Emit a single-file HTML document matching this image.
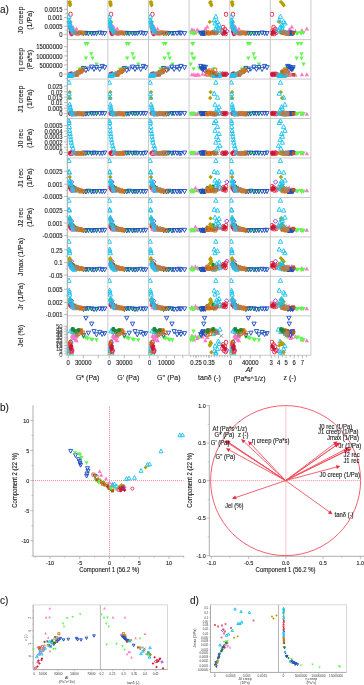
<!DOCTYPE html><html><head><meta charset="utf-8"><title>Figure</title><style>html,body{margin:0;padding:0;background:#fff;width:364px;height:685px;overflow:hidden}svg{display:block;will-change:transform;filter:blur(0.3px)}text{font-family:"Liberation Sans",sans-serif;stroke:#1a1a1a;stroke-width:.12px}text.s{stroke:none;fill:#333}</style></head><body><svg width="364" height="685" viewBox="0 0 364 685" font-family="Liberation Sans, sans-serif"><defs><clipPath id="a0_0"><rect x="67.30" y="0.14" width="40.60" height="39.46"/></clipPath><clipPath id="a0_1"><rect x="67.30" y="39.60" width="40.60" height="39.46"/></clipPath><clipPath id="a0_2"><rect x="67.30" y="79.06" width="40.60" height="39.46"/></clipPath><clipPath id="a0_3"><rect x="67.30" y="118.52" width="40.60" height="39.46"/></clipPath><clipPath id="a0_4"><rect x="67.30" y="157.98" width="40.60" height="39.46"/></clipPath><clipPath id="a0_5"><rect x="67.30" y="197.44" width="40.60" height="39.46"/></clipPath><clipPath id="a0_6"><rect x="67.30" y="236.90" width="40.60" height="39.46"/></clipPath><clipPath id="a0_7"><rect x="67.30" y="276.36" width="40.60" height="39.46"/></clipPath><clipPath id="a0_8"><rect x="67.30" y="315.82" width="40.60" height="39.46"/></clipPath><clipPath id="a1_0"><rect x="107.90" y="0.14" width="40.60" height="39.46"/></clipPath><clipPath id="a1_1"><rect x="107.90" y="39.60" width="40.60" height="39.46"/></clipPath><clipPath id="a1_2"><rect x="107.90" y="79.06" width="40.60" height="39.46"/></clipPath><clipPath id="a1_3"><rect x="107.90" y="118.52" width="40.60" height="39.46"/></clipPath><clipPath id="a1_4"><rect x="107.90" y="157.98" width="40.60" height="39.46"/></clipPath><clipPath id="a1_5"><rect x="107.90" y="197.44" width="40.60" height="39.46"/></clipPath><clipPath id="a1_6"><rect x="107.90" y="236.90" width="40.60" height="39.46"/></clipPath><clipPath id="a1_7"><rect x="107.90" y="276.36" width="40.60" height="39.46"/></clipPath><clipPath id="a1_8"><rect x="107.90" y="315.82" width="40.60" height="39.46"/></clipPath><clipPath id="a2_0"><rect x="148.50" y="0.14" width="40.60" height="39.46"/></clipPath><clipPath id="a2_1"><rect x="148.50" y="39.60" width="40.60" height="39.46"/></clipPath><clipPath id="a2_2"><rect x="148.50" y="79.06" width="40.60" height="39.46"/></clipPath><clipPath id="a2_3"><rect x="148.50" y="118.52" width="40.60" height="39.46"/></clipPath><clipPath id="a2_4"><rect x="148.50" y="157.98" width="40.60" height="39.46"/></clipPath><clipPath id="a2_5"><rect x="148.50" y="197.44" width="40.60" height="39.46"/></clipPath><clipPath id="a2_6"><rect x="148.50" y="236.90" width="40.60" height="39.46"/></clipPath><clipPath id="a2_7"><rect x="148.50" y="276.36" width="40.60" height="39.46"/></clipPath><clipPath id="a2_8"><rect x="148.50" y="315.82" width="40.60" height="39.46"/></clipPath><clipPath id="a3_0"><rect x="189.10" y="0.14" width="40.60" height="39.46"/></clipPath><clipPath id="a3_1"><rect x="189.10" y="39.60" width="40.60" height="39.46"/></clipPath><clipPath id="a3_2"><rect x="189.10" y="79.06" width="40.60" height="39.46"/></clipPath><clipPath id="a3_3"><rect x="189.10" y="118.52" width="40.60" height="39.46"/></clipPath><clipPath id="a3_4"><rect x="189.10" y="157.98" width="40.60" height="39.46"/></clipPath><clipPath id="a3_5"><rect x="189.10" y="197.44" width="40.60" height="39.46"/></clipPath><clipPath id="a3_6"><rect x="189.10" y="236.90" width="40.60" height="39.46"/></clipPath><clipPath id="a3_7"><rect x="189.10" y="276.36" width="40.60" height="39.46"/></clipPath><clipPath id="a3_8"><rect x="189.10" y="315.82" width="40.60" height="39.46"/></clipPath><clipPath id="a4_0"><rect x="229.70" y="0.14" width="40.60" height="39.46"/></clipPath><clipPath id="a4_1"><rect x="229.70" y="39.60" width="40.60" height="39.46"/></clipPath><clipPath id="a4_2"><rect x="229.70" y="79.06" width="40.60" height="39.46"/></clipPath><clipPath id="a4_3"><rect x="229.70" y="118.52" width="40.60" height="39.46"/></clipPath><clipPath id="a4_4"><rect x="229.70" y="157.98" width="40.60" height="39.46"/></clipPath><clipPath id="a4_5"><rect x="229.70" y="197.44" width="40.60" height="39.46"/></clipPath><clipPath id="a4_6"><rect x="229.70" y="236.90" width="40.60" height="39.46"/></clipPath><clipPath id="a4_7"><rect x="229.70" y="276.36" width="40.60" height="39.46"/></clipPath><clipPath id="a4_8"><rect x="229.70" y="315.82" width="40.60" height="39.46"/></clipPath><clipPath id="a5_0"><rect x="270.30" y="0.14" width="40.60" height="39.46"/></clipPath><clipPath id="a5_1"><rect x="270.30" y="39.60" width="40.60" height="39.46"/></clipPath><clipPath id="a5_2"><rect x="270.30" y="79.06" width="40.60" height="39.46"/></clipPath><clipPath id="a5_3"><rect x="270.30" y="118.52" width="40.60" height="39.46"/></clipPath><clipPath id="a5_4"><rect x="270.30" y="157.98" width="40.60" height="39.46"/></clipPath><clipPath id="a5_5"><rect x="270.30" y="197.44" width="40.60" height="39.46"/></clipPath><clipPath id="a5_6"><rect x="270.30" y="236.90" width="40.60" height="39.46"/></clipPath><clipPath id="a5_7"><rect x="270.30" y="276.36" width="40.60" height="39.46"/></clipPath><clipPath id="a5_8"><rect x="270.30" y="315.82" width="40.60" height="39.46"/></clipPath></defs><line x1="107.90" y1="0.00" x2="107.90" y2="355.28" stroke="#c4c4c4" stroke-width="0.9"/><line x1="148.50" y1="0.00" x2="148.50" y2="355.28" stroke="#c4c4c4" stroke-width="0.9"/><line x1="189.10" y1="0.00" x2="189.10" y2="355.28" stroke="#c4c4c4" stroke-width="0.9"/><line x1="229.70" y1="0.00" x2="229.70" y2="355.28" stroke="#c4c4c4" stroke-width="0.9"/><line x1="270.30" y1="0.00" x2="270.30" y2="355.28" stroke="#c4c4c4" stroke-width="0.9"/><line x1="310.90" y1="0.00" x2="310.90" y2="355.28" stroke="#c4c4c4" stroke-width="0.9"/><line x1="67.30" y1="39.60" x2="310.90" y2="39.60" stroke="#c4c4c4" stroke-width="0.9"/><line x1="67.30" y1="79.06" x2="310.90" y2="79.06" stroke="#c4c4c4" stroke-width="0.9"/><line x1="67.30" y1="118.52" x2="310.90" y2="118.52" stroke="#c4c4c4" stroke-width="0.9"/><line x1="67.30" y1="157.98" x2="310.90" y2="157.98" stroke="#c4c4c4" stroke-width="0.9"/><line x1="67.30" y1="197.44" x2="310.90" y2="197.44" stroke="#c4c4c4" stroke-width="0.9"/><line x1="67.30" y1="236.90" x2="310.90" y2="236.90" stroke="#c4c4c4" stroke-width="0.9"/><line x1="67.30" y1="276.36" x2="310.90" y2="276.36" stroke="#c4c4c4" stroke-width="0.9"/><line x1="67.30" y1="315.82" x2="310.90" y2="315.82" stroke="#c4c4c4" stroke-width="0.9"/><line x1="67.30" y1="355.28" x2="310.90" y2="355.28" stroke="#c4c4c4" stroke-width="0.9"/><line x1="67.30" y1="0.00" x2="67.30" y2="355.28" stroke="#9a9a9a" stroke-width="0.9"/><line x1="64.10" y1="9.30" x2="67.30" y2="9.30" stroke="#9a9a9a" stroke-width="0.7"/><text transform="translate(62.50 9.50) scale(0.930 1)" font-size="6.37" text-anchor="end" fill="#1a1a1a" dominant-baseline="central">0.0015</text><line x1="65.50" y1="13.45" x2="67.30" y2="13.45" stroke="#9a9a9a" stroke-width="0.6"/><line x1="64.10" y1="17.60" x2="67.30" y2="17.60" stroke="#9a9a9a" stroke-width="0.7"/><text transform="translate(62.50 17.80) scale(0.930 1)" font-size="6.37" text-anchor="end" fill="#1a1a1a" dominant-baseline="central">0.001</text><line x1="65.50" y1="21.90" x2="67.30" y2="21.90" stroke="#9a9a9a" stroke-width="0.6"/><line x1="64.10" y1="26.20" x2="67.30" y2="26.20" stroke="#9a9a9a" stroke-width="0.7"/><text transform="translate(62.50 26.40) scale(0.930 1)" font-size="6.37" text-anchor="end" fill="#1a1a1a" dominant-baseline="central">0.0005</text><line x1="65.50" y1="30.25" x2="67.30" y2="30.25" stroke="#9a9a9a" stroke-width="0.6"/><line x1="64.10" y1="34.30" x2="67.30" y2="34.30" stroke="#9a9a9a" stroke-width="0.7"/><text transform="translate(62.50 34.50) scale(0.930 1)" font-size="6.37" text-anchor="end" fill="#1a1a1a" dominant-baseline="central">0</text><line x1="65.50" y1="38.35" x2="67.30" y2="38.35" stroke="#9a9a9a" stroke-width="0.6"/><line x1="64.10" y1="46.70" x2="67.30" y2="46.70" stroke="#9a9a9a" stroke-width="0.7"/><text transform="translate(62.50 46.90) scale(0.930 1)" font-size="6.37" text-anchor="end" fill="#1a1a1a" dominant-baseline="central">15000000</text><line x1="65.50" y1="51.30" x2="67.30" y2="51.30" stroke="#9a9a9a" stroke-width="0.6"/><line x1="64.10" y1="55.90" x2="67.30" y2="55.90" stroke="#9a9a9a" stroke-width="0.7"/><text transform="translate(62.50 56.10) scale(0.930 1)" font-size="6.37" text-anchor="end" fill="#1a1a1a" dominant-baseline="central">10000000</text><line x1="65.50" y1="60.40" x2="67.30" y2="60.40" stroke="#9a9a9a" stroke-width="0.6"/><line x1="64.10" y1="64.90" x2="67.30" y2="64.90" stroke="#9a9a9a" stroke-width="0.7"/><text transform="translate(62.50 65.10) scale(0.930 1)" font-size="6.37" text-anchor="end" fill="#1a1a1a" dominant-baseline="central">5000000</text><line x1="65.50" y1="69.45" x2="67.30" y2="69.45" stroke="#9a9a9a" stroke-width="0.6"/><line x1="64.10" y1="74.00" x2="67.30" y2="74.00" stroke="#9a9a9a" stroke-width="0.7"/><text transform="translate(62.50 74.20) scale(0.930 1)" font-size="6.37" text-anchor="end" fill="#1a1a1a" dominant-baseline="central">0</text><line x1="65.50" y1="78.55" x2="67.30" y2="78.55" stroke="#9a9a9a" stroke-width="0.6"/><line x1="64.10" y1="86.10" x2="67.30" y2="86.10" stroke="#9a9a9a" stroke-width="0.7"/><text transform="translate(62.50 86.30) scale(0.930 1)" font-size="6.37" text-anchor="end" fill="#1a1a1a" dominant-baseline="central">0.025</text><line x1="65.50" y1="88.95" x2="67.30" y2="88.95" stroke="#9a9a9a" stroke-width="0.6"/><line x1="64.10" y1="91.80" x2="67.30" y2="91.80" stroke="#9a9a9a" stroke-width="0.7"/><text transform="translate(62.50 92.00) scale(0.930 1)" font-size="6.37" text-anchor="end" fill="#1a1a1a" dominant-baseline="central">0.02</text><line x1="65.50" y1="94.50" x2="67.30" y2="94.50" stroke="#9a9a9a" stroke-width="0.6"/><line x1="64.10" y1="97.20" x2="67.30" y2="97.20" stroke="#9a9a9a" stroke-width="0.7"/><text transform="translate(62.50 97.40) scale(0.930 1)" font-size="6.37" text-anchor="end" fill="#1a1a1a" dominant-baseline="central">0.015</text><line x1="65.50" y1="99.90" x2="67.30" y2="99.90" stroke="#9a9a9a" stroke-width="0.6"/><line x1="64.10" y1="102.60" x2="67.30" y2="102.60" stroke="#9a9a9a" stroke-width="0.7"/><text transform="translate(62.50 102.80) scale(0.930 1)" font-size="6.37" text-anchor="end" fill="#1a1a1a" dominant-baseline="central">0.01</text><line x1="65.50" y1="105.40" x2="67.30" y2="105.40" stroke="#9a9a9a" stroke-width="0.6"/><line x1="64.10" y1="108.20" x2="67.30" y2="108.20" stroke="#9a9a9a" stroke-width="0.7"/><text transform="translate(62.50 108.40) scale(0.930 1)" font-size="6.37" text-anchor="end" fill="#1a1a1a" dominant-baseline="central">0.005</text><line x1="65.50" y1="110.90" x2="67.30" y2="110.90" stroke="#9a9a9a" stroke-width="0.6"/><line x1="64.10" y1="113.60" x2="67.30" y2="113.60" stroke="#9a9a9a" stroke-width="0.7"/><text transform="translate(62.50 113.80) scale(0.930 1)" font-size="6.37" text-anchor="end" fill="#1a1a1a" dominant-baseline="central">0</text><line x1="65.50" y1="116.30" x2="67.30" y2="116.30" stroke="#9a9a9a" stroke-width="0.6"/><line x1="64.10" y1="125.70" x2="67.30" y2="125.70" stroke="#9a9a9a" stroke-width="0.7"/><text transform="translate(62.50 125.90) scale(0.930 1)" font-size="6.37" text-anchor="end" fill="#1a1a1a" dominant-baseline="central">0.0005</text><line x1="65.50" y1="128.40" x2="67.30" y2="128.40" stroke="#9a9a9a" stroke-width="0.6"/><line x1="64.10" y1="131.10" x2="67.30" y2="131.10" stroke="#9a9a9a" stroke-width="0.7"/><text transform="translate(62.50 131.30) scale(0.930 1)" font-size="6.37" text-anchor="end" fill="#1a1a1a" dominant-baseline="central">0.0004</text><line x1="65.50" y1="133.80" x2="67.30" y2="133.80" stroke="#9a9a9a" stroke-width="0.6"/><line x1="64.10" y1="136.50" x2="67.30" y2="136.50" stroke="#9a9a9a" stroke-width="0.7"/><text transform="translate(62.50 136.70) scale(0.930 1)" font-size="6.37" text-anchor="end" fill="#1a1a1a" dominant-baseline="central">0.0003</text><line x1="65.50" y1="139.20" x2="67.30" y2="139.20" stroke="#9a9a9a" stroke-width="0.6"/><line x1="64.10" y1="141.90" x2="67.30" y2="141.90" stroke="#9a9a9a" stroke-width="0.7"/><text transform="translate(62.50 142.10) scale(0.930 1)" font-size="6.37" text-anchor="end" fill="#1a1a1a" dominant-baseline="central">0.0002</text><line x1="65.50" y1="144.55" x2="67.30" y2="144.55" stroke="#9a9a9a" stroke-width="0.6"/><line x1="64.10" y1="147.20" x2="67.30" y2="147.20" stroke="#9a9a9a" stroke-width="0.7"/><text transform="translate(62.50 147.40) scale(0.930 1)" font-size="6.37" text-anchor="end" fill="#1a1a1a" dominant-baseline="central">0.0001</text><line x1="65.50" y1="149.90" x2="67.30" y2="149.90" stroke="#9a9a9a" stroke-width="0.6"/><line x1="64.10" y1="152.60" x2="67.30" y2="152.60" stroke="#9a9a9a" stroke-width="0.7"/><text transform="translate(62.50 152.80) scale(0.930 1)" font-size="6.37" text-anchor="end" fill="#1a1a1a" dominant-baseline="central">0</text><line x1="65.50" y1="155.30" x2="67.30" y2="155.30" stroke="#9a9a9a" stroke-width="0.6"/><line x1="64.10" y1="171.20" x2="67.30" y2="171.20" stroke="#9a9a9a" stroke-width="0.7"/><text transform="translate(62.50 171.40) scale(0.930 1)" font-size="6.37" text-anchor="end" fill="#1a1a1a" dominant-baseline="central">0.0025</text><line x1="65.50" y1="177.70" x2="67.30" y2="177.70" stroke="#9a9a9a" stroke-width="0.6"/><line x1="64.10" y1="184.20" x2="67.30" y2="184.20" stroke="#9a9a9a" stroke-width="0.7"/><text transform="translate(62.50 184.40) scale(0.930 1)" font-size="6.37" text-anchor="end" fill="#1a1a1a" dominant-baseline="central">0.001</text><line x1="65.50" y1="190.30" x2="67.30" y2="190.30" stroke="#9a9a9a" stroke-width="0.6"/><line x1="64.10" y1="196.40" x2="67.30" y2="196.40" stroke="#9a9a9a" stroke-width="0.7"/><text transform="translate(62.50 196.60) scale(0.930 1)" font-size="6.37" text-anchor="end" fill="#1a1a1a" dominant-baseline="central">-0.0005</text><line x1="64.10" y1="210.60" x2="67.30" y2="210.60" stroke="#9a9a9a" stroke-width="0.7"/><text transform="translate(62.50 210.80) scale(0.930 1)" font-size="6.37" text-anchor="end" fill="#1a1a1a" dominant-baseline="central">0.0025</text><line x1="65.50" y1="216.80" x2="67.30" y2="216.80" stroke="#9a9a9a" stroke-width="0.6"/><line x1="64.10" y1="223.00" x2="67.30" y2="223.00" stroke="#9a9a9a" stroke-width="0.7"/><text transform="translate(62.50 223.20) scale(0.930 1)" font-size="6.37" text-anchor="end" fill="#1a1a1a" dominant-baseline="central">0.001</text><line x1="65.50" y1="229.30" x2="67.30" y2="229.30" stroke="#9a9a9a" stroke-width="0.6"/><line x1="64.10" y1="235.60" x2="67.30" y2="235.60" stroke="#9a9a9a" stroke-width="0.7"/><text transform="translate(62.50 235.80) scale(0.930 1)" font-size="6.37" text-anchor="end" fill="#1a1a1a" dominant-baseline="central">-0.0005</text><line x1="64.10" y1="249.80" x2="67.30" y2="249.80" stroke="#9a9a9a" stroke-width="0.7"/><text transform="translate(62.50 250.00) scale(0.930 1)" font-size="6.37" text-anchor="end" fill="#1a1a1a" dominant-baseline="central">0.25</text><line x1="65.50" y1="256.25" x2="67.30" y2="256.25" stroke="#9a9a9a" stroke-width="0.6"/><line x1="64.10" y1="262.70" x2="67.30" y2="262.70" stroke="#9a9a9a" stroke-width="0.7"/><text transform="translate(62.50 262.90) scale(0.930 1)" font-size="6.37" text-anchor="end" fill="#1a1a1a" dominant-baseline="central">0.1</text><line x1="65.50" y1="268.95" x2="67.30" y2="268.95" stroke="#9a9a9a" stroke-width="0.6"/><line x1="64.10" y1="275.20" x2="67.30" y2="275.20" stroke="#9a9a9a" stroke-width="0.7"/><text transform="translate(62.50 275.40) scale(0.930 1)" font-size="6.37" text-anchor="end" fill="#1a1a1a" dominant-baseline="central">-0.05</text><line x1="64.10" y1="289.20" x2="67.30" y2="289.20" stroke="#9a9a9a" stroke-width="0.7"/><text transform="translate(62.50 289.40) scale(0.930 1)" font-size="6.37" text-anchor="end" fill="#1a1a1a" dominant-baseline="central">0.005</text><line x1="65.50" y1="295.85" x2="67.30" y2="295.85" stroke="#9a9a9a" stroke-width="0.6"/><line x1="64.10" y1="302.50" x2="67.30" y2="302.50" stroke="#9a9a9a" stroke-width="0.7"/><text transform="translate(62.50 302.70) scale(0.930 1)" font-size="6.37" text-anchor="end" fill="#1a1a1a" dominant-baseline="central">0.002</text><line x1="65.50" y1="308.55" x2="67.30" y2="308.55" stroke="#9a9a9a" stroke-width="0.6"/><line x1="64.10" y1="314.60" x2="67.30" y2="314.60" stroke="#9a9a9a" stroke-width="0.7"/><text transform="translate(62.50 314.80) scale(0.930 1)" font-size="6.37" text-anchor="end" fill="#1a1a1a" dominant-baseline="central">-0.001</text><line x1="64.10" y1="326.30" x2="67.30" y2="326.30" stroke="#9a9a9a" stroke-width="0.7"/><text transform="translate(62.50 326.50) scale(0.930 1)" font-size="6.37" text-anchor="end" fill="#1a1a1a" dominant-baseline="central" class="s">50</text><line x1="65.50" y1="327.68" x2="67.30" y2="327.68" stroke="#9a9a9a" stroke-width="0.6"/><line x1="64.10" y1="329.05" x2="67.30" y2="329.05" stroke="#9a9a9a" stroke-width="0.7"/><text transform="translate(62.50 329.25) scale(0.930 1)" font-size="6.37" text-anchor="end" fill="#1a1a1a" dominant-baseline="central" class="s">45</text><line x1="65.50" y1="330.43" x2="67.30" y2="330.43" stroke="#9a9a9a" stroke-width="0.6"/><line x1="64.10" y1="331.80" x2="67.30" y2="331.80" stroke="#9a9a9a" stroke-width="0.7"/><text transform="translate(62.50 332.00) scale(0.930 1)" font-size="6.37" text-anchor="end" fill="#1a1a1a" dominant-baseline="central" class="s">40</text><line x1="65.50" y1="333.18" x2="67.30" y2="333.18" stroke="#9a9a9a" stroke-width="0.6"/><line x1="64.10" y1="334.55" x2="67.30" y2="334.55" stroke="#9a9a9a" stroke-width="0.7"/><text transform="translate(62.50 334.75) scale(0.930 1)" font-size="6.37" text-anchor="end" fill="#1a1a1a" dominant-baseline="central" class="s">35</text><line x1="65.50" y1="335.93" x2="67.30" y2="335.93" stroke="#9a9a9a" stroke-width="0.6"/><line x1="64.10" y1="337.30" x2="67.30" y2="337.30" stroke="#9a9a9a" stroke-width="0.7"/><text transform="translate(62.50 337.50) scale(0.930 1)" font-size="6.37" text-anchor="end" fill="#1a1a1a" dominant-baseline="central" class="s">30</text><line x1="65.50" y1="338.68" x2="67.30" y2="338.68" stroke="#9a9a9a" stroke-width="0.6"/><line x1="64.10" y1="340.05" x2="67.30" y2="340.05" stroke="#9a9a9a" stroke-width="0.7"/><text transform="translate(62.50 340.25) scale(0.930 1)" font-size="6.37" text-anchor="end" fill="#1a1a1a" dominant-baseline="central" class="s">25</text><line x1="65.50" y1="341.43" x2="67.30" y2="341.43" stroke="#9a9a9a" stroke-width="0.6"/><line x1="64.10" y1="342.80" x2="67.30" y2="342.80" stroke="#9a9a9a" stroke-width="0.7"/><text transform="translate(62.50 343.00) scale(0.930 1)" font-size="6.37" text-anchor="end" fill="#1a1a1a" dominant-baseline="central" class="s">20</text><line x1="65.50" y1="344.18" x2="67.30" y2="344.18" stroke="#9a9a9a" stroke-width="0.6"/><line x1="64.10" y1="345.55" x2="67.30" y2="345.55" stroke="#9a9a9a" stroke-width="0.7"/><text transform="translate(62.50 345.75) scale(0.930 1)" font-size="6.37" text-anchor="end" fill="#1a1a1a" dominant-baseline="central" class="s">15</text><line x1="65.50" y1="346.93" x2="67.30" y2="346.93" stroke="#9a9a9a" stroke-width="0.6"/><line x1="64.10" y1="348.30" x2="67.30" y2="348.30" stroke="#9a9a9a" stroke-width="0.7"/><text transform="translate(62.50 348.50) scale(0.930 1)" font-size="6.37" text-anchor="end" fill="#1a1a1a" dominant-baseline="central" class="s">10</text><line x1="65.50" y1="349.68" x2="67.30" y2="349.68" stroke="#9a9a9a" stroke-width="0.6"/><line x1="64.10" y1="351.05" x2="67.30" y2="351.05" stroke="#9a9a9a" stroke-width="0.7"/><text transform="translate(62.50 351.25) scale(0.930 1)" font-size="6.37" text-anchor="end" fill="#1a1a1a" dominant-baseline="central" class="s">5</text><line x1="65.50" y1="352.43" x2="67.30" y2="352.43" stroke="#9a9a9a" stroke-width="0.6"/><line x1="64.10" y1="353.80" x2="67.30" y2="353.80" stroke="#9a9a9a" stroke-width="0.7"/><text transform="translate(62.50 354.00) scale(0.930 1)" font-size="6.37" text-anchor="end" fill="#1a1a1a" dominant-baseline="central" class="s">0</text><line x1="65.50" y1="355.18" x2="67.30" y2="355.18" stroke="#9a9a9a" stroke-width="0.6"/><text transform="translate(20.60 20.17) rotate(-90) scale(0.930 1)" font-size="7.56" text-anchor="middle" fill="#1a1a1a" dominant-baseline="central">J0 creep</text><text transform="translate(29.50 20.17) rotate(-90) scale(0.930 1)" font-size="7.56" text-anchor="middle" fill="#1a1a1a" dominant-baseline="central">(1/Pa)</text><text transform="translate(20.60 59.63) rotate(-90) scale(0.930 1)" font-size="7.56" text-anchor="middle" fill="#1a1a1a" dominant-baseline="central">η creep</text><text transform="translate(29.50 59.63) rotate(-90) scale(0.930 1)" font-size="7.56" text-anchor="middle" fill="#1a1a1a" dominant-baseline="central">(Pa*s)</text><text transform="translate(20.60 99.09) rotate(-90) scale(0.930 1)" font-size="7.56" text-anchor="middle" fill="#1a1a1a" dominant-baseline="central">J1 creep</text><text transform="translate(29.50 99.09) rotate(-90) scale(0.930 1)" font-size="7.56" text-anchor="middle" fill="#1a1a1a" dominant-baseline="central">(1/Pa)</text><text transform="translate(20.60 138.55) rotate(-90) scale(0.930 1)" font-size="7.56" text-anchor="middle" fill="#1a1a1a" dominant-baseline="central">J0 rec</text><text transform="translate(29.50 138.55) rotate(-90) scale(0.930 1)" font-size="7.56" text-anchor="middle" fill="#1a1a1a" dominant-baseline="central">(1/Pa)</text><text transform="translate(20.60 178.01) rotate(-90) scale(0.930 1)" font-size="7.56" text-anchor="middle" fill="#1a1a1a" dominant-baseline="central">J1 rec</text><text transform="translate(29.50 178.01) rotate(-90) scale(0.930 1)" font-size="7.56" text-anchor="middle" fill="#1a1a1a" dominant-baseline="central">(1/Pa)</text><text transform="translate(20.60 217.47) rotate(-90) scale(0.930 1)" font-size="7.56" text-anchor="middle" fill="#1a1a1a" dominant-baseline="central">J2 rec</text><text transform="translate(29.50 217.47) rotate(-90) scale(0.930 1)" font-size="7.56" text-anchor="middle" fill="#1a1a1a" dominant-baseline="central">(1/Pa)</text><text transform="translate(20.60 256.93) rotate(-90) scale(0.930 1)" font-size="7.56" text-anchor="middle" fill="#1a1a1a" dominant-baseline="central">Jmax (1/Pa)</text><text transform="translate(20.60 296.39) rotate(-90) scale(0.930 1)" font-size="7.56" text-anchor="middle" fill="#1a1a1a" dominant-baseline="central">Jr (1/Pa)</text><text transform="translate(20.60 335.85) rotate(-90) scale(0.930 1)" font-size="7.56" text-anchor="middle" fill="#1a1a1a" dominant-baseline="central">Jel (%)</text><line x1="68.20" y1="355.28" x2="68.20" y2="358.28" stroke="#9a9a9a" stroke-width="0.7"/><text transform="translate(68.20 362.50) scale(0.930 1)" font-size="6.37" text-anchor="middle" fill="#1a1a1a" dominant-baseline="central">0</text><line x1="83.20" y1="355.28" x2="83.20" y2="358.28" stroke="#9a9a9a" stroke-width="0.7"/><text transform="translate(83.20 362.50) scale(0.930 1)" font-size="6.37" text-anchor="middle" fill="#1a1a1a" dominant-baseline="central">30000</text><line x1="98.20" y1="355.28" x2="98.20" y2="358.28" stroke="#9a9a9a" stroke-width="0.7"/><line x1="109.20" y1="355.28" x2="109.20" y2="358.28" stroke="#9a9a9a" stroke-width="0.7"/><text transform="translate(109.20 362.50) scale(0.930 1)" font-size="6.37" text-anchor="middle" fill="#1a1a1a" dominant-baseline="central">0</text><line x1="124.20" y1="355.28" x2="124.20" y2="358.28" stroke="#9a9a9a" stroke-width="0.7"/><text transform="translate(124.20 362.50) scale(0.930 1)" font-size="6.37" text-anchor="middle" fill="#1a1a1a" dominant-baseline="central">30000</text><line x1="139.20" y1="355.28" x2="139.20" y2="358.28" stroke="#9a9a9a" stroke-width="0.7"/><line x1="149.60" y1="355.28" x2="149.60" y2="358.28" stroke="#9a9a9a" stroke-width="0.7"/><text transform="translate(149.60 362.50) scale(0.930 1)" font-size="6.37" text-anchor="middle" fill="#1a1a1a" dominant-baseline="central">0</text><line x1="157.90" y1="355.28" x2="157.90" y2="358.28" stroke="#9a9a9a" stroke-width="0.7"/><line x1="166.20" y1="355.28" x2="166.20" y2="358.28" stroke="#9a9a9a" stroke-width="0.7"/><text transform="translate(166.20 362.50) scale(0.930 1)" font-size="6.37" text-anchor="middle" fill="#1a1a1a" dominant-baseline="central">10000</text><line x1="174.50" y1="355.28" x2="174.50" y2="358.28" stroke="#9a9a9a" stroke-width="0.7"/><line x1="182.80" y1="355.28" x2="182.80" y2="358.28" stroke="#9a9a9a" stroke-width="0.7"/><line x1="190.70" y1="355.28" x2="190.70" y2="357.28" stroke="#9a9a9a" stroke-width="0.7"/><line x1="193.32" y1="355.28" x2="193.32" y2="357.28" stroke="#9a9a9a" stroke-width="0.7"/><line x1="195.94" y1="355.28" x2="195.94" y2="357.28" stroke="#9a9a9a" stroke-width="0.7"/><line x1="198.56" y1="355.28" x2="198.56" y2="357.28" stroke="#9a9a9a" stroke-width="0.7"/><line x1="201.18" y1="355.28" x2="201.18" y2="357.28" stroke="#9a9a9a" stroke-width="0.7"/><line x1="203.80" y1="355.28" x2="203.80" y2="357.28" stroke="#9a9a9a" stroke-width="0.7"/><line x1="206.42" y1="355.28" x2="206.42" y2="357.28" stroke="#9a9a9a" stroke-width="0.7"/><line x1="209.04" y1="355.28" x2="209.04" y2="357.28" stroke="#9a9a9a" stroke-width="0.7"/><line x1="211.66" y1="355.28" x2="211.66" y2="357.28" stroke="#9a9a9a" stroke-width="0.7"/><line x1="214.28" y1="355.28" x2="214.28" y2="357.28" stroke="#9a9a9a" stroke-width="0.7"/><line x1="216.90" y1="355.28" x2="216.90" y2="357.28" stroke="#9a9a9a" stroke-width="0.7"/><line x1="219.52" y1="355.28" x2="219.52" y2="357.28" stroke="#9a9a9a" stroke-width="0.7"/><line x1="222.14" y1="355.28" x2="222.14" y2="357.28" stroke="#9a9a9a" stroke-width="0.7"/><line x1="224.76" y1="355.28" x2="224.76" y2="357.28" stroke="#9a9a9a" stroke-width="0.7"/><line x1="227.38" y1="355.28" x2="227.38" y2="357.28" stroke="#9a9a9a" stroke-width="0.7"/><line x1="196.10" y1="355.28" x2="196.10" y2="358.28" stroke="#9a9a9a" stroke-width="0.7"/><text transform="translate(196.10 362.50) scale(0.930 1)" font-size="6.37" text-anchor="middle" fill="#1a1a1a" dominant-baseline="central">0.25</text><line x1="209.00" y1="355.28" x2="209.00" y2="358.28" stroke="#9a9a9a" stroke-width="0.7"/><text transform="translate(209.00 362.50) scale(0.930 1)" font-size="6.37" text-anchor="middle" fill="#1a1a1a" dominant-baseline="central">0.35</text><line x1="230.40" y1="355.28" x2="230.40" y2="358.28" stroke="#9a9a9a" stroke-width="0.7"/><text transform="translate(230.40 362.50) scale(0.930 1)" font-size="6.37" text-anchor="middle" fill="#1a1a1a" dominant-baseline="central">0</text><line x1="240.30" y1="355.28" x2="240.30" y2="358.28" stroke="#9a9a9a" stroke-width="0.7"/><line x1="250.20" y1="355.28" x2="250.20" y2="358.28" stroke="#9a9a9a" stroke-width="0.7"/><text transform="translate(250.20 362.50) scale(0.930 1)" font-size="6.37" text-anchor="middle" fill="#1a1a1a" dominant-baseline="central">40000</text><line x1="260.10" y1="355.28" x2="260.10" y2="358.28" stroke="#9a9a9a" stroke-width="0.7"/><line x1="271.20" y1="355.28" x2="271.20" y2="358.28" stroke="#9a9a9a" stroke-width="0.7"/><text transform="translate(271.20 362.50) scale(0.930 1)" font-size="6.37" text-anchor="middle" fill="#1a1a1a" dominant-baseline="central">3</text><line x1="278.60" y1="355.28" x2="278.60" y2="358.28" stroke="#9a9a9a" stroke-width="0.7"/><text transform="translate(278.60 362.50) scale(0.930 1)" font-size="6.37" text-anchor="middle" fill="#1a1a1a" dominant-baseline="central">4</text><line x1="286.10" y1="355.28" x2="286.10" y2="358.28" stroke="#9a9a9a" stroke-width="0.7"/><text transform="translate(286.10 362.50) scale(0.930 1)" font-size="6.37" text-anchor="middle" fill="#1a1a1a" dominant-baseline="central">5</text><line x1="294.20" y1="355.28" x2="294.20" y2="358.28" stroke="#9a9a9a" stroke-width="0.7"/><text transform="translate(294.20 362.50) scale(0.930 1)" font-size="6.37" text-anchor="middle" fill="#1a1a1a" dominant-baseline="central">6</text><line x1="302.40" y1="355.28" x2="302.40" y2="358.28" stroke="#9a9a9a" stroke-width="0.7"/><text transform="translate(302.40 362.50) scale(0.930 1)" font-size="6.37" text-anchor="middle" fill="#1a1a1a" dominant-baseline="central">7</text><line x1="274.90" y1="355.28" x2="274.90" y2="357.28" stroke="#9a9a9a" stroke-width="0.7"/><line x1="282.40" y1="355.28" x2="282.40" y2="357.28" stroke="#9a9a9a" stroke-width="0.7"/><line x1="290.10" y1="355.28" x2="290.10" y2="357.28" stroke="#9a9a9a" stroke-width="0.7"/><line x1="298.30" y1="355.28" x2="298.30" y2="357.28" stroke="#9a9a9a" stroke-width="0.7"/><line x1="306.40" y1="355.28" x2="306.40" y2="357.28" stroke="#9a9a9a" stroke-width="0.7"/><text transform="translate(87.60 377.90) scale(0.930 1)" font-size="7.56" text-anchor="middle" fill="#1a1a1a" dominant-baseline="central">G* (Pa)</text><text transform="translate(128.20 377.90) scale(0.930 1)" font-size="7.56" text-anchor="middle" fill="#1a1a1a" dominant-baseline="central">G' (Pa)</text><text transform="translate(168.80 377.90) scale(0.930 1)" font-size="7.56" text-anchor="middle" fill="#1a1a1a" dominant-baseline="central">G'' (Pa)</text><text transform="translate(209.40 377.90) scale(0.930 1)" font-size="7.56" text-anchor="middle" fill="#1a1a1a" dominant-baseline="central">tanδ (-)</text><text transform="translate(289.80 377.90) scale(0.930 1)" font-size="7.56" text-anchor="middle" fill="#1a1a1a" dominant-baseline="central">z (-)</text><text transform="translate(249.00 369.80) scale(0.930 1)" font-size="7.56" text-anchor="middle" fill="#1a1a1a" dominant-baseline="central" font-style="italic">Af</text><text transform="translate(249.50 378.00) scale(0.930 1)" font-size="7.56" text-anchor="middle" fill="#1a1a1a" dominant-baseline="central">(Pa*s^1/z)</text><text transform="translate(0.00 9.60) scale(0.980 1)" font-size="10.26" text-anchor="start" fill="#1a1a1a" dominant-baseline="central">a)</text><g clip-path="url(#a0_0)"><path d="M71.5 29.1l2.2 2.2l-2.2 2.2l-2.2 -2.2z" fill="none" stroke="#8a35d2" stroke-width=".95"/><path d="M71.1 32a1.8 1.8 0 1 0 3.5 0a1.8 1.8 0 1 0 -3.5 0zM73.3 32.6a1.8 1.8 0 1 0 3.5 0a1.8 1.8 0 1 0 -3.5 0zM76.7 32.8a1.8 1.8 0 1 0 3.5 0a1.8 1.8 0 1 0 -3.5 0z" fill="#1c8a2c"/><path d="M69.7 -.4l2.2 2.2l-2.2 2.2l-2.2 -2.2zM69.7 .7l2.2 2.2l-2.2 2.2l-2.2 -2.2zM70.1 1.9l2.2 2.2l-2.2 2.2l-2.2 -2.2zM70.1 3.1l2.2 2.2l-2.2 2.2l-2.2 -2.2zM70.5 19.7l2.2 2.2l-2.2 2.2l-2.2 -2.2z" fill="#b3a000"/><path d="M68.9 14.3a1.7 1.7 0 1 0 3.3 0a1.7 1.7 0 1 0 -3.3 0zM68.5 27.4a1.7 1.7 0 1 0 3.3 0a1.7 1.7 0 1 0 -3.3 0zM69.3 29.3a1.7 1.7 0 1 0 3.3 0a1.7 1.7 0 1 0 -3.3 0zM69.7 30.9a1.7 1.7 0 1 0 3.3 0a1.7 1.7 0 1 0 -3.3 0zM70.5 32.5a1.7 1.7 0 1 0 3.3 0a1.7 1.7 0 1 0 -3.3 0zM70.1 33.7a1.7 1.7 0 1 0 3.3 0a1.7 1.7 0 1 0 -3.3 0z" fill="none" stroke="#e5334b" stroke-width=".95"/><path d="M70.5 29.6l2.2 2.2l-2.2 2.2l-2.2 -2.2zM71 30.7l2.2 2.2l-2.2 2.2l-2.2 -2.2zM71.4 31.9l2.2 2.2l-2.2 2.2l-2.2 -2.2z" fill="#cc1638"/><path d="M70.3 34.4h4.3l-2.2 -4.1zM74.2 35.3h4.3l-2.2 -4.1z" fill="#ff78c8"/><path d="M70 31.3h4.3l-2.2 -4.1zM71.6 31.7h4.3l-2.2 -4.1zM73.3 32.1h4.3l-2.2 -4.1zM74.5 30.6h4.3l-2.2 -4.1zM70.8 28.6h4.3l-2.2 -4.1zM72.5 32.9h4.3l-2.2 -4.1z" fill="#ff78c8"/><path d="M66.8 18.3h4.3l-2.2 -4.1zM67 21.9h4.3l-2.2 -4.1zM67.2 23.5h4.3l-2.2 -4.1zM67.6 25h4.3l-2.2 -4.1zM68 26.6h4.3l-2.2 -4.1zM68.4 27.8h4.3l-2.2 -4.1zM68.8 29.4h4.3l-2.2 -4.1zM69.2 30.6h4.3l-2.2 -4.1zM70 31.3h4.3l-2.2 -4.1zM70.8 32.5h4.3l-2.2 -4.1zM71.6 33.3h4.3l-2.2 -4.1zM72.5 34.1h4.3l-2.2 -4.1z" fill="none" stroke="#1fc3ef" stroke-width=".95"/><path d="M83.4 31.2h4.3l-2.2 4.1zM85.4 31.6h4.3l-2.2 4.1zM89.1 31.1h4.3l-2.2 4.1zM83.8 31.6h4.3l-2.2 4.1zM90.3 31h4.3l-2.2 4.1zM94.4 30.9h4.3l-2.2 4.1zM78.9 31.5h4.3l-2.2 4.1zM81.4 31.3h4.3l-2.2 4.1zM77.3 31h4.3l-2.2 4.1z" fill="#62f74f"/><path d="M81.4 31.4h4.3l-2.2 4.1zM83.8 31.3h4.3l-2.2 4.1zM86.3 31.6h4.3l-2.2 4.1zM89.5 31.6h4.3l-2.2 4.1zM91.9 31.5h4.3l-2.2 4.1zM94.4 31.5h4.3l-2.2 4.1zM97.6 31h4.3l-2.2 4.1zM100.1 31.4h4.3l-2.2 4.1zM102.5 31.6h4.3l-2.2 4.1z" fill="none" stroke="#1f4fbf" stroke-width=".95"/><path d="M75.2 31.2h3.5v3.5h-3.5zM76.1 31.1h3.5v3.5h-3.5zM77.7 30.9h3.5v3.5h-3.5zM78.9 31.3h3.5v3.5h-3.5zM79.9 31.6h3.5v3.5h-3.5z" fill="#b4591a"/><path d="M75.2 31.5h3.5v3.5h-3.5zM76.5 31.5h3.5v3.5h-3.5zM78.5 31h3.5v3.5h-3.5zM79.1 31.1h3.5v3.5h-3.5zM81.1 31.4h3.5v3.5h-3.5z" fill="none" stroke="#d9731f" stroke-width=".95"/><path d="M72.5 30.7l3.5 3.5m0 -3.5l-3.5 3.5M74.5 31.1l3.5 3.5m0 -3.5l-3.5 3.5M77 31.3l3.5 3.5m0 -3.5l-3.5 3.5" fill="none" stroke="#8c8c8c" stroke-width=".95"/></g><g clip-path="url(#a0_1)"><path d="M71.5 71.8l2.2 2.2l-2.2 2.2l-2.2 -2.2z" fill="none" stroke="#8a35d2" stroke-width=".95"/><path d="M71.1 74.6a1.8 1.8 0 1 0 3.5 0a1.8 1.8 0 1 0 -3.5 0zM73.3 73.7a1.8 1.8 0 1 0 3.5 0a1.8 1.8 0 1 0 -3.5 0zM76.7 72a1.8 1.8 0 1 0 3.5 0a1.8 1.8 0 1 0 -3.5 0z" fill="#1c8a2c"/><path d="M69.7 73l2.2 2.2l-2.2 2.2l-2.2 -2.2zM69.7 73l2.2 2.2l-2.2 2.2l-2.2 -2.2zM70.1 73l2.2 2.2l-2.2 2.2l-2.2 -2.2zM70.1 73l2.2 2.2l-2.2 2.2l-2.2 -2.2zM70.5 72.6l2.2 2.2l-2.2 2.2l-2.2 -2.2z" fill="#b3a000"/><path d="M68.9 74.3a1.7 1.7 0 1 0 3.3 0a1.7 1.7 0 1 0 -3.3 0zM68.5 74.3a1.7 1.7 0 1 0 3.3 0a1.7 1.7 0 1 0 -3.3 0zM69.3 74.3a1.7 1.7 0 1 0 3.3 0a1.7 1.7 0 1 0 -3.3 0zM69.7 74.3a1.7 1.7 0 1 0 3.3 0a1.7 1.7 0 1 0 -3.3 0zM70.5 74.3a1.7 1.7 0 1 0 3.3 0a1.7 1.7 0 1 0 -3.3 0zM70.1 74.3a1.7 1.7 0 1 0 3.3 0a1.7 1.7 0 1 0 -3.3 0z" fill="none" stroke="#e5334b" stroke-width=".95"/><path d="M70.5 72.2l2.2 2.2l-2.2 2.2l-2.2 -2.2zM71 72.2l2.2 2.2l-2.2 2.2l-2.2 -2.2zM71.4 72.2l2.2 2.2l-2.2 2.2l-2.2 -2.2z" fill="#cc1638"/><path d="M70.3 77h4.3l-2.2 -4.1zM74.2 75.7h4.3l-2.2 -4.1z" fill="#ff78c8"/><path d="M70 76.3h4.3l-2.2 -4.1zM71.6 76.3h4.3l-2.2 -4.1zM73.3 76.3h4.3l-2.2 -4.1zM74.5 76.3h4.3l-2.2 -4.1zM70.8 76.3h4.3l-2.2 -4.1zM72.5 76.7h4.3l-2.2 -4.1z" fill="#ff78c8"/><path d="M66.8 77.5h4.3l-2.2 -4.1zM67 77.5h4.3l-2.2 -4.1zM67.2 77.5h4.3l-2.2 -4.1zM67.6 77.1h4.3l-2.2 -4.1zM68 77.5h4.3l-2.2 -4.1zM68.4 77.1h4.3l-2.2 -4.1zM68.8 77.1h4.3l-2.2 -4.1zM69.2 77.1h4.3l-2.2 -4.1zM70 76.7h4.3l-2.2 -4.1zM70.8 76.7h4.3l-2.2 -4.1zM71.6 76.3h4.3l-2.2 -4.1zM72.5 76.3h4.3l-2.2 -4.1z" fill="none" stroke="#1fc3ef" stroke-width=".95"/><path d="M83.4 41.9h4.3l-2.2 4.1zM85.4 41.9h4.3l-2.2 4.1zM89.1 52.2h4.3l-2.2 4.1zM83.8 56.5h4.3l-2.2 4.1zM90.3 56.5h4.3l-2.2 4.1zM94.4 62.5h4.3l-2.2 4.1zM78.9 67.2h4.3l-2.2 4.1zM81.4 66.4h4.3l-2.2 4.1zM77.3 67.6h4.3l-2.2 4.1z" fill="#62f74f"/><path d="M81.4 66.4h4.3l-2.2 4.1zM83.8 68.5h4.3l-2.2 4.1zM86.3 67.1h4.3l-2.2 4.1zM89.5 65.1h4.3l-2.2 4.1zM91.9 67.3h4.3l-2.2 4.1zM94.4 65.4h4.3l-2.2 4.1zM97.6 67.4h4.3l-2.2 4.1zM100.1 64.4h4.3l-2.2 4.1zM102.5 65.7h4.3l-2.2 4.1z" fill="none" stroke="#1f4fbf" stroke-width=".95"/><path d="M75.2 72.9h3.5v3.5h-3.5zM76.1 71.2h3.5v3.5h-3.5zM77.7 70.5h3.5v3.5h-3.5zM78.9 70.4h3.5v3.5h-3.5zM79.9 69.4h3.5v3.5h-3.5z" fill="#b4591a"/><path d="M75.2 72.6h3.5v3.5h-3.5zM76.5 70.6h3.5v3.5h-3.5zM78.5 70h3.5v3.5h-3.5zM79.1 68.9h3.5v3.5h-3.5zM81.1 68.1h3.5v3.5h-3.5z" fill="none" stroke="#d9731f" stroke-width=".95"/><path d="M72.5 71.8l3.5 3.5m0 -3.5l-3.5 3.5M74.5 70.8l3.5 3.5m0 -3.5l-3.5 3.5M77 71.2l3.5 3.5m0 -3.5l-3.5 3.5" fill="none" stroke="#8c8c8c" stroke-width=".95"/></g><g clip-path="url(#a0_2)"><path d="M71.5 111.2l2.2 2.2l-2.2 2.2l-2.2 -2.2z" fill="none" stroke="#8a35d2" stroke-width=".95"/><path d="M71.1 113.4a1.8 1.8 0 1 0 3.5 0a1.8 1.8 0 1 0 -3.5 0zM73.3 113.6a1.8 1.8 0 1 0 3.5 0a1.8 1.8 0 1 0 -3.5 0zM76.7 113.7a1.8 1.8 0 1 0 3.5 0a1.8 1.8 0 1 0 -3.5 0z" fill="#1c8a2c"/><path d="M69.7 89.9l2.2 2.2l-2.2 2.2l-2.2 -2.2zM69.7 95.8l2.2 2.2l-2.2 2.2l-2.2 -2.2zM70.1 110.4l2.2 2.2l-2.2 2.2l-2.2 -2.2zM70.1 110.8l2.2 2.2l-2.2 2.2l-2.2 -2.2zM70.5 110.8l2.2 2.2l-2.2 2.2l-2.2 -2.2z" fill="#b3a000"/><path d="M68.9 113.4a1.7 1.7 0 1 0 3.3 0a1.7 1.7 0 1 0 -3.3 0zM68.5 113.4a1.7 1.7 0 1 0 3.3 0a1.7 1.7 0 1 0 -3.3 0zM69.3 113.4a1.7 1.7 0 1 0 3.3 0a1.7 1.7 0 1 0 -3.3 0zM69.7 113.4a1.7 1.7 0 1 0 3.3 0a1.7 1.7 0 1 0 -3.3 0zM70.5 113.8a1.7 1.7 0 1 0 3.3 0a1.7 1.7 0 1 0 -3.3 0zM70.1 113.8a1.7 1.7 0 1 0 3.3 0a1.7 1.7 0 1 0 -3.3 0z" fill="none" stroke="#e5334b" stroke-width=".95"/><path d="M70.5 111.2l2.2 2.2l-2.2 2.2l-2.2 -2.2zM71 111.2l2.2 2.2l-2.2 2.2l-2.2 -2.2zM71.4 111.6l2.2 2.2l-2.2 2.2l-2.2 -2.2z" fill="#cc1638"/><path d="M70.3 115.9h4.3l-2.2 -4.1zM74.2 115.8h4.3l-2.2 -4.1z" fill="#ff78c8"/><path d="M70 115.4h4.3l-2.2 -4.1zM71.6 115.4h4.3l-2.2 -4.1zM73.3 115.8h4.3l-2.2 -4.1zM74.5 115.8h4.3l-2.2 -4.1zM70.8 115.4h4.3l-2.2 -4.1zM72.5 115.8h4.3l-2.2 -4.1z" fill="#ff78c8"/><path d="M66.8 84.2h4.3l-2.2 -4.1zM67 95.3h4.3l-2.2 -4.1zM67.2 99.2h4.3l-2.2 -4.1zM67.6 106.3h4.3l-2.2 -4.1zM68 108.7h4.3l-2.2 -4.1zM68.4 110.3h4.3l-2.2 -4.1zM68.8 112.2h4.3l-2.2 -4.1zM69.2 114.2h4.3l-2.2 -4.1zM70 115h4.3l-2.2 -4.1zM70.8 115.4h4.3l-2.2 -4.1zM71.6 115.8h4.3l-2.2 -4.1zM72.5 115.8h4.3l-2.2 -4.1z" fill="none" stroke="#1fc3ef" stroke-width=".95"/><path d="M83.4 111.7h4.3l-2.2 4.1zM85.4 111.6h4.3l-2.2 4.1zM89.1 112.2h4.3l-2.2 4.1zM83.8 112h4.3l-2.2 4.1zM90.3 111.5h4.3l-2.2 4.1zM94.4 112.1h4.3l-2.2 4.1zM78.9 112.2h4.3l-2.2 4.1zM81.4 111.7h4.3l-2.2 4.1zM77.3 111.9h4.3l-2.2 4.1z" fill="#62f74f"/><path d="M81.4 112.1h4.3l-2.2 4.1zM83.8 112.1h4.3l-2.2 4.1zM86.3 112h4.3l-2.2 4.1zM89.5 111.5h4.3l-2.2 4.1zM91.9 111.7h4.3l-2.2 4.1zM94.4 111.6h4.3l-2.2 4.1zM97.6 111.6h4.3l-2.2 4.1zM100.1 111.4h4.3l-2.2 4.1zM102.5 111.6h4.3l-2.2 4.1z" fill="none" stroke="#1f4fbf" stroke-width=".95"/><path d="M75.2 112.1h3.5v3.5h-3.5zM76.1 111.7h3.5v3.5h-3.5zM77.7 112.2h3.5v3.5h-3.5zM78.9 112.3h3.5v3.5h-3.5zM79.9 111.9h3.5v3.5h-3.5z" fill="#b4591a"/><path d="M75.2 112.2h3.5v3.5h-3.5zM76.5 111.5h3.5v3.5h-3.5zM78.5 112.2h3.5v3.5h-3.5zM79.1 111.7h3.5v3.5h-3.5zM81.1 112.4h3.5v3.5h-3.5z" fill="none" stroke="#d9731f" stroke-width=".95"/><path d="M72.5 111.5l3.5 3.5m0 -3.5l-3.5 3.5M74.5 111.6l3.5 3.5m0 -3.5l-3.5 3.5M77 112.1l3.5 3.5m0 -3.5l-3.5 3.5" fill="none" stroke="#8c8c8c" stroke-width=".95"/></g><g clip-path="url(#a0_3)"><path d="M71.5 150.6l2.2 2.2l-2.2 2.2l-2.2 -2.2z" fill="none" stroke="#8a35d2" stroke-width=".95"/><path d="M71.1 153a1.8 1.8 0 1 0 3.5 0a1.8 1.8 0 1 0 -3.5 0zM73.3 153.1a1.8 1.8 0 1 0 3.5 0a1.8 1.8 0 1 0 -3.5 0zM76.7 153.1a1.8 1.8 0 1 0 3.5 0a1.8 1.8 0 1 0 -3.5 0z" fill="#1c8a2c"/><path d="M69.7 151.1l2.2 2.2l-2.2 2.2l-2.2 -2.2zM69.7 151.1l2.2 2.2l-2.2 2.2l-2.2 -2.2zM70.1 151.1l2.2 2.2l-2.2 2.2l-2.2 -2.2zM70.1 151.1l2.2 2.2l-2.2 2.2l-2.2 -2.2zM70.5 150.7l2.2 2.2l-2.2 2.2l-2.2 -2.2z" fill="#b3a000"/><path d="M68.9 153.2a1.7 1.7 0 1 0 3.3 0a1.7 1.7 0 1 0 -3.3 0zM68.5 153.2a1.7 1.7 0 1 0 3.3 0a1.7 1.7 0 1 0 -3.3 0zM69.3 153.2a1.7 1.7 0 1 0 3.3 0a1.7 1.7 0 1 0 -3.3 0zM69.7 153.2a1.7 1.7 0 1 0 3.3 0a1.7 1.7 0 1 0 -3.3 0zM70.5 153.2a1.7 1.7 0 1 0 3.3 0a1.7 1.7 0 1 0 -3.3 0zM70.1 153.2a1.7 1.7 0 1 0 3.3 0a1.7 1.7 0 1 0 -3.3 0z" fill="none" stroke="#e5334b" stroke-width=".95"/><path d="M70.5 151.1l2.2 2.2l-2.2 2.2l-2.2 -2.2zM71 151.1l2.2 2.2l-2.2 2.2l-2.2 -2.2zM71.4 151.1l2.2 2.2l-2.2 2.2l-2.2 -2.2z" fill="#cc1638"/><path d="M70.3 155.1h4.3l-2.2 -4.1zM74.2 155.5h4.3l-2.2 -4.1z" fill="#ff78c8"/><path d="M70 155.3h4.3l-2.2 -4.1zM71.6 155.3h4.3l-2.2 -4.1zM73.3 155.3h4.3l-2.2 -4.1zM74.5 155.3h4.3l-2.2 -4.1zM70.8 155.3h4.3l-2.2 -4.1zM72.5 155.3h4.3l-2.2 -4.1z" fill="#ff78c8"/><path d="M66.8 122.5h4.3l-2.2 -4.1zM67 124.5h4.3l-2.2 -4.1zM67.2 128.4h4.3l-2.2 -4.1zM67.6 132.4h4.3l-2.2 -4.1zM68 135.5h4.3l-2.2 -4.1zM68.4 138.3h4.3l-2.2 -4.1zM68.8 141.4h4.3l-2.2 -4.1zM69.2 144.2h4.3l-2.2 -4.1zM70 147.4h4.3l-2.2 -4.1zM70.8 150.1h4.3l-2.2 -4.1zM71.6 154.1h4.3l-2.2 -4.1zM72.5 154.5h4.3l-2.2 -4.1z" fill="none" stroke="#1fc3ef" stroke-width=".95"/><path d="M83.4 151.3h4.3l-2.2 4.1zM85.4 151.1h4.3l-2.2 4.1zM89.1 151.3h4.3l-2.2 4.1zM83.8 151.3h4.3l-2.2 4.1zM90.3 150.9h4.3l-2.2 4.1zM94.4 151.5h4.3l-2.2 4.1zM78.9 151.3h4.3l-2.2 4.1zM81.4 151.1h4.3l-2.2 4.1zM77.3 151.3h4.3l-2.2 4.1z" fill="#62f74f"/><path d="M81.4 151.1h4.3l-2.2 4.1zM83.8 151.3h4.3l-2.2 4.1zM86.3 151.1h4.3l-2.2 4.1zM89.5 151.4h4.3l-2.2 4.1zM91.9 151.1h4.3l-2.2 4.1zM94.4 151.3h4.3l-2.2 4.1zM97.6 151.4h4.3l-2.2 4.1zM100.1 151.5h4.3l-2.2 4.1zM102.5 151h4.3l-2.2 4.1z" fill="none" stroke="#1f4fbf" stroke-width=".95"/><path d="M75.2 151.6h3.5v3.5h-3.5zM76.1 151.2h3.5v3.5h-3.5zM77.7 151.7h3.5v3.5h-3.5zM78.9 151.1h3.5v3.5h-3.5zM79.9 151.6h3.5v3.5h-3.5z" fill="#b4591a"/><path d="M75.2 151.7h3.5v3.5h-3.5zM76.5 151.4h3.5v3.5h-3.5zM78.5 151.4h3.5v3.5h-3.5zM79.1 151.6h3.5v3.5h-3.5zM81.1 151.8h3.5v3.5h-3.5z" fill="none" stroke="#d9731f" stroke-width=".95"/><path d="M72.5 151.6l3.5 3.5m0 -3.5l-3.5 3.5M74.5 151.6l3.5 3.5m0 -3.5l-3.5 3.5M77 151.3l3.5 3.5m0 -3.5l-3.5 3.5" fill="none" stroke="#8c8c8c" stroke-width=".95"/></g><g clip-path="url(#a0_4)"><path d="M71.5 179.8l2.2 2.2l-2.2 2.2l-2.2 -2.2z" fill="none" stroke="#8a35d2" stroke-width=".95"/><path d="M71.1 186.7a1.8 1.8 0 1 0 3.5 0a1.8 1.8 0 1 0 -3.5 0zM73.3 188.1a1.8 1.8 0 1 0 3.5 0a1.8 1.8 0 1 0 -3.5 0zM76.7 190a1.8 1.8 0 1 0 3.5 0a1.8 1.8 0 1 0 -3.5 0z" fill="#1c8a2c"/><path d="M69.7 174.8l2.2 2.2l-2.2 2.2l-2.2 -2.2zM69.7 183.8l2.2 2.2l-2.2 2.2l-2.2 -2.2zM70.1 184.6l2.2 2.2l-2.2 2.2l-2.2 -2.2zM70.1 185.4l2.2 2.2l-2.2 2.2l-2.2 -2.2zM70.5 186.6l2.2 2.2l-2.2 2.2l-2.2 -2.2z" fill="#b3a000"/><path d="M68.9 186.4a1.7 1.7 0 1 0 3.3 0a1.7 1.7 0 1 0 -3.3 0zM68.5 187.6a1.7 1.7 0 1 0 3.3 0a1.7 1.7 0 1 0 -3.3 0zM69.3 188.8a1.7 1.7 0 1 0 3.3 0a1.7 1.7 0 1 0 -3.3 0zM69.7 189.2a1.7 1.7 0 1 0 3.3 0a1.7 1.7 0 1 0 -3.3 0zM70.5 189.9a1.7 1.7 0 1 0 3.3 0a1.7 1.7 0 1 0 -3.3 0zM70.1 190.3a1.7 1.7 0 1 0 3.3 0a1.7 1.7 0 1 0 -3.3 0z" fill="none" stroke="#e5334b" stroke-width=".95"/><path d="M70.5 185.8l2.2 2.2l-2.2 2.2l-2.2 -2.2zM71 186.6l2.2 2.2l-2.2 2.2l-2.2 -2.2zM71.4 187.4l2.2 2.2l-2.2 2.2l-2.2 -2.2z" fill="#cc1638"/><path d="M70.3 189.5h4.3l-2.2 -4.1zM74.2 191.6h4.3l-2.2 -4.1z" fill="#ff78c8"/><path d="M70 191.6h4.3l-2.2 -4.1zM71.6 192h4.3l-2.2 -4.1zM73.3 192.3h4.3l-2.2 -4.1zM74.5 192.3h4.3l-2.2 -4.1zM70.8 191.2h4.3l-2.2 -4.1zM72.5 192.3h4.3l-2.2 -4.1z" fill="#ff78c8"/><path d="M66.8 162.4h4.3l-2.2 -4.1zM67 173.4h4.3l-2.2 -4.1zM67.2 174.2h4.3l-2.2 -4.1zM67.6 182.1h4.3l-2.2 -4.1zM68 182.9h4.3l-2.2 -4.1zM68.4 184.5h4.3l-2.2 -4.1zM68.8 185.6h4.3l-2.2 -4.1zM69.2 187.2h4.3l-2.2 -4.1zM70 189.2h4.3l-2.2 -4.1zM70.8 190.8h4.3l-2.2 -4.1zM71.6 191.6h4.3l-2.2 -4.1zM72.5 192.3h4.3l-2.2 -4.1z" fill="none" stroke="#1fc3ef" stroke-width=".95"/><path d="M83.4 189.2h4.3l-2.2 4.1zM85.4 189.1h4.3l-2.2 4.1zM89.1 189.8h4.3l-2.2 4.1zM83.8 189.2h4.3l-2.2 4.1zM90.3 189.7h4.3l-2.2 4.1zM94.4 189.7h4.3l-2.2 4.1zM78.9 189.6h4.3l-2.2 4.1zM81.4 189.9h4.3l-2.2 4.1zM77.3 189.8h4.3l-2.2 4.1z" fill="#62f74f"/><path d="M81.4 189.8h4.3l-2.2 4.1zM83.8 189.9h4.3l-2.2 4.1zM86.3 189.2h4.3l-2.2 4.1zM89.5 189.8h4.3l-2.2 4.1zM91.9 189.6h4.3l-2.2 4.1zM94.4 189.7h4.3l-2.2 4.1zM97.6 189.5h4.3l-2.2 4.1zM100.1 189.6h4.3l-2.2 4.1zM102.5 189.5h4.3l-2.2 4.1z" fill="none" stroke="#1f4fbf" stroke-width=".95"/><path d="M75.2 187.9h3.5v3.5h-3.5zM76.1 188.1h3.5v3.5h-3.5zM77.7 188.9h3.5v3.5h-3.5zM78.9 188.7h3.5v3.5h-3.5zM79.9 189.1h3.5v3.5h-3.5z" fill="#b4591a"/><path d="M75.2 187.8h3.5v3.5h-3.5zM76.5 188.2h3.5v3.5h-3.5zM78.5 189.2h3.5v3.5h-3.5zM79.1 189.1h3.5v3.5h-3.5zM81.1 189.4h3.5v3.5h-3.5z" fill="none" stroke="#d9731f" stroke-width=".95"/><path d="M72.5 185.8l3.5 3.5m0 -3.5l-3.5 3.5M74.5 187.4l3.5 3.5m0 -3.5l-3.5 3.5M77 188.4l3.5 3.5m0 -3.5l-3.5 3.5" fill="none" stroke="#8c8c8c" stroke-width=".95"/></g><g clip-path="url(#a0_5)"><path d="M71.5 218.9l2.2 2.2l-2.2 2.2l-2.2 -2.2z" fill="none" stroke="#8a35d2" stroke-width=".95"/><path d="M71.1 225.4a1.8 1.8 0 1 0 3.5 0a1.8 1.8 0 1 0 -3.5 0zM73.3 227.7a1.8 1.8 0 1 0 3.5 0a1.8 1.8 0 1 0 -3.5 0zM76.7 229.1a1.8 1.8 0 1 0 3.5 0a1.8 1.8 0 1 0 -3.5 0z" fill="#1c8a2c"/><path d="M69.7 216.2l2.2 2.2l-2.2 2.2l-2.2 -2.2zM69.7 222.1l2.2 2.2l-2.2 2.2l-2.2 -2.2zM70.1 222.9l2.2 2.2l-2.2 2.2l-2.2 -2.2zM70.1 223.7l2.2 2.2l-2.2 2.2l-2.2 -2.2zM70.5 224.5l2.2 2.2l-2.2 2.2l-2.2 -2.2z" fill="#b3a000"/><path d="M68.9 225.5a1.7 1.7 0 1 0 3.3 0a1.7 1.7 0 1 0 -3.3 0zM68.5 226.6a1.7 1.7 0 1 0 3.3 0a1.7 1.7 0 1 0 -3.3 0zM69.3 227.4a1.7 1.7 0 1 0 3.3 0a1.7 1.7 0 1 0 -3.3 0zM69.7 228.2a1.7 1.7 0 1 0 3.3 0a1.7 1.7 0 1 0 -3.3 0zM70.5 228.6a1.7 1.7 0 1 0 3.3 0a1.7 1.7 0 1 0 -3.3 0zM70.1 229a1.7 1.7 0 1 0 3.3 0a1.7 1.7 0 1 0 -3.3 0z" fill="none" stroke="#e5334b" stroke-width=".95"/><path d="M70.5 224.5l2.2 2.2l-2.2 2.2l-2.2 -2.2zM71 225.3l2.2 2.2l-2.2 2.2l-2.2 -2.2zM71.4 226.1l2.2 2.2l-2.2 2.2l-2.2 -2.2z" fill="#cc1638"/><path d="M70.3 228.6h4.3l-2.2 -4.1zM74.2 230.9h4.3l-2.2 -4.1z" fill="#ff78c8"/><path d="M70 231h4.3l-2.2 -4.1zM71.6 231.4h4.3l-2.2 -4.1zM73.3 231.8h4.3l-2.2 -4.1zM74.5 231.8h4.3l-2.2 -4.1zM70.8 230.6h4.3l-2.2 -4.1zM72.5 231.8h4.3l-2.2 -4.1z" fill="#ff78c8"/><path d="M66.8 202.2h4.3l-2.2 -4.1zM67 211.3h4.3l-2.2 -4.1zM67.2 212.1h4.3l-2.2 -4.1zM67.6 219.2h4.3l-2.2 -4.1zM68 220.4h4.3l-2.2 -4.1zM68.4 222.3h4.3l-2.2 -4.1zM68.8 224.3h4.3l-2.2 -4.1zM69.2 225.9h4.3l-2.2 -4.1zM70 227.5h4.3l-2.2 -4.1zM70.8 229h4.3l-2.2 -4.1zM71.6 230.2h4.3l-2.2 -4.1zM72.5 231h4.3l-2.2 -4.1z" fill="none" stroke="#1fc3ef" stroke-width=".95"/><path d="M83.4 228.2h4.3l-2.2 4.1zM85.4 228.3h4.3l-2.2 4.1zM89.1 228.9h4.3l-2.2 4.1zM83.8 228.9h4.3l-2.2 4.1zM90.3 228.6h4.3l-2.2 4.1zM94.4 228.8h4.3l-2.2 4.1zM78.9 228.5h4.3l-2.2 4.1zM81.4 228.3h4.3l-2.2 4.1zM77.3 228.5h4.3l-2.2 4.1z" fill="#62f74f"/><path d="M81.4 228.5h4.3l-2.2 4.1zM83.8 228.9h4.3l-2.2 4.1zM86.3 228.5h4.3l-2.2 4.1zM89.5 228.9h4.3l-2.2 4.1zM91.9 228.5h4.3l-2.2 4.1zM94.4 228.5h4.3l-2.2 4.1zM97.6 228.6h4.3l-2.2 4.1zM100.1 228.4h4.3l-2.2 4.1zM102.5 228.3h4.3l-2.2 4.1z" fill="none" stroke="#1f4fbf" stroke-width=".95"/><path d="M75.2 226.7h3.5v3.5h-3.5zM76.1 227.4h3.5v3.5h-3.5zM77.7 227.3h3.5v3.5h-3.5zM78.9 227.9h3.5v3.5h-3.5zM79.9 228.4h3.5v3.5h-3.5z" fill="#b4591a"/><path d="M75.2 227.1h3.5v3.5h-3.5zM76.5 227.6h3.5v3.5h-3.5zM78.5 227.8h3.5v3.5h-3.5zM79.1 227.7h3.5v3.5h-3.5zM81.1 228.5h3.5v3.5h-3.5z" fill="none" stroke="#d9731f" stroke-width=".95"/><path d="M72.5 224.9l3.5 3.5m0 -3.5l-3.5 3.5M74.5 226.4l3.5 3.5m0 -3.5l-3.5 3.5M77 227.8l3.5 3.5m0 -3.5l-3.5 3.5" fill="none" stroke="#8c8c8c" stroke-width=".95"/></g><g clip-path="url(#a0_6)"><path d="M71.5 259.1l2.2 2.2l-2.2 2.2l-2.2 -2.2z" fill="none" stroke="#8a35d2" stroke-width=".95"/><path d="M71.1 265a1.8 1.8 0 1 0 3.5 0a1.8 1.8 0 1 0 -3.5 0zM73.3 266.6a1.8 1.8 0 1 0 3.5 0a1.8 1.8 0 1 0 -3.5 0zM76.7 268.1a1.8 1.8 0 1 0 3.5 0a1.8 1.8 0 1 0 -3.5 0z" fill="#1c8a2c"/><path d="M69.7 256.1l2.2 2.2l-2.2 2.2l-2.2 -2.2zM69.7 257.2l2.2 2.2l-2.2 2.2l-2.2 -2.2zM70.1 258.4l2.2 2.2l-2.2 2.2l-2.2 -2.2zM70.1 259.6l2.2 2.2l-2.2 2.2l-2.2 -2.2zM70.5 261.6l2.2 2.2l-2.2 2.2l-2.2 -2.2z" fill="#b3a000"/><path d="M68.9 263.3a1.7 1.7 0 1 0 3.3 0a1.7 1.7 0 1 0 -3.3 0zM68.5 264.5a1.7 1.7 0 1 0 3.3 0a1.7 1.7 0 1 0 -3.3 0zM69.3 265.3a1.7 1.7 0 1 0 3.3 0a1.7 1.7 0 1 0 -3.3 0zM69.7 266.1a1.7 1.7 0 1 0 3.3 0a1.7 1.7 0 1 0 -3.3 0zM70.5 266.9a1.7 1.7 0 1 0 3.3 0a1.7 1.7 0 1 0 -3.3 0zM70.1 267.7a1.7 1.7 0 1 0 3.3 0a1.7 1.7 0 1 0 -3.3 0z" fill="none" stroke="#e5334b" stroke-width=".95"/><path d="M70.5 262.4l2.2 2.2l-2.2 2.2l-2.2 -2.2zM71 263.5l2.2 2.2l-2.2 2.2l-2.2 -2.2zM71.4 263.9l2.2 2.2l-2.2 2.2l-2.2 -2.2z" fill="#cc1638"/><path d="M70.3 268.4h4.3l-2.2 -4.1zM74.2 269.9h4.3l-2.2 -4.1z" fill="#ff78c8"/><path d="M70 268.9h4.3l-2.2 -4.1zM71.6 269.7h4.3l-2.2 -4.1zM73.3 270.1h4.3l-2.2 -4.1zM74.5 270.5h4.3l-2.2 -4.1zM70.8 268.1h4.3l-2.2 -4.1zM72.5 270.5h4.3l-2.2 -4.1z" fill="#ff78c8"/><path d="M66.8 243.2h4.3l-2.2 -4.1zM67 251.1h4.3l-2.2 -4.1zM67.2 252.7h4.3l-2.2 -4.1zM67.6 254.7h4.3l-2.2 -4.1zM68 264.2h4.3l-2.2 -4.1zM68.4 265.7h4.3l-2.2 -4.1zM68.8 267.3h4.3l-2.2 -4.1zM69.2 268.1h4.3l-2.2 -4.1zM70 269.3h4.3l-2.2 -4.1zM70.8 270.1h4.3l-2.2 -4.1zM71.6 270.9h4.3l-2.2 -4.1zM72.5 271.3h4.3l-2.2 -4.1z" fill="none" stroke="#1fc3ef" stroke-width=".95"/><path d="M83.4 267.7h4.3l-2.2 4.1zM85.4 267.8h4.3l-2.2 4.1zM89.1 268h4.3l-2.2 4.1zM83.8 267.7h4.3l-2.2 4.1zM90.3 267.8h4.3l-2.2 4.1zM94.4 267.7h4.3l-2.2 4.1zM78.9 267.3h4.3l-2.2 4.1zM81.4 267.4h4.3l-2.2 4.1zM77.3 268h4.3l-2.2 4.1z" fill="#62f74f"/><path d="M81.4 267.7h4.3l-2.2 4.1zM83.8 267.7h4.3l-2.2 4.1zM86.3 267.7h4.3l-2.2 4.1zM89.5 267.8h4.3l-2.2 4.1zM91.9 268h4.3l-2.2 4.1zM94.4 267.7h4.3l-2.2 4.1zM97.6 267.3h4.3l-2.2 4.1zM100.1 267.9h4.3l-2.2 4.1zM102.5 267.8h4.3l-2.2 4.1z" fill="none" stroke="#1f4fbf" stroke-width=".95"/><path d="M75.2 265.6h3.5v3.5h-3.5zM76.1 266.1h3.5v3.5h-3.5zM77.7 266.5h3.5v3.5h-3.5zM78.9 266.7h3.5v3.5h-3.5zM79.9 266.9h3.5v3.5h-3.5z" fill="#b4591a"/><path d="M75.2 265.7h3.5v3.5h-3.5zM76.5 266.8h3.5v3.5h-3.5zM78.5 266.6h3.5v3.5h-3.5zM79.1 266.7h3.5v3.5h-3.5zM81.1 267.2h3.5v3.5h-3.5z" fill="none" stroke="#d9731f" stroke-width=".95"/><path d="M72.5 264.6l3.5 3.5m0 -3.5l-3.5 3.5M74.5 265.8l3.5 3.5m0 -3.5l-3.5 3.5M77 266.2l3.5 3.5m0 -3.5l-3.5 3.5" fill="none" stroke="#8c8c8c" stroke-width=".95"/></g><g clip-path="url(#a0_7)"><path d="M71.5 298.6l2.2 2.2l-2.2 2.2l-2.2 -2.2z" fill="none" stroke="#8a35d2" stroke-width=".95"/><path d="M71.1 304.6a1.8 1.8 0 1 0 3.5 0a1.8 1.8 0 1 0 -3.5 0zM73.3 306.3a1.8 1.8 0 1 0 3.5 0a1.8 1.8 0 1 0 -3.5 0zM76.7 307.8a1.8 1.8 0 1 0 3.5 0a1.8 1.8 0 1 0 -3.5 0z" fill="#1c8a2c"/><path d="M69.7 297.1l2.2 2.2l-2.2 2.2l-2.2 -2.2zM69.7 297.9l2.2 2.2l-2.2 2.2l-2.2 -2.2zM70.1 298.7l2.2 2.2l-2.2 2.2l-2.2 -2.2zM70.1 299.5l2.2 2.2l-2.2 2.2l-2.2 -2.2zM70.5 301.4l2.2 2.2l-2.2 2.2l-2.2 -2.2z" fill="#b3a000"/><path d="M68.9 304a1.7 1.7 0 1 0 3.3 0a1.7 1.7 0 1 0 -3.3 0zM68.5 304.8a1.7 1.7 0 1 0 3.3 0a1.7 1.7 0 1 0 -3.3 0zM69.3 305.2a1.7 1.7 0 1 0 3.3 0a1.7 1.7 0 1 0 -3.3 0zM69.7 306a1.7 1.7 0 1 0 3.3 0a1.7 1.7 0 1 0 -3.3 0zM70.5 306.3a1.7 1.7 0 1 0 3.3 0a1.7 1.7 0 1 0 -3.3 0zM70.1 306.7a1.7 1.7 0 1 0 3.3 0a1.7 1.7 0 1 0 -3.3 0z" fill="none" stroke="#e5334b" stroke-width=".95"/><path d="M70.5 302.6l2.2 2.2l-2.2 2.2l-2.2 -2.2zM71 303.4l2.2 2.2l-2.2 2.2l-2.2 -2.2zM71.4 303.8l2.2 2.2l-2.2 2.2l-2.2 -2.2z" fill="#cc1638"/><path d="M70.3 307.9h4.3l-2.2 -4.1zM74.2 310h4.3l-2.2 -4.1z" fill="#ff78c8"/><path d="M70 309.1h4.3l-2.2 -4.1zM71.6 309.5h4.3l-2.2 -4.1zM73.3 309.9h4.3l-2.2 -4.1zM74.5 310.3h4.3l-2.2 -4.1zM70.8 308.4h4.3l-2.2 -4.1zM72.5 310.3h4.3l-2.2 -4.1z" fill="#ff78c8"/><path d="M66.8 282.3h4.3l-2.2 -4.1zM67 292.2h4.3l-2.2 -4.1zM67.2 294.2h4.3l-2.2 -4.1zM67.6 296.1h4.3l-2.2 -4.1zM68 300.5h4.3l-2.2 -4.1zM68.4 301.7h4.3l-2.2 -4.1zM68.8 303.2h4.3l-2.2 -4.1zM69.2 304.4h4.3l-2.2 -4.1zM70 306h4.3l-2.2 -4.1zM70.8 307.6h4.3l-2.2 -4.1zM71.6 308.8h4.3l-2.2 -4.1zM72.5 309.5h4.3l-2.2 -4.1z" fill="none" stroke="#1fc3ef" stroke-width=".95"/><path d="M83.4 307h4.3l-2.2 4.1zM85.4 307.2h4.3l-2.2 4.1zM89.1 306.9h4.3l-2.2 4.1zM83.8 307.1h4.3l-2.2 4.1zM90.3 306.8h4.3l-2.2 4.1zM94.4 307h4.3l-2.2 4.1zM78.9 307h4.3l-2.2 4.1zM81.4 306.8h4.3l-2.2 4.1zM77.3 307.4h4.3l-2.2 4.1z" fill="#62f74f"/><path d="M81.4 307.5h4.3l-2.2 4.1zM83.8 306.8h4.3l-2.2 4.1zM86.3 306.7h4.3l-2.2 4.1zM89.5 306.9h4.3l-2.2 4.1zM91.9 307.5h4.3l-2.2 4.1zM94.4 307.3h4.3l-2.2 4.1zM97.6 306.9h4.3l-2.2 4.1zM100.1 307.1h4.3l-2.2 4.1zM102.5 306.9h4.3l-2.2 4.1z" fill="none" stroke="#1f4fbf" stroke-width=".95"/><path d="M75.2 305.2h3.5v3.5h-3.5zM76.1 305.9h3.5v3.5h-3.5zM77.7 306.5h3.5v3.5h-3.5zM78.9 306.6h3.5v3.5h-3.5zM79.9 306.8h3.5v3.5h-3.5z" fill="#b4591a"/><path d="M75.2 305.3h3.5v3.5h-3.5zM76.5 306h3.5v3.5h-3.5zM78.5 306.1h3.5v3.5h-3.5zM79.1 306.3h3.5v3.5h-3.5zM81.1 306.5h3.5v3.5h-3.5z" fill="none" stroke="#d9731f" stroke-width=".95"/><path d="M72.5 303.5l3.5 3.5m0 -3.5l-3.5 3.5M74.5 305.3l3.5 3.5m0 -3.5l-3.5 3.5M77 305.8l3.5 3.5m0 -3.5l-3.5 3.5" fill="none" stroke="#8c8c8c" stroke-width=".95"/></g><g clip-path="url(#a0_8)"><path d="M71.5 348.1l2.2 2.2l-2.2 2.2l-2.2 -2.2z" fill="none" stroke="#8a35d2" stroke-width=".95"/><path d="M66.8 354.1h4.3l-2.2 -4.1zM67 352.6h4.3l-2.2 -4.1zM67.2 350.6h4.3l-2.2 -4.1zM67.6 347.8h4.3l-2.2 -4.1zM68 345.5h4.3l-2.2 -4.1zM68.4 332.8h4.3l-2.2 -4.1zM68.8 343.1h4.3l-2.2 -4.1zM69.2 355.3h4.3l-2.2 -4.1zM70 331.2h4.3l-2.2 -4.1zM70.8 333.6h4.3l-2.2 -4.1zM71.6 331.6h4.3l-2.2 -4.1zM72.5 335.6h4.3l-2.2 -4.1z" fill="none" stroke="#1fc3ef" stroke-width=".95"/><path d="M69.7 340.1l2.2 2.2l-2.2 2.2l-2.2 -2.2zM69.7 342.1l2.2 2.2l-2.2 2.2l-2.2 -2.2zM70.1 341.3l2.2 2.2l-2.2 2.2l-2.2 -2.2zM70.1 350l2.2 2.2l-2.2 2.2l-2.2 -2.2zM70.5 343.3l2.2 2.2l-2.2 2.2l-2.2 -2.2z" fill="#b3a000"/><path d="M68.9 342.3a1.7 1.7 0 1 0 3.3 0a1.7 1.7 0 1 0 -3.3 0zM68.5 344.6a1.7 1.7 0 1 0 3.3 0a1.7 1.7 0 1 0 -3.3 0zM69.3 346.6a1.7 1.7 0 1 0 3.3 0a1.7 1.7 0 1 0 -3.3 0zM69.7 348.6a1.7 1.7 0 1 0 3.3 0a1.7 1.7 0 1 0 -3.3 0zM70.5 350.5a1.7 1.7 0 1 0 3.3 0a1.7 1.7 0 1 0 -3.3 0zM70.1 351.7a1.7 1.7 0 1 0 3.3 0a1.7 1.7 0 1 0 -3.3 0z" fill="none" stroke="#e5334b" stroke-width=".95"/><path d="M70.5 345.2l2.2 2.2l-2.2 2.2l-2.2 -2.2zM71 346.8l2.2 2.2l-2.2 2.2l-2.2 -2.2zM71.4 343.7l2.2 2.2l-2.2 2.2l-2.2 -2.2z" fill="#cc1638"/><path d="M70.3 338h4.3l-2.2 -4.1zM74.2 338.4h4.3l-2.2 -4.1z" fill="#ff78c8"/><path d="M70 337.6h4.3l-2.2 -4.1zM71.6 339.9h4.3l-2.2 -4.1zM73.3 341.5h4.3l-2.2 -4.1zM74.5 342.3h4.3l-2.2 -4.1zM70.8 339.1h4.3l-2.2 -4.1zM72.5 338.3h4.3l-2.2 -4.1z" fill="#ff78c8"/><path d="M83.4 335.5h4.3l-2.2 4.1zM85.4 336.7h4.3l-2.2 4.1zM89.1 337.5h4.3l-2.2 4.1zM83.8 335.9h4.3l-2.2 4.1zM90.3 337.9h4.3l-2.2 4.1zM94.4 338.3h4.3l-2.2 4.1zM78.9 329.6h4.3l-2.2 4.1zM81.4 335.5h4.3l-2.2 4.1zM77.3 328.8h4.3l-2.2 4.1z" fill="#62f74f"/><path d="M81.4 333.5h4.3l-2.2 4.1zM83.8 316.2h4.3l-2.2 4.1zM86.3 331.2h4.3l-2.2 4.1zM89.5 322.1h4.3l-2.2 4.1zM91.9 329.6h4.3l-2.2 4.1zM94.4 332.8h4.3l-2.2 4.1zM97.6 330.4h4.3l-2.2 4.1zM100.1 332.4h4.3l-2.2 4.1zM102.5 331.6h4.3l-2.2 4.1z" fill="none" stroke="#1f4fbf" stroke-width=".95"/><path d="M75.2 330.7h3.5v3.5h-3.5zM76.1 329.2h3.5v3.5h-3.5zM77.7 329.1h3.5v3.5h-3.5zM78.9 328.9h3.5v3.5h-3.5zM79.9 330.8h3.5v3.5h-3.5z" fill="#b4591a"/><path d="M75.2 332.8h3.5v3.5h-3.5zM76.5 332.1h3.5v3.5h-3.5zM78.5 329.4h3.5v3.5h-3.5zM79.1 328.7h3.5v3.5h-3.5zM81.1 331h3.5v3.5h-3.5z" fill="none" stroke="#d9731f" stroke-width=".95"/><path d="M71.1 329.2a1.8 1.8 0 1 0 3.5 0a1.8 1.8 0 1 0 -3.5 0zM73.3 331.3a1.8 1.8 0 1 0 3.5 0a1.8 1.8 0 1 0 -3.5 0zM76.7 330.3a1.8 1.8 0 1 0 3.5 0a1.8 1.8 0 1 0 -3.5 0z" fill="#1c8a2c"/><path d="M72.5 331.5l3.5 3.5m0 -3.5l-3.5 3.5M74.5 334.1l3.5 3.5m0 -3.5l-3.5 3.5M77 331.5l3.5 3.5m0 -3.5l-3.5 3.5" fill="none" stroke="#8c8c8c" stroke-width=".95"/></g><g clip-path="url(#a1_0)"><path d="M112 29.1l2.2 2.2l-2.2 2.2l-2.2 -2.2z" fill="none" stroke="#8a35d2" stroke-width=".95"/><path d="M111.6 32a1.8 1.8 0 1 0 3.5 0a1.8 1.8 0 1 0 -3.5 0zM113.9 32.6a1.8 1.8 0 1 0 3.5 0a1.8 1.8 0 1 0 -3.5 0zM117.3 32.8a1.8 1.8 0 1 0 3.5 0a1.8 1.8 0 1 0 -3.5 0z" fill="#1c8a2c"/><path d="M110.3 -.4l2.2 2.2l-2.2 2.2l-2.2 -2.2zM110.3 .7l2.2 2.2l-2.2 2.2l-2.2 -2.2zM110.7 1.9l2.2 2.2l-2.2 2.2l-2.2 -2.2zM110.7 3.1l2.2 2.2l-2.2 2.2l-2.2 -2.2zM111.1 19.7l2.2 2.2l-2.2 2.2l-2.2 -2.2z" fill="#b3a000"/><path d="M109.4 14.3a1.7 1.7 0 1 0 3.3 0a1.7 1.7 0 1 0 -3.3 0zM109 27.4a1.7 1.7 0 1 0 3.3 0a1.7 1.7 0 1 0 -3.3 0zM109.8 29.3a1.7 1.7 0 1 0 3.3 0a1.7 1.7 0 1 0 -3.3 0zM110.2 30.9a1.7 1.7 0 1 0 3.3 0a1.7 1.7 0 1 0 -3.3 0zM111 32.5a1.7 1.7 0 1 0 3.3 0a1.7 1.7 0 1 0 -3.3 0zM110.6 33.7a1.7 1.7 0 1 0 3.3 0a1.7 1.7 0 1 0 -3.3 0z" fill="none" stroke="#e5334b" stroke-width=".95"/><path d="M111.1 29.6l2.2 2.2l-2.2 2.2l-2.2 -2.2zM111.4 30.7l2.2 2.2l-2.2 2.2l-2.2 -2.2zM111.9 31.9l2.2 2.2l-2.2 2.2l-2.2 -2.2z" fill="#cc1638"/><path d="M111.1 34.4h4.3l-2.2 -4.1zM114.9 35.3h4.3l-2.2 -4.1z" fill="#ff78c8"/><path d="M110.8 31.3h4.3l-2.2 -4.1zM112.4 31.7h4.3l-2.2 -4.1zM114.1 32.1h4.3l-2.2 -4.1zM115.2 30.6h4.3l-2.2 -4.1zM111.5 28.6h4.3l-2.2 -4.1zM113.2 32.9h4.3l-2.2 -4.1z" fill="#ff78c8"/><path d="M107.3 18.3h4.3l-2.2 -4.1zM107.6 21.9h4.3l-2.2 -4.1zM107.7 23.5h4.3l-2.2 -4.1zM108.2 25h4.3l-2.2 -4.1zM108.5 26.6h4.3l-2.2 -4.1zM108.9 27.8h4.3l-2.2 -4.1zM109.3 29.4h4.3l-2.2 -4.1zM109.8 30.6h4.3l-2.2 -4.1zM110.5 31.3h4.3l-2.2 -4.1zM111.3 32.5h4.3l-2.2 -4.1zM112.2 33.3h4.3l-2.2 -4.1zM113 34.1h4.3l-2.2 -4.1z" fill="none" stroke="#1fc3ef" stroke-width=".95"/><path d="M124.6 31.2h4.3l-2.2 4.1zM126.7 31.6h4.3l-2.2 4.1zM130.5 31.1h4.3l-2.2 4.1zM125 31.6h4.3l-2.2 4.1zM131.7 31h4.3l-2.2 4.1zM136.1 30.9h4.3l-2.2 4.1zM120 31.5h4.3l-2.2 4.1zM122.3 31.3h4.3l-2.2 4.1zM117.8 31h4.3l-2.2 4.1z" fill="#62f74f"/><path d="M122.2 31.4h4.3l-2.2 4.1zM124.6 31.3h4.3l-2.2 4.1zM127.1 31.6h4.3l-2.2 4.1zM130.4 31.6h4.3l-2.2 4.1zM132.9 31.5h4.3l-2.2 4.1zM135.2 31.5h4.3l-2.2 4.1zM138.6 31h4.3l-2.2 4.1zM141.2 31.4h4.3l-2.2 4.1zM143.5 31.6h4.3l-2.2 4.1z" fill="none" stroke="#1f4fbf" stroke-width=".95"/><path d="M115.7 31.2h3.5v3.5h-3.5zM116.6 31.1h3.5v3.5h-3.5zM118.3 30.9h3.5v3.5h-3.5zM119.4 31.3h3.5v3.5h-3.5zM120.6 31.6h3.5v3.5h-3.5z" fill="#b4591a"/><path d="M115.8 31.5h3.5v3.5h-3.5zM117.1 31.5h3.5v3.5h-3.5zM119.2 31h3.5v3.5h-3.5zM119.7 31.1h3.5v3.5h-3.5zM121.5 31.4h3.5v3.5h-3.5z" fill="none" stroke="#d9731f" stroke-width=".95"/><path d="M113 30.7l3.5 3.5m0 -3.5l-3.5 3.5M114.9 31.1l3.5 3.5m0 -3.5l-3.5 3.5M117.5 31.3l3.5 3.5m0 -3.5l-3.5 3.5" fill="none" stroke="#8c8c8c" stroke-width=".95"/></g><g clip-path="url(#a1_1)"><path d="M112 71.8l2.2 2.2l-2.2 2.2l-2.2 -2.2z" fill="none" stroke="#8a35d2" stroke-width=".95"/><path d="M111.6 74.6a1.8 1.8 0 1 0 3.5 0a1.8 1.8 0 1 0 -3.5 0zM113.9 73.7a1.8 1.8 0 1 0 3.5 0a1.8 1.8 0 1 0 -3.5 0zM117.3 72a1.8 1.8 0 1 0 3.5 0a1.8 1.8 0 1 0 -3.5 0z" fill="#1c8a2c"/><path d="M110.3 73l2.2 2.2l-2.2 2.2l-2.2 -2.2zM110.3 73l2.2 2.2l-2.2 2.2l-2.2 -2.2zM110.7 73l2.2 2.2l-2.2 2.2l-2.2 -2.2zM110.7 73l2.2 2.2l-2.2 2.2l-2.2 -2.2zM111.1 72.6l2.2 2.2l-2.2 2.2l-2.2 -2.2z" fill="#b3a000"/><path d="M109.4 74.3a1.7 1.7 0 1 0 3.3 0a1.7 1.7 0 1 0 -3.3 0zM109 74.3a1.7 1.7 0 1 0 3.3 0a1.7 1.7 0 1 0 -3.3 0zM109.8 74.3a1.7 1.7 0 1 0 3.3 0a1.7 1.7 0 1 0 -3.3 0zM110.2 74.3a1.7 1.7 0 1 0 3.3 0a1.7 1.7 0 1 0 -3.3 0zM111 74.3a1.7 1.7 0 1 0 3.3 0a1.7 1.7 0 1 0 -3.3 0zM110.6 74.3a1.7 1.7 0 1 0 3.3 0a1.7 1.7 0 1 0 -3.3 0z" fill="none" stroke="#e5334b" stroke-width=".95"/><path d="M111.1 72.2l2.2 2.2l-2.2 2.2l-2.2 -2.2zM111.4 72.2l2.2 2.2l-2.2 2.2l-2.2 -2.2zM111.9 72.2l2.2 2.2l-2.2 2.2l-2.2 -2.2z" fill="#cc1638"/><path d="M111.1 77h4.3l-2.2 -4.1zM114.9 75.7h4.3l-2.2 -4.1z" fill="#ff78c8"/><path d="M110.8 76.3h4.3l-2.2 -4.1zM112.4 76.3h4.3l-2.2 -4.1zM114.1 76.3h4.3l-2.2 -4.1zM115.2 76.3h4.3l-2.2 -4.1zM111.5 76.3h4.3l-2.2 -4.1zM113.2 76.7h4.3l-2.2 -4.1z" fill="#ff78c8"/><path d="M107.3 77.5h4.3l-2.2 -4.1zM107.6 77.5h4.3l-2.2 -4.1zM107.7 77.5h4.3l-2.2 -4.1zM108.2 77.1h4.3l-2.2 -4.1zM108.5 77.5h4.3l-2.2 -4.1zM108.9 77.1h4.3l-2.2 -4.1zM109.3 77.1h4.3l-2.2 -4.1zM109.8 77.1h4.3l-2.2 -4.1zM110.5 76.7h4.3l-2.2 -4.1zM111.3 76.7h4.3l-2.2 -4.1zM112.2 76.3h4.3l-2.2 -4.1zM113 76.3h4.3l-2.2 -4.1z" fill="none" stroke="#1fc3ef" stroke-width=".95"/><path d="M124.6 41.9h4.3l-2.2 4.1zM126.7 41.9h4.3l-2.2 4.1zM130.5 52.2h4.3l-2.2 4.1zM125 56.5h4.3l-2.2 4.1zM131.7 56.5h4.3l-2.2 4.1zM136.1 62.5h4.3l-2.2 4.1zM120 67.2h4.3l-2.2 4.1zM122.3 66.4h4.3l-2.2 4.1zM117.8 67.6h4.3l-2.2 4.1z" fill="#62f74f"/><path d="M122.2 66.4h4.3l-2.2 4.1zM124.6 68.5h4.3l-2.2 4.1zM127.1 67.1h4.3l-2.2 4.1zM130.4 65.1h4.3l-2.2 4.1zM132.9 67.3h4.3l-2.2 4.1zM135.2 65.4h4.3l-2.2 4.1zM138.6 67.4h4.3l-2.2 4.1zM141.2 64.4h4.3l-2.2 4.1zM143.5 65.7h4.3l-2.2 4.1z" fill="none" stroke="#1f4fbf" stroke-width=".95"/><path d="M115.7 72.9h3.5v3.5h-3.5zM116.6 71.2h3.5v3.5h-3.5zM118.3 70.5h3.5v3.5h-3.5zM119.4 70.4h3.5v3.5h-3.5zM120.6 69.4h3.5v3.5h-3.5z" fill="#b4591a"/><path d="M115.8 72.6h3.5v3.5h-3.5zM117.1 70.6h3.5v3.5h-3.5zM119.2 70h3.5v3.5h-3.5zM119.7 68.9h3.5v3.5h-3.5zM121.5 68.1h3.5v3.5h-3.5z" fill="none" stroke="#d9731f" stroke-width=".95"/><path d="M113 71.8l3.5 3.5m0 -3.5l-3.5 3.5M114.9 70.8l3.5 3.5m0 -3.5l-3.5 3.5M117.5 71.2l3.5 3.5m0 -3.5l-3.5 3.5" fill="none" stroke="#8c8c8c" stroke-width=".95"/></g><g clip-path="url(#a1_2)"><path d="M112 111.2l2.2 2.2l-2.2 2.2l-2.2 -2.2z" fill="none" stroke="#8a35d2" stroke-width=".95"/><path d="M111.6 113.4a1.8 1.8 0 1 0 3.5 0a1.8 1.8 0 1 0 -3.5 0zM113.9 113.6a1.8 1.8 0 1 0 3.5 0a1.8 1.8 0 1 0 -3.5 0zM117.3 113.7a1.8 1.8 0 1 0 3.5 0a1.8 1.8 0 1 0 -3.5 0z" fill="#1c8a2c"/><path d="M110.3 89.9l2.2 2.2l-2.2 2.2l-2.2 -2.2zM110.3 95.8l2.2 2.2l-2.2 2.2l-2.2 -2.2zM110.7 110.4l2.2 2.2l-2.2 2.2l-2.2 -2.2zM110.7 110.8l2.2 2.2l-2.2 2.2l-2.2 -2.2zM111.1 110.8l2.2 2.2l-2.2 2.2l-2.2 -2.2z" fill="#b3a000"/><path d="M109.4 113.4a1.7 1.7 0 1 0 3.3 0a1.7 1.7 0 1 0 -3.3 0zM109 113.4a1.7 1.7 0 1 0 3.3 0a1.7 1.7 0 1 0 -3.3 0zM109.8 113.4a1.7 1.7 0 1 0 3.3 0a1.7 1.7 0 1 0 -3.3 0zM110.2 113.4a1.7 1.7 0 1 0 3.3 0a1.7 1.7 0 1 0 -3.3 0zM111 113.8a1.7 1.7 0 1 0 3.3 0a1.7 1.7 0 1 0 -3.3 0zM110.6 113.8a1.7 1.7 0 1 0 3.3 0a1.7 1.7 0 1 0 -3.3 0z" fill="none" stroke="#e5334b" stroke-width=".95"/><path d="M111.1 111.2l2.2 2.2l-2.2 2.2l-2.2 -2.2zM111.4 111.2l2.2 2.2l-2.2 2.2l-2.2 -2.2zM111.9 111.6l2.2 2.2l-2.2 2.2l-2.2 -2.2z" fill="#cc1638"/><path d="M111.1 115.9h4.3l-2.2 -4.1zM114.9 115.8h4.3l-2.2 -4.1z" fill="#ff78c8"/><path d="M110.8 115.4h4.3l-2.2 -4.1zM112.4 115.4h4.3l-2.2 -4.1zM114.1 115.8h4.3l-2.2 -4.1zM115.2 115.8h4.3l-2.2 -4.1zM111.5 115.4h4.3l-2.2 -4.1zM113.2 115.8h4.3l-2.2 -4.1z" fill="#ff78c8"/><path d="M107.3 84.2h4.3l-2.2 -4.1zM107.6 95.3h4.3l-2.2 -4.1zM107.7 99.2h4.3l-2.2 -4.1zM108.2 106.3h4.3l-2.2 -4.1zM108.5 108.7h4.3l-2.2 -4.1zM108.9 110.3h4.3l-2.2 -4.1zM109.3 112.2h4.3l-2.2 -4.1zM109.8 114.2h4.3l-2.2 -4.1zM110.5 115h4.3l-2.2 -4.1zM111.3 115.4h4.3l-2.2 -4.1zM112.2 115.8h4.3l-2.2 -4.1zM113 115.8h4.3l-2.2 -4.1z" fill="none" stroke="#1fc3ef" stroke-width=".95"/><path d="M124.6 111.7h4.3l-2.2 4.1zM126.7 111.6h4.3l-2.2 4.1zM130.5 112.2h4.3l-2.2 4.1zM125 112h4.3l-2.2 4.1zM131.7 111.5h4.3l-2.2 4.1zM136.1 112.1h4.3l-2.2 4.1zM120 112.2h4.3l-2.2 4.1zM122.3 111.7h4.3l-2.2 4.1zM117.8 111.9h4.3l-2.2 4.1z" fill="#62f74f"/><path d="M122.2 112.1h4.3l-2.2 4.1zM124.6 112.1h4.3l-2.2 4.1zM127.1 112h4.3l-2.2 4.1zM130.4 111.5h4.3l-2.2 4.1zM132.9 111.7h4.3l-2.2 4.1zM135.2 111.6h4.3l-2.2 4.1zM138.6 111.6h4.3l-2.2 4.1zM141.2 111.4h4.3l-2.2 4.1zM143.5 111.6h4.3l-2.2 4.1z" fill="none" stroke="#1f4fbf" stroke-width=".95"/><path d="M115.7 112.1h3.5v3.5h-3.5zM116.6 111.7h3.5v3.5h-3.5zM118.3 112.2h3.5v3.5h-3.5zM119.4 112.3h3.5v3.5h-3.5zM120.6 111.9h3.5v3.5h-3.5z" fill="#b4591a"/><path d="M115.8 112.2h3.5v3.5h-3.5zM117.1 111.5h3.5v3.5h-3.5zM119.2 112.2h3.5v3.5h-3.5zM119.7 111.7h3.5v3.5h-3.5zM121.5 112.4h3.5v3.5h-3.5z" fill="none" stroke="#d9731f" stroke-width=".95"/><path d="M113 111.5l3.5 3.5m0 -3.5l-3.5 3.5M114.9 111.6l3.5 3.5m0 -3.5l-3.5 3.5M117.5 112.1l3.5 3.5m0 -3.5l-3.5 3.5" fill="none" stroke="#8c8c8c" stroke-width=".95"/></g><g clip-path="url(#a1_3)"><path d="M112 150.6l2.2 2.2l-2.2 2.2l-2.2 -2.2z" fill="none" stroke="#8a35d2" stroke-width=".95"/><path d="M111.6 153a1.8 1.8 0 1 0 3.5 0a1.8 1.8 0 1 0 -3.5 0zM113.9 153.1a1.8 1.8 0 1 0 3.5 0a1.8 1.8 0 1 0 -3.5 0zM117.3 153.1a1.8 1.8 0 1 0 3.5 0a1.8 1.8 0 1 0 -3.5 0z" fill="#1c8a2c"/><path d="M110.3 151.1l2.2 2.2l-2.2 2.2l-2.2 -2.2zM110.3 151.1l2.2 2.2l-2.2 2.2l-2.2 -2.2zM110.7 151.1l2.2 2.2l-2.2 2.2l-2.2 -2.2zM110.7 151.1l2.2 2.2l-2.2 2.2l-2.2 -2.2zM111.1 150.7l2.2 2.2l-2.2 2.2l-2.2 -2.2z" fill="#b3a000"/><path d="M109.4 153.2a1.7 1.7 0 1 0 3.3 0a1.7 1.7 0 1 0 -3.3 0zM109 153.2a1.7 1.7 0 1 0 3.3 0a1.7 1.7 0 1 0 -3.3 0zM109.8 153.2a1.7 1.7 0 1 0 3.3 0a1.7 1.7 0 1 0 -3.3 0zM110.2 153.2a1.7 1.7 0 1 0 3.3 0a1.7 1.7 0 1 0 -3.3 0zM111 153.2a1.7 1.7 0 1 0 3.3 0a1.7 1.7 0 1 0 -3.3 0zM110.6 153.2a1.7 1.7 0 1 0 3.3 0a1.7 1.7 0 1 0 -3.3 0z" fill="none" stroke="#e5334b" stroke-width=".95"/><path d="M111.1 151.1l2.2 2.2l-2.2 2.2l-2.2 -2.2zM111.4 151.1l2.2 2.2l-2.2 2.2l-2.2 -2.2zM111.9 151.1l2.2 2.2l-2.2 2.2l-2.2 -2.2z" fill="#cc1638"/><path d="M111.1 155.1h4.3l-2.2 -4.1zM114.9 155.5h4.3l-2.2 -4.1z" fill="#ff78c8"/><path d="M110.8 155.3h4.3l-2.2 -4.1zM112.4 155.3h4.3l-2.2 -4.1zM114.1 155.3h4.3l-2.2 -4.1zM115.2 155.3h4.3l-2.2 -4.1zM111.5 155.3h4.3l-2.2 -4.1zM113.2 155.3h4.3l-2.2 -4.1z" fill="#ff78c8"/><path d="M107.3 122.5h4.3l-2.2 -4.1zM107.6 124.5h4.3l-2.2 -4.1zM107.7 128.4h4.3l-2.2 -4.1zM108.2 132.4h4.3l-2.2 -4.1zM108.5 135.5h4.3l-2.2 -4.1zM108.9 138.3h4.3l-2.2 -4.1zM109.3 141.4h4.3l-2.2 -4.1zM109.8 144.2h4.3l-2.2 -4.1zM110.5 147.4h4.3l-2.2 -4.1zM111.3 150.1h4.3l-2.2 -4.1zM112.2 154.1h4.3l-2.2 -4.1zM113 154.5h4.3l-2.2 -4.1z" fill="none" stroke="#1fc3ef" stroke-width=".95"/><path d="M124.6 151.3h4.3l-2.2 4.1zM126.7 151.1h4.3l-2.2 4.1zM130.5 151.3h4.3l-2.2 4.1zM125 151.3h4.3l-2.2 4.1zM131.7 150.9h4.3l-2.2 4.1zM136.1 151.5h4.3l-2.2 4.1zM120 151.3h4.3l-2.2 4.1zM122.3 151.1h4.3l-2.2 4.1zM117.8 151.3h4.3l-2.2 4.1z" fill="#62f74f"/><path d="M122.2 151.1h4.3l-2.2 4.1zM124.6 151.3h4.3l-2.2 4.1zM127.1 151.1h4.3l-2.2 4.1zM130.4 151.4h4.3l-2.2 4.1zM132.9 151.1h4.3l-2.2 4.1zM135.2 151.3h4.3l-2.2 4.1zM138.6 151.4h4.3l-2.2 4.1zM141.2 151.5h4.3l-2.2 4.1zM143.5 151h4.3l-2.2 4.1z" fill="none" stroke="#1f4fbf" stroke-width=".95"/><path d="M115.7 151.6h3.5v3.5h-3.5zM116.6 151.2h3.5v3.5h-3.5zM118.3 151.7h3.5v3.5h-3.5zM119.4 151.1h3.5v3.5h-3.5zM120.6 151.6h3.5v3.5h-3.5z" fill="#b4591a"/><path d="M115.8 151.7h3.5v3.5h-3.5zM117.1 151.4h3.5v3.5h-3.5zM119.2 151.4h3.5v3.5h-3.5zM119.7 151.6h3.5v3.5h-3.5zM121.5 151.8h3.5v3.5h-3.5z" fill="none" stroke="#d9731f" stroke-width=".95"/><path d="M113 151.6l3.5 3.5m0 -3.5l-3.5 3.5M114.9 151.6l3.5 3.5m0 -3.5l-3.5 3.5M117.5 151.3l3.5 3.5m0 -3.5l-3.5 3.5" fill="none" stroke="#8c8c8c" stroke-width=".95"/></g><g clip-path="url(#a1_4)"><path d="M112 179.8l2.2 2.2l-2.2 2.2l-2.2 -2.2z" fill="none" stroke="#8a35d2" stroke-width=".95"/><path d="M111.6 186.7a1.8 1.8 0 1 0 3.5 0a1.8 1.8 0 1 0 -3.5 0zM113.9 188.1a1.8 1.8 0 1 0 3.5 0a1.8 1.8 0 1 0 -3.5 0zM117.3 190a1.8 1.8 0 1 0 3.5 0a1.8 1.8 0 1 0 -3.5 0z" fill="#1c8a2c"/><path d="M110.3 174.8l2.2 2.2l-2.2 2.2l-2.2 -2.2zM110.3 183.8l2.2 2.2l-2.2 2.2l-2.2 -2.2zM110.7 184.6l2.2 2.2l-2.2 2.2l-2.2 -2.2zM110.7 185.4l2.2 2.2l-2.2 2.2l-2.2 -2.2zM111.1 186.6l2.2 2.2l-2.2 2.2l-2.2 -2.2z" fill="#b3a000"/><path d="M109.4 186.4a1.7 1.7 0 1 0 3.3 0a1.7 1.7 0 1 0 -3.3 0zM109 187.6a1.7 1.7 0 1 0 3.3 0a1.7 1.7 0 1 0 -3.3 0zM109.8 188.8a1.7 1.7 0 1 0 3.3 0a1.7 1.7 0 1 0 -3.3 0zM110.2 189.2a1.7 1.7 0 1 0 3.3 0a1.7 1.7 0 1 0 -3.3 0zM111 189.9a1.7 1.7 0 1 0 3.3 0a1.7 1.7 0 1 0 -3.3 0zM110.6 190.3a1.7 1.7 0 1 0 3.3 0a1.7 1.7 0 1 0 -3.3 0z" fill="none" stroke="#e5334b" stroke-width=".95"/><path d="M111.1 185.8l2.2 2.2l-2.2 2.2l-2.2 -2.2zM111.4 186.6l2.2 2.2l-2.2 2.2l-2.2 -2.2zM111.9 187.4l2.2 2.2l-2.2 2.2l-2.2 -2.2z" fill="#cc1638"/><path d="M111.1 189.5h4.3l-2.2 -4.1zM114.9 191.6h4.3l-2.2 -4.1z" fill="#ff78c8"/><path d="M110.8 191.6h4.3l-2.2 -4.1zM112.4 192h4.3l-2.2 -4.1zM114.1 192.3h4.3l-2.2 -4.1zM115.2 192.3h4.3l-2.2 -4.1zM111.5 191.2h4.3l-2.2 -4.1zM113.2 192.3h4.3l-2.2 -4.1z" fill="#ff78c8"/><path d="M107.3 162.4h4.3l-2.2 -4.1zM107.6 173.4h4.3l-2.2 -4.1zM107.7 174.2h4.3l-2.2 -4.1zM108.2 182.1h4.3l-2.2 -4.1zM108.5 182.9h4.3l-2.2 -4.1zM108.9 184.5h4.3l-2.2 -4.1zM109.3 185.6h4.3l-2.2 -4.1zM109.8 187.2h4.3l-2.2 -4.1zM110.5 189.2h4.3l-2.2 -4.1zM111.3 190.8h4.3l-2.2 -4.1zM112.2 191.6h4.3l-2.2 -4.1zM113 192.3h4.3l-2.2 -4.1z" fill="none" stroke="#1fc3ef" stroke-width=".95"/><path d="M124.6 189.2h4.3l-2.2 4.1zM126.7 189.1h4.3l-2.2 4.1zM130.5 189.8h4.3l-2.2 4.1zM125 189.2h4.3l-2.2 4.1zM131.7 189.7h4.3l-2.2 4.1zM136.1 189.7h4.3l-2.2 4.1zM120 189.6h4.3l-2.2 4.1zM122.3 189.9h4.3l-2.2 4.1zM117.8 189.8h4.3l-2.2 4.1z" fill="#62f74f"/><path d="M122.2 189.8h4.3l-2.2 4.1zM124.6 189.9h4.3l-2.2 4.1zM127.1 189.2h4.3l-2.2 4.1zM130.4 189.8h4.3l-2.2 4.1zM132.9 189.6h4.3l-2.2 4.1zM135.2 189.7h4.3l-2.2 4.1zM138.6 189.5h4.3l-2.2 4.1zM141.2 189.6h4.3l-2.2 4.1zM143.5 189.5h4.3l-2.2 4.1z" fill="none" stroke="#1f4fbf" stroke-width=".95"/><path d="M115.7 187.9h3.5v3.5h-3.5zM116.6 188.1h3.5v3.5h-3.5zM118.3 188.9h3.5v3.5h-3.5zM119.4 188.7h3.5v3.5h-3.5zM120.6 189.1h3.5v3.5h-3.5z" fill="#b4591a"/><path d="M115.8 187.8h3.5v3.5h-3.5zM117.1 188.2h3.5v3.5h-3.5zM119.2 189.2h3.5v3.5h-3.5zM119.7 189.1h3.5v3.5h-3.5zM121.5 189.4h3.5v3.5h-3.5z" fill="none" stroke="#d9731f" stroke-width=".95"/><path d="M113 185.8l3.5 3.5m0 -3.5l-3.5 3.5M114.9 187.4l3.5 3.5m0 -3.5l-3.5 3.5M117.5 188.4l3.5 3.5m0 -3.5l-3.5 3.5" fill="none" stroke="#8c8c8c" stroke-width=".95"/></g><g clip-path="url(#a1_5)"><path d="M112 218.9l2.2 2.2l-2.2 2.2l-2.2 -2.2z" fill="none" stroke="#8a35d2" stroke-width=".95"/><path d="M111.6 225.4a1.8 1.8 0 1 0 3.5 0a1.8 1.8 0 1 0 -3.5 0zM113.9 227.7a1.8 1.8 0 1 0 3.5 0a1.8 1.8 0 1 0 -3.5 0zM117.3 229.1a1.8 1.8 0 1 0 3.5 0a1.8 1.8 0 1 0 -3.5 0z" fill="#1c8a2c"/><path d="M110.3 216.2l2.2 2.2l-2.2 2.2l-2.2 -2.2zM110.3 222.1l2.2 2.2l-2.2 2.2l-2.2 -2.2zM110.7 222.9l2.2 2.2l-2.2 2.2l-2.2 -2.2zM110.7 223.7l2.2 2.2l-2.2 2.2l-2.2 -2.2zM111.1 224.5l2.2 2.2l-2.2 2.2l-2.2 -2.2z" fill="#b3a000"/><path d="M109.4 225.5a1.7 1.7 0 1 0 3.3 0a1.7 1.7 0 1 0 -3.3 0zM109 226.6a1.7 1.7 0 1 0 3.3 0a1.7 1.7 0 1 0 -3.3 0zM109.8 227.4a1.7 1.7 0 1 0 3.3 0a1.7 1.7 0 1 0 -3.3 0zM110.2 228.2a1.7 1.7 0 1 0 3.3 0a1.7 1.7 0 1 0 -3.3 0zM111 228.6a1.7 1.7 0 1 0 3.3 0a1.7 1.7 0 1 0 -3.3 0zM110.6 229a1.7 1.7 0 1 0 3.3 0a1.7 1.7 0 1 0 -3.3 0z" fill="none" stroke="#e5334b" stroke-width=".95"/><path d="M111.1 224.5l2.2 2.2l-2.2 2.2l-2.2 -2.2zM111.4 225.3l2.2 2.2l-2.2 2.2l-2.2 -2.2zM111.9 226.1l2.2 2.2l-2.2 2.2l-2.2 -2.2z" fill="#cc1638"/><path d="M111.1 228.6h4.3l-2.2 -4.1zM114.9 230.9h4.3l-2.2 -4.1z" fill="#ff78c8"/><path d="M110.8 231h4.3l-2.2 -4.1zM112.4 231.4h4.3l-2.2 -4.1zM114.1 231.8h4.3l-2.2 -4.1zM115.2 231.8h4.3l-2.2 -4.1zM111.5 230.6h4.3l-2.2 -4.1zM113.2 231.8h4.3l-2.2 -4.1z" fill="#ff78c8"/><path d="M107.3 202.2h4.3l-2.2 -4.1zM107.6 211.3h4.3l-2.2 -4.1zM107.7 212.1h4.3l-2.2 -4.1zM108.2 219.2h4.3l-2.2 -4.1zM108.5 220.4h4.3l-2.2 -4.1zM108.9 222.3h4.3l-2.2 -4.1zM109.3 224.3h4.3l-2.2 -4.1zM109.8 225.9h4.3l-2.2 -4.1zM110.5 227.5h4.3l-2.2 -4.1zM111.3 229h4.3l-2.2 -4.1zM112.2 230.2h4.3l-2.2 -4.1zM113 231h4.3l-2.2 -4.1z" fill="none" stroke="#1fc3ef" stroke-width=".95"/><path d="M124.6 228.2h4.3l-2.2 4.1zM126.7 228.3h4.3l-2.2 4.1zM130.5 228.9h4.3l-2.2 4.1zM125 228.9h4.3l-2.2 4.1zM131.7 228.6h4.3l-2.2 4.1zM136.1 228.8h4.3l-2.2 4.1zM120 228.5h4.3l-2.2 4.1zM122.3 228.3h4.3l-2.2 4.1zM117.8 228.5h4.3l-2.2 4.1z" fill="#62f74f"/><path d="M122.2 228.5h4.3l-2.2 4.1zM124.6 228.9h4.3l-2.2 4.1zM127.1 228.5h4.3l-2.2 4.1zM130.4 228.9h4.3l-2.2 4.1zM132.9 228.5h4.3l-2.2 4.1zM135.2 228.5h4.3l-2.2 4.1zM138.6 228.6h4.3l-2.2 4.1zM141.2 228.4h4.3l-2.2 4.1zM143.5 228.3h4.3l-2.2 4.1z" fill="none" stroke="#1f4fbf" stroke-width=".95"/><path d="M115.7 226.7h3.5v3.5h-3.5zM116.6 227.4h3.5v3.5h-3.5zM118.3 227.3h3.5v3.5h-3.5zM119.4 227.9h3.5v3.5h-3.5zM120.6 228.4h3.5v3.5h-3.5z" fill="#b4591a"/><path d="M115.8 227.1h3.5v3.5h-3.5zM117.1 227.6h3.5v3.5h-3.5zM119.2 227.8h3.5v3.5h-3.5zM119.7 227.7h3.5v3.5h-3.5zM121.5 228.5h3.5v3.5h-3.5z" fill="none" stroke="#d9731f" stroke-width=".95"/><path d="M113 224.9l3.5 3.5m0 -3.5l-3.5 3.5M114.9 226.4l3.5 3.5m0 -3.5l-3.5 3.5M117.5 227.8l3.5 3.5m0 -3.5l-3.5 3.5" fill="none" stroke="#8c8c8c" stroke-width=".95"/></g><g clip-path="url(#a1_6)"><path d="M112 259.1l2.2 2.2l-2.2 2.2l-2.2 -2.2z" fill="none" stroke="#8a35d2" stroke-width=".95"/><path d="M111.6 265a1.8 1.8 0 1 0 3.5 0a1.8 1.8 0 1 0 -3.5 0zM113.9 266.6a1.8 1.8 0 1 0 3.5 0a1.8 1.8 0 1 0 -3.5 0zM117.3 268.1a1.8 1.8 0 1 0 3.5 0a1.8 1.8 0 1 0 -3.5 0z" fill="#1c8a2c"/><path d="M110.3 256.1l2.2 2.2l-2.2 2.2l-2.2 -2.2zM110.3 257.2l2.2 2.2l-2.2 2.2l-2.2 -2.2zM110.7 258.4l2.2 2.2l-2.2 2.2l-2.2 -2.2zM110.7 259.6l2.2 2.2l-2.2 2.2l-2.2 -2.2zM111.1 261.6l2.2 2.2l-2.2 2.2l-2.2 -2.2z" fill="#b3a000"/><path d="M109.4 263.3a1.7 1.7 0 1 0 3.3 0a1.7 1.7 0 1 0 -3.3 0zM109 264.5a1.7 1.7 0 1 0 3.3 0a1.7 1.7 0 1 0 -3.3 0zM109.8 265.3a1.7 1.7 0 1 0 3.3 0a1.7 1.7 0 1 0 -3.3 0zM110.2 266.1a1.7 1.7 0 1 0 3.3 0a1.7 1.7 0 1 0 -3.3 0zM111 266.9a1.7 1.7 0 1 0 3.3 0a1.7 1.7 0 1 0 -3.3 0zM110.6 267.7a1.7 1.7 0 1 0 3.3 0a1.7 1.7 0 1 0 -3.3 0z" fill="none" stroke="#e5334b" stroke-width=".95"/><path d="M111.1 262.4l2.2 2.2l-2.2 2.2l-2.2 -2.2zM111.4 263.5l2.2 2.2l-2.2 2.2l-2.2 -2.2zM111.9 263.9l2.2 2.2l-2.2 2.2l-2.2 -2.2z" fill="#cc1638"/><path d="M111.1 268.4h4.3l-2.2 -4.1zM114.9 269.9h4.3l-2.2 -4.1z" fill="#ff78c8"/><path d="M110.8 268.9h4.3l-2.2 -4.1zM112.4 269.7h4.3l-2.2 -4.1zM114.1 270.1h4.3l-2.2 -4.1zM115.2 270.5h4.3l-2.2 -4.1zM111.5 268.1h4.3l-2.2 -4.1zM113.2 270.5h4.3l-2.2 -4.1z" fill="#ff78c8"/><path d="M107.3 243.2h4.3l-2.2 -4.1zM107.6 251.1h4.3l-2.2 -4.1zM107.7 252.7h4.3l-2.2 -4.1zM108.2 254.7h4.3l-2.2 -4.1zM108.5 264.2h4.3l-2.2 -4.1zM108.9 265.7h4.3l-2.2 -4.1zM109.3 267.3h4.3l-2.2 -4.1zM109.8 268.1h4.3l-2.2 -4.1zM110.5 269.3h4.3l-2.2 -4.1zM111.3 270.1h4.3l-2.2 -4.1zM112.2 270.9h4.3l-2.2 -4.1zM113 271.3h4.3l-2.2 -4.1z" fill="none" stroke="#1fc3ef" stroke-width=".95"/><path d="M124.6 267.7h4.3l-2.2 4.1zM126.7 267.8h4.3l-2.2 4.1zM130.5 268h4.3l-2.2 4.1zM125 267.7h4.3l-2.2 4.1zM131.7 267.8h4.3l-2.2 4.1zM136.1 267.7h4.3l-2.2 4.1zM120 267.3h4.3l-2.2 4.1zM122.3 267.4h4.3l-2.2 4.1zM117.8 268h4.3l-2.2 4.1z" fill="#62f74f"/><path d="M122.2 267.7h4.3l-2.2 4.1zM124.6 267.7h4.3l-2.2 4.1zM127.1 267.7h4.3l-2.2 4.1zM130.4 267.8h4.3l-2.2 4.1zM132.9 268h4.3l-2.2 4.1zM135.2 267.7h4.3l-2.2 4.1zM138.6 267.3h4.3l-2.2 4.1zM141.2 267.9h4.3l-2.2 4.1zM143.5 267.8h4.3l-2.2 4.1z" fill="none" stroke="#1f4fbf" stroke-width=".95"/><path d="M115.7 265.6h3.5v3.5h-3.5zM116.6 266.1h3.5v3.5h-3.5zM118.3 266.5h3.5v3.5h-3.5zM119.4 266.7h3.5v3.5h-3.5zM120.6 266.9h3.5v3.5h-3.5z" fill="#b4591a"/><path d="M115.8 265.7h3.5v3.5h-3.5zM117.1 266.8h3.5v3.5h-3.5zM119.2 266.6h3.5v3.5h-3.5zM119.7 266.7h3.5v3.5h-3.5zM121.5 267.2h3.5v3.5h-3.5z" fill="none" stroke="#d9731f" stroke-width=".95"/><path d="M113 264.6l3.5 3.5m0 -3.5l-3.5 3.5M114.9 265.8l3.5 3.5m0 -3.5l-3.5 3.5M117.5 266.2l3.5 3.5m0 -3.5l-3.5 3.5" fill="none" stroke="#8c8c8c" stroke-width=".95"/></g><g clip-path="url(#a1_7)"><path d="M112 298.6l2.2 2.2l-2.2 2.2l-2.2 -2.2z" fill="none" stroke="#8a35d2" stroke-width=".95"/><path d="M111.6 304.6a1.8 1.8 0 1 0 3.5 0a1.8 1.8 0 1 0 -3.5 0zM113.9 306.3a1.8 1.8 0 1 0 3.5 0a1.8 1.8 0 1 0 -3.5 0zM117.3 307.8a1.8 1.8 0 1 0 3.5 0a1.8 1.8 0 1 0 -3.5 0z" fill="#1c8a2c"/><path d="M110.3 297.1l2.2 2.2l-2.2 2.2l-2.2 -2.2zM110.3 297.9l2.2 2.2l-2.2 2.2l-2.2 -2.2zM110.7 298.7l2.2 2.2l-2.2 2.2l-2.2 -2.2zM110.7 299.5l2.2 2.2l-2.2 2.2l-2.2 -2.2zM111.1 301.4l2.2 2.2l-2.2 2.2l-2.2 -2.2z" fill="#b3a000"/><path d="M109.4 304a1.7 1.7 0 1 0 3.3 0a1.7 1.7 0 1 0 -3.3 0zM109 304.8a1.7 1.7 0 1 0 3.3 0a1.7 1.7 0 1 0 -3.3 0zM109.8 305.2a1.7 1.7 0 1 0 3.3 0a1.7 1.7 0 1 0 -3.3 0zM110.2 306a1.7 1.7 0 1 0 3.3 0a1.7 1.7 0 1 0 -3.3 0zM111 306.3a1.7 1.7 0 1 0 3.3 0a1.7 1.7 0 1 0 -3.3 0zM110.6 306.7a1.7 1.7 0 1 0 3.3 0a1.7 1.7 0 1 0 -3.3 0z" fill="none" stroke="#e5334b" stroke-width=".95"/><path d="M111.1 302.6l2.2 2.2l-2.2 2.2l-2.2 -2.2zM111.4 303.4l2.2 2.2l-2.2 2.2l-2.2 -2.2zM111.9 303.8l2.2 2.2l-2.2 2.2l-2.2 -2.2z" fill="#cc1638"/><path d="M111.1 307.9h4.3l-2.2 -4.1zM114.9 310h4.3l-2.2 -4.1z" fill="#ff78c8"/><path d="M110.8 309.1h4.3l-2.2 -4.1zM112.4 309.5h4.3l-2.2 -4.1zM114.1 309.9h4.3l-2.2 -4.1zM115.2 310.3h4.3l-2.2 -4.1zM111.5 308.4h4.3l-2.2 -4.1zM113.2 310.3h4.3l-2.2 -4.1z" fill="#ff78c8"/><path d="M107.3 282.3h4.3l-2.2 -4.1zM107.6 292.2h4.3l-2.2 -4.1zM107.7 294.2h4.3l-2.2 -4.1zM108.2 296.1h4.3l-2.2 -4.1zM108.5 300.5h4.3l-2.2 -4.1zM108.9 301.7h4.3l-2.2 -4.1zM109.3 303.2h4.3l-2.2 -4.1zM109.8 304.4h4.3l-2.2 -4.1zM110.5 306h4.3l-2.2 -4.1zM111.3 307.6h4.3l-2.2 -4.1zM112.2 308.8h4.3l-2.2 -4.1zM113 309.5h4.3l-2.2 -4.1z" fill="none" stroke="#1fc3ef" stroke-width=".95"/><path d="M124.6 307h4.3l-2.2 4.1zM126.7 307.2h4.3l-2.2 4.1zM130.5 306.9h4.3l-2.2 4.1zM125 307.1h4.3l-2.2 4.1zM131.7 306.8h4.3l-2.2 4.1zM136.1 307h4.3l-2.2 4.1zM120 307h4.3l-2.2 4.1zM122.3 306.8h4.3l-2.2 4.1zM117.8 307.4h4.3l-2.2 4.1z" fill="#62f74f"/><path d="M122.2 307.5h4.3l-2.2 4.1zM124.6 306.8h4.3l-2.2 4.1zM127.1 306.7h4.3l-2.2 4.1zM130.4 306.9h4.3l-2.2 4.1zM132.9 307.5h4.3l-2.2 4.1zM135.2 307.3h4.3l-2.2 4.1zM138.6 306.9h4.3l-2.2 4.1zM141.2 307.1h4.3l-2.2 4.1zM143.5 306.9h4.3l-2.2 4.1z" fill="none" stroke="#1f4fbf" stroke-width=".95"/><path d="M115.7 305.2h3.5v3.5h-3.5zM116.6 305.9h3.5v3.5h-3.5zM118.3 306.5h3.5v3.5h-3.5zM119.4 306.6h3.5v3.5h-3.5zM120.6 306.8h3.5v3.5h-3.5z" fill="#b4591a"/><path d="M115.8 305.3h3.5v3.5h-3.5zM117.1 306h3.5v3.5h-3.5zM119.2 306.1h3.5v3.5h-3.5zM119.7 306.3h3.5v3.5h-3.5zM121.5 306.5h3.5v3.5h-3.5z" fill="none" stroke="#d9731f" stroke-width=".95"/><path d="M113 303.5l3.5 3.5m0 -3.5l-3.5 3.5M114.9 305.3l3.5 3.5m0 -3.5l-3.5 3.5M117.5 305.8l3.5 3.5m0 -3.5l-3.5 3.5" fill="none" stroke="#8c8c8c" stroke-width=".95"/></g><g clip-path="url(#a1_8)"><path d="M112 348.1l2.2 2.2l-2.2 2.2l-2.2 -2.2z" fill="none" stroke="#8a35d2" stroke-width=".95"/><path d="M107.3 354.1h4.3l-2.2 -4.1zM107.6 352.6h4.3l-2.2 -4.1zM107.7 350.6h4.3l-2.2 -4.1zM108.2 347.8h4.3l-2.2 -4.1zM108.5 345.5h4.3l-2.2 -4.1zM108.9 332.8h4.3l-2.2 -4.1zM109.3 343.1h4.3l-2.2 -4.1zM109.8 355.3h4.3l-2.2 -4.1zM110.5 331.2h4.3l-2.2 -4.1zM111.3 333.6h4.3l-2.2 -4.1zM112.2 331.6h4.3l-2.2 -4.1zM113 335.6h4.3l-2.2 -4.1z" fill="none" stroke="#1fc3ef" stroke-width=".95"/><path d="M110.3 340.1l2.2 2.2l-2.2 2.2l-2.2 -2.2zM110.3 342.1l2.2 2.2l-2.2 2.2l-2.2 -2.2zM110.7 341.3l2.2 2.2l-2.2 2.2l-2.2 -2.2zM110.7 350l2.2 2.2l-2.2 2.2l-2.2 -2.2zM111.1 343.3l2.2 2.2l-2.2 2.2l-2.2 -2.2z" fill="#b3a000"/><path d="M109.4 342.3a1.7 1.7 0 1 0 3.3 0a1.7 1.7 0 1 0 -3.3 0zM109 344.6a1.7 1.7 0 1 0 3.3 0a1.7 1.7 0 1 0 -3.3 0zM109.8 346.6a1.7 1.7 0 1 0 3.3 0a1.7 1.7 0 1 0 -3.3 0zM110.2 348.6a1.7 1.7 0 1 0 3.3 0a1.7 1.7 0 1 0 -3.3 0zM111 350.5a1.7 1.7 0 1 0 3.3 0a1.7 1.7 0 1 0 -3.3 0zM110.6 351.7a1.7 1.7 0 1 0 3.3 0a1.7 1.7 0 1 0 -3.3 0z" fill="none" stroke="#e5334b" stroke-width=".95"/><path d="M111.1 345.2l2.2 2.2l-2.2 2.2l-2.2 -2.2zM111.4 346.8l2.2 2.2l-2.2 2.2l-2.2 -2.2zM111.9 343.7l2.2 2.2l-2.2 2.2l-2.2 -2.2z" fill="#cc1638"/><path d="M111.1 338h4.3l-2.2 -4.1zM114.9 338.4h4.3l-2.2 -4.1z" fill="#ff78c8"/><path d="M110.8 337.6h4.3l-2.2 -4.1zM112.4 339.9h4.3l-2.2 -4.1zM114.1 341.5h4.3l-2.2 -4.1zM115.2 342.3h4.3l-2.2 -4.1zM111.5 339.1h4.3l-2.2 -4.1zM113.2 338.3h4.3l-2.2 -4.1z" fill="#ff78c8"/><path d="M124.6 335.5h4.3l-2.2 4.1zM126.7 336.7h4.3l-2.2 4.1zM130.5 337.5h4.3l-2.2 4.1zM125 335.9h4.3l-2.2 4.1zM131.7 337.9h4.3l-2.2 4.1zM136.1 338.3h4.3l-2.2 4.1zM120 329.6h4.3l-2.2 4.1zM122.3 335.5h4.3l-2.2 4.1zM117.8 328.8h4.3l-2.2 4.1z" fill="#62f74f"/><path d="M122.2 333.5h4.3l-2.2 4.1zM124.6 316.2h4.3l-2.2 4.1zM127.1 331.2h4.3l-2.2 4.1zM130.4 322.1h4.3l-2.2 4.1zM132.9 329.6h4.3l-2.2 4.1zM135.2 332.8h4.3l-2.2 4.1zM138.6 330.4h4.3l-2.2 4.1zM141.2 332.4h4.3l-2.2 4.1zM143.5 331.6h4.3l-2.2 4.1z" fill="none" stroke="#1f4fbf" stroke-width=".95"/><path d="M115.7 330.7h3.5v3.5h-3.5zM116.6 329.2h3.5v3.5h-3.5zM118.3 329.1h3.5v3.5h-3.5zM119.4 328.9h3.5v3.5h-3.5zM120.6 330.8h3.5v3.5h-3.5z" fill="#b4591a"/><path d="M115.8 332.8h3.5v3.5h-3.5zM117.1 332.1h3.5v3.5h-3.5zM119.2 329.4h3.5v3.5h-3.5zM119.7 328.7h3.5v3.5h-3.5zM121.5 331h3.5v3.5h-3.5z" fill="none" stroke="#d9731f" stroke-width=".95"/><path d="M111.6 329.2a1.8 1.8 0 1 0 3.5 0a1.8 1.8 0 1 0 -3.5 0zM113.9 331.3a1.8 1.8 0 1 0 3.5 0a1.8 1.8 0 1 0 -3.5 0zM117.3 330.3a1.8 1.8 0 1 0 3.5 0a1.8 1.8 0 1 0 -3.5 0z" fill="#1c8a2c"/><path d="M113 331.5l3.5 3.5m0 -3.5l-3.5 3.5M114.9 334.1l3.5 3.5m0 -3.5l-3.5 3.5M117.5 331.5l3.5 3.5m0 -3.5l-3.5 3.5" fill="none" stroke="#8c8c8c" stroke-width=".95"/></g><g clip-path="url(#a2_0)"><path d="M153.7 29.1l2.2 2.2l-2.2 2.2l-2.2 -2.2z" fill="none" stroke="#8a35d2" stroke-width=".95"/><path d="M152.6 32a1.8 1.8 0 1 0 3.5 0a1.8 1.8 0 1 0 -3.5 0zM154.5 32.6a1.8 1.8 0 1 0 3.5 0a1.8 1.8 0 1 0 -3.5 0zM158 32.8a1.8 1.8 0 1 0 3.5 0a1.8 1.8 0 1 0 -3.5 0z" fill="#1c8a2c"/><path d="M151 -.4l2.2 2.2l-2.2 2.2l-2.2 -2.2zM151 .7l2.2 2.2l-2.2 2.2l-2.2 -2.2zM151.5 1.9l2.2 2.2l-2.2 2.2l-2.2 -2.2zM151.5 3.1l2.2 2.2l-2.2 2.2l-2.2 -2.2zM151.8 19.7l2.2 2.2l-2.2 2.2l-2.2 -2.2z" fill="#b3a000"/><path d="M150.8 14.3a1.7 1.7 0 1 0 3.3 0a1.7 1.7 0 1 0 -3.3 0zM150.2 27.4a1.7 1.7 0 1 0 3.3 0a1.7 1.7 0 1 0 -3.3 0zM151.2 29.3a1.7 1.7 0 1 0 3.3 0a1.7 1.7 0 1 0 -3.3 0zM151.6 30.9a1.7 1.7 0 1 0 3.3 0a1.7 1.7 0 1 0 -3.3 0zM152.6 32.5a1.7 1.7 0 1 0 3.3 0a1.7 1.7 0 1 0 -3.3 0zM152.2 33.7a1.7 1.7 0 1 0 3.3 0a1.7 1.7 0 1 0 -3.3 0z" fill="none" stroke="#e5334b" stroke-width=".95"/><path d="M152.4 29.6l2.2 2.2l-2.2 2.2l-2.2 -2.2zM152.9 30.7l2.2 2.2l-2.2 2.2l-2.2 -2.2zM153.3 31.9l2.2 2.2l-2.2 2.2l-2.2 -2.2z" fill="#cc1638"/><path d="M150.9 34.4h4.3l-2.2 -4.1zM154.9 35.3h4.3l-2.2 -4.1z" fill="#ff78c8"/><path d="M150.4 31.3h4.3l-2.2 -4.1zM152.1 31.7h4.3l-2.2 -4.1zM153.3 32.1h4.3l-2.2 -4.1zM155.5 30.6h4.3l-2.2 -4.1zM152 28.6h4.3l-2.2 -4.1zM153 32.9h4.3l-2.2 -4.1z" fill="#ff78c8"/><path d="M148.1 18.3h4.3l-2.2 -4.1zM148.3 21.9h4.3l-2.2 -4.1zM148.6 23.5h4.3l-2.2 -4.1zM149 25h4.3l-2.2 -4.1zM149.6 26.6h4.3l-2.2 -4.1zM149.9 27.8h4.3l-2.2 -4.1zM150.5 29.4h4.3l-2.2 -4.1zM150.8 30.6h4.3l-2.2 -4.1zM151.9 31.3h4.3l-2.2 -4.1zM152.7 32.5h4.3l-2.2 -4.1zM153.4 33.3h4.3l-2.2 -4.1zM154.2 34.1h4.3l-2.2 -4.1z" fill="none" stroke="#1fc3ef" stroke-width=".95"/><path d="M161.6 31.2h4.3l-2.2 4.1zM163.5 31.6h4.3l-2.2 4.1zM166.3 31.1h4.3l-2.2 4.1zM162.4 31.6h4.3l-2.2 4.1zM167.6 31h4.3l-2.2 4.1zM170.3 30.9h4.3l-2.2 4.1zM158.1 31.5h4.3l-2.2 4.1zM161.2 31.3h4.3l-2.2 4.1zM159.4 31h4.3l-2.2 4.1z" fill="#62f74f"/><path d="M161.5 31.4h4.3l-2.2 4.1zM164.5 31.3h4.3l-2.2 4.1zM166.4 31.6h4.3l-2.2 4.1zM169.8 31.6h4.3l-2.2 4.1zM172 31.5h4.3l-2.2 4.1zM175 31.5h4.3l-2.2 4.1zM177.3 31h4.3l-2.2 4.1zM178.8 31.4h4.3l-2.2 4.1zM182.4 31.6h4.3l-2.2 4.1z" fill="none" stroke="#1f4fbf" stroke-width=".95"/><path d="M157.4 31.2h3.5v3.5h-3.5zM158.1 31.1h3.5v3.5h-3.5zM159.3 30.9h3.5v3.5h-3.5zM161 31.3h3.5v3.5h-3.5zM161.3 31.6h3.5v3.5h-3.5z" fill="#b4591a"/><path d="M156.4 31.5h3.5v3.5h-3.5zM158.1 31.5h3.5v3.5h-3.5zM159.8 31h3.5v3.5h-3.5zM160.8 31.1h3.5v3.5h-3.5zM163.7 31.4h3.5v3.5h-3.5z" fill="none" stroke="#d9731f" stroke-width=".95"/><path d="M154.4 30.7l3.5 3.5m0 -3.5l-3.5 3.5M157.1 31.1l3.5 3.5m0 -3.5l-3.5 3.5M159.4 31.3l3.5 3.5m0 -3.5l-3.5 3.5" fill="none" stroke="#8c8c8c" stroke-width=".95"/></g><g clip-path="url(#a2_1)"><path d="M153.7 71.8l2.2 2.2l-2.2 2.2l-2.2 -2.2z" fill="none" stroke="#8a35d2" stroke-width=".95"/><path d="M152.6 74.6a1.8 1.8 0 1 0 3.5 0a1.8 1.8 0 1 0 -3.5 0zM154.5 73.7a1.8 1.8 0 1 0 3.5 0a1.8 1.8 0 1 0 -3.5 0zM158 72a1.8 1.8 0 1 0 3.5 0a1.8 1.8 0 1 0 -3.5 0z" fill="#1c8a2c"/><path d="M151 73l2.2 2.2l-2.2 2.2l-2.2 -2.2zM151 73l2.2 2.2l-2.2 2.2l-2.2 -2.2zM151.5 73l2.2 2.2l-2.2 2.2l-2.2 -2.2zM151.5 73l2.2 2.2l-2.2 2.2l-2.2 -2.2zM151.8 72.6l2.2 2.2l-2.2 2.2l-2.2 -2.2z" fill="#b3a000"/><path d="M150.8 74.3a1.7 1.7 0 1 0 3.3 0a1.7 1.7 0 1 0 -3.3 0zM150.2 74.3a1.7 1.7 0 1 0 3.3 0a1.7 1.7 0 1 0 -3.3 0zM151.2 74.3a1.7 1.7 0 1 0 3.3 0a1.7 1.7 0 1 0 -3.3 0zM151.6 74.3a1.7 1.7 0 1 0 3.3 0a1.7 1.7 0 1 0 -3.3 0zM152.6 74.3a1.7 1.7 0 1 0 3.3 0a1.7 1.7 0 1 0 -3.3 0zM152.2 74.3a1.7 1.7 0 1 0 3.3 0a1.7 1.7 0 1 0 -3.3 0z" fill="none" stroke="#e5334b" stroke-width=".95"/><path d="M152.4 72.2l2.2 2.2l-2.2 2.2l-2.2 -2.2zM152.9 72.2l2.2 2.2l-2.2 2.2l-2.2 -2.2zM153.3 72.2l2.2 2.2l-2.2 2.2l-2.2 -2.2z" fill="#cc1638"/><path d="M150.9 77h4.3l-2.2 -4.1zM154.9 75.7h4.3l-2.2 -4.1z" fill="#ff78c8"/><path d="M150.4 76.3h4.3l-2.2 -4.1zM152.1 76.3h4.3l-2.2 -4.1zM153.3 76.3h4.3l-2.2 -4.1zM155.5 76.3h4.3l-2.2 -4.1zM152 76.3h4.3l-2.2 -4.1zM153 76.7h4.3l-2.2 -4.1z" fill="#ff78c8"/><path d="M148.1 77.5h4.3l-2.2 -4.1zM148.3 77.5h4.3l-2.2 -4.1zM148.6 77.5h4.3l-2.2 -4.1zM149 77.1h4.3l-2.2 -4.1zM149.6 77.5h4.3l-2.2 -4.1zM149.9 77.1h4.3l-2.2 -4.1zM150.5 77.1h4.3l-2.2 -4.1zM150.8 77.1h4.3l-2.2 -4.1zM151.9 76.7h4.3l-2.2 -4.1zM152.7 76.7h4.3l-2.2 -4.1zM153.4 76.3h4.3l-2.2 -4.1zM154.2 76.3h4.3l-2.2 -4.1z" fill="none" stroke="#1fc3ef" stroke-width=".95"/><path d="M161.6 41.9h4.3l-2.2 4.1zM163.5 41.9h4.3l-2.2 4.1zM166.3 52.2h4.3l-2.2 4.1zM162.4 56.5h4.3l-2.2 4.1zM167.6 56.5h4.3l-2.2 4.1zM170.3 62.5h4.3l-2.2 4.1zM158.1 67.2h4.3l-2.2 4.1zM161.2 66.4h4.3l-2.2 4.1zM159.4 67.6h4.3l-2.2 4.1z" fill="#62f74f"/><path d="M161.5 66.4h4.3l-2.2 4.1zM164.5 68.5h4.3l-2.2 4.1zM166.4 67.1h4.3l-2.2 4.1zM169.8 65.1h4.3l-2.2 4.1zM172 67.3h4.3l-2.2 4.1zM175 65.4h4.3l-2.2 4.1zM177.3 67.4h4.3l-2.2 4.1zM178.8 64.4h4.3l-2.2 4.1zM182.4 65.7h4.3l-2.2 4.1z" fill="none" stroke="#1f4fbf" stroke-width=".95"/><path d="M157.4 72.9h3.5v3.5h-3.5zM158.1 71.2h3.5v3.5h-3.5zM159.3 70.5h3.5v3.5h-3.5zM161 70.4h3.5v3.5h-3.5zM161.3 69.4h3.5v3.5h-3.5z" fill="#b4591a"/><path d="M156.4 72.6h3.5v3.5h-3.5zM158.1 70.6h3.5v3.5h-3.5zM159.8 70h3.5v3.5h-3.5zM160.8 68.9h3.5v3.5h-3.5zM163.7 68.1h3.5v3.5h-3.5z" fill="none" stroke="#d9731f" stroke-width=".95"/><path d="M154.4 71.8l3.5 3.5m0 -3.5l-3.5 3.5M157.1 70.8l3.5 3.5m0 -3.5l-3.5 3.5M159.4 71.2l3.5 3.5m0 -3.5l-3.5 3.5" fill="none" stroke="#8c8c8c" stroke-width=".95"/></g><g clip-path="url(#a2_2)"><path d="M153.7 111.2l2.2 2.2l-2.2 2.2l-2.2 -2.2z" fill="none" stroke="#8a35d2" stroke-width=".95"/><path d="M152.6 113.4a1.8 1.8 0 1 0 3.5 0a1.8 1.8 0 1 0 -3.5 0zM154.5 113.6a1.8 1.8 0 1 0 3.5 0a1.8 1.8 0 1 0 -3.5 0zM158 113.7a1.8 1.8 0 1 0 3.5 0a1.8 1.8 0 1 0 -3.5 0z" fill="#1c8a2c"/><path d="M151 89.9l2.2 2.2l-2.2 2.2l-2.2 -2.2zM151 95.8l2.2 2.2l-2.2 2.2l-2.2 -2.2zM151.5 110.4l2.2 2.2l-2.2 2.2l-2.2 -2.2zM151.5 110.8l2.2 2.2l-2.2 2.2l-2.2 -2.2zM151.8 110.8l2.2 2.2l-2.2 2.2l-2.2 -2.2z" fill="#b3a000"/><path d="M150.8 113.4a1.7 1.7 0 1 0 3.3 0a1.7 1.7 0 1 0 -3.3 0zM150.2 113.4a1.7 1.7 0 1 0 3.3 0a1.7 1.7 0 1 0 -3.3 0zM151.2 113.4a1.7 1.7 0 1 0 3.3 0a1.7 1.7 0 1 0 -3.3 0zM151.6 113.4a1.7 1.7 0 1 0 3.3 0a1.7 1.7 0 1 0 -3.3 0zM152.6 113.8a1.7 1.7 0 1 0 3.3 0a1.7 1.7 0 1 0 -3.3 0zM152.2 113.8a1.7 1.7 0 1 0 3.3 0a1.7 1.7 0 1 0 -3.3 0z" fill="none" stroke="#e5334b" stroke-width=".95"/><path d="M152.4 111.2l2.2 2.2l-2.2 2.2l-2.2 -2.2zM152.9 111.2l2.2 2.2l-2.2 2.2l-2.2 -2.2zM153.3 111.6l2.2 2.2l-2.2 2.2l-2.2 -2.2z" fill="#cc1638"/><path d="M150.9 115.9h4.3l-2.2 -4.1zM154.9 115.8h4.3l-2.2 -4.1z" fill="#ff78c8"/><path d="M150.4 115.4h4.3l-2.2 -4.1zM152.1 115.4h4.3l-2.2 -4.1zM153.3 115.8h4.3l-2.2 -4.1zM155.5 115.8h4.3l-2.2 -4.1zM152 115.4h4.3l-2.2 -4.1zM153 115.8h4.3l-2.2 -4.1z" fill="#ff78c8"/><path d="M148.1 84.2h4.3l-2.2 -4.1zM148.3 95.3h4.3l-2.2 -4.1zM148.6 99.2h4.3l-2.2 -4.1zM149 106.3h4.3l-2.2 -4.1zM149.6 108.7h4.3l-2.2 -4.1zM149.9 110.3h4.3l-2.2 -4.1zM150.5 112.2h4.3l-2.2 -4.1zM150.8 114.2h4.3l-2.2 -4.1zM151.9 115h4.3l-2.2 -4.1zM152.7 115.4h4.3l-2.2 -4.1zM153.4 115.8h4.3l-2.2 -4.1zM154.2 115.8h4.3l-2.2 -4.1z" fill="none" stroke="#1fc3ef" stroke-width=".95"/><path d="M161.6 111.7h4.3l-2.2 4.1zM163.5 111.6h4.3l-2.2 4.1zM166.3 112.2h4.3l-2.2 4.1zM162.4 112h4.3l-2.2 4.1zM167.6 111.5h4.3l-2.2 4.1zM170.3 112.1h4.3l-2.2 4.1zM158.1 112.2h4.3l-2.2 4.1zM161.2 111.7h4.3l-2.2 4.1zM159.4 111.9h4.3l-2.2 4.1z" fill="#62f74f"/><path d="M161.5 112.1h4.3l-2.2 4.1zM164.5 112.1h4.3l-2.2 4.1zM166.4 112h4.3l-2.2 4.1zM169.8 111.5h4.3l-2.2 4.1zM172 111.7h4.3l-2.2 4.1zM175 111.6h4.3l-2.2 4.1zM177.3 111.6h4.3l-2.2 4.1zM178.8 111.4h4.3l-2.2 4.1zM182.4 111.6h4.3l-2.2 4.1z" fill="none" stroke="#1f4fbf" stroke-width=".95"/><path d="M157.4 112.1h3.5v3.5h-3.5zM158.1 111.7h3.5v3.5h-3.5zM159.3 112.2h3.5v3.5h-3.5zM161 112.3h3.5v3.5h-3.5zM161.3 111.9h3.5v3.5h-3.5z" fill="#b4591a"/><path d="M156.4 112.2h3.5v3.5h-3.5zM158.1 111.5h3.5v3.5h-3.5zM159.8 112.2h3.5v3.5h-3.5zM160.8 111.7h3.5v3.5h-3.5zM163.7 112.4h3.5v3.5h-3.5z" fill="none" stroke="#d9731f" stroke-width=".95"/><path d="M154.4 111.5l3.5 3.5m0 -3.5l-3.5 3.5M157.1 111.6l3.5 3.5m0 -3.5l-3.5 3.5M159.4 112.1l3.5 3.5m0 -3.5l-3.5 3.5" fill="none" stroke="#8c8c8c" stroke-width=".95"/></g><g clip-path="url(#a2_3)"><path d="M153.7 150.6l2.2 2.2l-2.2 2.2l-2.2 -2.2z" fill="none" stroke="#8a35d2" stroke-width=".95"/><path d="M152.6 153a1.8 1.8 0 1 0 3.5 0a1.8 1.8 0 1 0 -3.5 0zM154.5 153.1a1.8 1.8 0 1 0 3.5 0a1.8 1.8 0 1 0 -3.5 0zM158 153.1a1.8 1.8 0 1 0 3.5 0a1.8 1.8 0 1 0 -3.5 0z" fill="#1c8a2c"/><path d="M151 151.1l2.2 2.2l-2.2 2.2l-2.2 -2.2zM151 151.1l2.2 2.2l-2.2 2.2l-2.2 -2.2zM151.5 151.1l2.2 2.2l-2.2 2.2l-2.2 -2.2zM151.5 151.1l2.2 2.2l-2.2 2.2l-2.2 -2.2zM151.8 150.7l2.2 2.2l-2.2 2.2l-2.2 -2.2z" fill="#b3a000"/><path d="M150.8 153.2a1.7 1.7 0 1 0 3.3 0a1.7 1.7 0 1 0 -3.3 0zM150.2 153.2a1.7 1.7 0 1 0 3.3 0a1.7 1.7 0 1 0 -3.3 0zM151.2 153.2a1.7 1.7 0 1 0 3.3 0a1.7 1.7 0 1 0 -3.3 0zM151.6 153.2a1.7 1.7 0 1 0 3.3 0a1.7 1.7 0 1 0 -3.3 0zM152.6 153.2a1.7 1.7 0 1 0 3.3 0a1.7 1.7 0 1 0 -3.3 0zM152.2 153.2a1.7 1.7 0 1 0 3.3 0a1.7 1.7 0 1 0 -3.3 0z" fill="none" stroke="#e5334b" stroke-width=".95"/><path d="M152.4 151.1l2.2 2.2l-2.2 2.2l-2.2 -2.2zM152.9 151.1l2.2 2.2l-2.2 2.2l-2.2 -2.2zM153.3 151.1l2.2 2.2l-2.2 2.2l-2.2 -2.2z" fill="#cc1638"/><path d="M150.9 155.1h4.3l-2.2 -4.1zM154.9 155.5h4.3l-2.2 -4.1z" fill="#ff78c8"/><path d="M150.4 155.3h4.3l-2.2 -4.1zM152.1 155.3h4.3l-2.2 -4.1zM153.3 155.3h4.3l-2.2 -4.1zM155.5 155.3h4.3l-2.2 -4.1zM152 155.3h4.3l-2.2 -4.1zM153 155.3h4.3l-2.2 -4.1z" fill="#ff78c8"/><path d="M148.1 122.5h4.3l-2.2 -4.1zM148.3 124.5h4.3l-2.2 -4.1zM148.6 128.4h4.3l-2.2 -4.1zM149 132.4h4.3l-2.2 -4.1zM149.6 135.5h4.3l-2.2 -4.1zM149.9 138.3h4.3l-2.2 -4.1zM150.5 141.4h4.3l-2.2 -4.1zM150.8 144.2h4.3l-2.2 -4.1zM151.9 147.4h4.3l-2.2 -4.1zM152.7 150.1h4.3l-2.2 -4.1zM153.4 154.1h4.3l-2.2 -4.1zM154.2 154.5h4.3l-2.2 -4.1z" fill="none" stroke="#1fc3ef" stroke-width=".95"/><path d="M161.6 151.3h4.3l-2.2 4.1zM163.5 151.1h4.3l-2.2 4.1zM166.3 151.3h4.3l-2.2 4.1zM162.4 151.3h4.3l-2.2 4.1zM167.6 150.9h4.3l-2.2 4.1zM170.3 151.5h4.3l-2.2 4.1zM158.1 151.3h4.3l-2.2 4.1zM161.2 151.1h4.3l-2.2 4.1zM159.4 151.3h4.3l-2.2 4.1z" fill="#62f74f"/><path d="M161.5 151.1h4.3l-2.2 4.1zM164.5 151.3h4.3l-2.2 4.1zM166.4 151.1h4.3l-2.2 4.1zM169.8 151.4h4.3l-2.2 4.1zM172 151.1h4.3l-2.2 4.1zM175 151.3h4.3l-2.2 4.1zM177.3 151.4h4.3l-2.2 4.1zM178.8 151.5h4.3l-2.2 4.1zM182.4 151h4.3l-2.2 4.1z" fill="none" stroke="#1f4fbf" stroke-width=".95"/><path d="M157.4 151.6h3.5v3.5h-3.5zM158.1 151.2h3.5v3.5h-3.5zM159.3 151.7h3.5v3.5h-3.5zM161 151.1h3.5v3.5h-3.5zM161.3 151.6h3.5v3.5h-3.5z" fill="#b4591a"/><path d="M156.4 151.7h3.5v3.5h-3.5zM158.1 151.4h3.5v3.5h-3.5zM159.8 151.4h3.5v3.5h-3.5zM160.8 151.6h3.5v3.5h-3.5zM163.7 151.8h3.5v3.5h-3.5z" fill="none" stroke="#d9731f" stroke-width=".95"/><path d="M154.4 151.6l3.5 3.5m0 -3.5l-3.5 3.5M157.1 151.6l3.5 3.5m0 -3.5l-3.5 3.5M159.4 151.3l3.5 3.5m0 -3.5l-3.5 3.5" fill="none" stroke="#8c8c8c" stroke-width=".95"/></g><g clip-path="url(#a2_4)"><path d="M153.7 179.8l2.2 2.2l-2.2 2.2l-2.2 -2.2z" fill="none" stroke="#8a35d2" stroke-width=".95"/><path d="M152.6 186.7a1.8 1.8 0 1 0 3.5 0a1.8 1.8 0 1 0 -3.5 0zM154.5 188.1a1.8 1.8 0 1 0 3.5 0a1.8 1.8 0 1 0 -3.5 0zM158 190a1.8 1.8 0 1 0 3.5 0a1.8 1.8 0 1 0 -3.5 0z" fill="#1c8a2c"/><path d="M151 174.8l2.2 2.2l-2.2 2.2l-2.2 -2.2zM151 183.8l2.2 2.2l-2.2 2.2l-2.2 -2.2zM151.5 184.6l2.2 2.2l-2.2 2.2l-2.2 -2.2zM151.5 185.4l2.2 2.2l-2.2 2.2l-2.2 -2.2zM151.8 186.6l2.2 2.2l-2.2 2.2l-2.2 -2.2z" fill="#b3a000"/><path d="M150.8 186.4a1.7 1.7 0 1 0 3.3 0a1.7 1.7 0 1 0 -3.3 0zM150.2 187.6a1.7 1.7 0 1 0 3.3 0a1.7 1.7 0 1 0 -3.3 0zM151.2 188.8a1.7 1.7 0 1 0 3.3 0a1.7 1.7 0 1 0 -3.3 0zM151.6 189.2a1.7 1.7 0 1 0 3.3 0a1.7 1.7 0 1 0 -3.3 0zM152.6 189.9a1.7 1.7 0 1 0 3.3 0a1.7 1.7 0 1 0 -3.3 0zM152.2 190.3a1.7 1.7 0 1 0 3.3 0a1.7 1.7 0 1 0 -3.3 0z" fill="none" stroke="#e5334b" stroke-width=".95"/><path d="M152.4 185.8l2.2 2.2l-2.2 2.2l-2.2 -2.2zM152.9 186.6l2.2 2.2l-2.2 2.2l-2.2 -2.2zM153.3 187.4l2.2 2.2l-2.2 2.2l-2.2 -2.2z" fill="#cc1638"/><path d="M150.9 189.5h4.3l-2.2 -4.1zM154.9 191.6h4.3l-2.2 -4.1z" fill="#ff78c8"/><path d="M150.4 191.6h4.3l-2.2 -4.1zM152.1 192h4.3l-2.2 -4.1zM153.3 192.3h4.3l-2.2 -4.1zM155.5 192.3h4.3l-2.2 -4.1zM152 191.2h4.3l-2.2 -4.1zM153 192.3h4.3l-2.2 -4.1z" fill="#ff78c8"/><path d="M148.1 162.4h4.3l-2.2 -4.1zM148.3 173.4h4.3l-2.2 -4.1zM148.6 174.2h4.3l-2.2 -4.1zM149 182.1h4.3l-2.2 -4.1zM149.6 182.9h4.3l-2.2 -4.1zM149.9 184.5h4.3l-2.2 -4.1zM150.5 185.6h4.3l-2.2 -4.1zM150.8 187.2h4.3l-2.2 -4.1zM151.9 189.2h4.3l-2.2 -4.1zM152.7 190.8h4.3l-2.2 -4.1zM153.4 191.6h4.3l-2.2 -4.1zM154.2 192.3h4.3l-2.2 -4.1z" fill="none" stroke="#1fc3ef" stroke-width=".95"/><path d="M161.6 189.2h4.3l-2.2 4.1zM163.5 189.1h4.3l-2.2 4.1zM166.3 189.8h4.3l-2.2 4.1zM162.4 189.2h4.3l-2.2 4.1zM167.6 189.7h4.3l-2.2 4.1zM170.3 189.7h4.3l-2.2 4.1zM158.1 189.6h4.3l-2.2 4.1zM161.2 189.9h4.3l-2.2 4.1zM159.4 189.8h4.3l-2.2 4.1z" fill="#62f74f"/><path d="M161.5 189.8h4.3l-2.2 4.1zM164.5 189.9h4.3l-2.2 4.1zM166.4 189.2h4.3l-2.2 4.1zM169.8 189.8h4.3l-2.2 4.1zM172 189.6h4.3l-2.2 4.1zM175 189.7h4.3l-2.2 4.1zM177.3 189.5h4.3l-2.2 4.1zM178.8 189.6h4.3l-2.2 4.1zM182.4 189.5h4.3l-2.2 4.1z" fill="none" stroke="#1f4fbf" stroke-width=".95"/><path d="M157.4 187.9h3.5v3.5h-3.5zM158.1 188.1h3.5v3.5h-3.5zM159.3 188.9h3.5v3.5h-3.5zM161 188.7h3.5v3.5h-3.5zM161.3 189.1h3.5v3.5h-3.5z" fill="#b4591a"/><path d="M156.4 187.8h3.5v3.5h-3.5zM158.1 188.2h3.5v3.5h-3.5zM159.8 189.2h3.5v3.5h-3.5zM160.8 189.1h3.5v3.5h-3.5zM163.7 189.4h3.5v3.5h-3.5z" fill="none" stroke="#d9731f" stroke-width=".95"/><path d="M154.4 185.8l3.5 3.5m0 -3.5l-3.5 3.5M157.1 187.4l3.5 3.5m0 -3.5l-3.5 3.5M159.4 188.4l3.5 3.5m0 -3.5l-3.5 3.5" fill="none" stroke="#8c8c8c" stroke-width=".95"/></g><g clip-path="url(#a2_5)"><path d="M153.7 218.9l2.2 2.2l-2.2 2.2l-2.2 -2.2z" fill="none" stroke="#8a35d2" stroke-width=".95"/><path d="M152.6 225.4a1.8 1.8 0 1 0 3.5 0a1.8 1.8 0 1 0 -3.5 0zM154.5 227.7a1.8 1.8 0 1 0 3.5 0a1.8 1.8 0 1 0 -3.5 0zM158 229.1a1.8 1.8 0 1 0 3.5 0a1.8 1.8 0 1 0 -3.5 0z" fill="#1c8a2c"/><path d="M151 216.2l2.2 2.2l-2.2 2.2l-2.2 -2.2zM151 222.1l2.2 2.2l-2.2 2.2l-2.2 -2.2zM151.5 222.9l2.2 2.2l-2.2 2.2l-2.2 -2.2zM151.5 223.7l2.2 2.2l-2.2 2.2l-2.2 -2.2zM151.8 224.5l2.2 2.2l-2.2 2.2l-2.2 -2.2z" fill="#b3a000"/><path d="M150.8 225.5a1.7 1.7 0 1 0 3.3 0a1.7 1.7 0 1 0 -3.3 0zM150.2 226.6a1.7 1.7 0 1 0 3.3 0a1.7 1.7 0 1 0 -3.3 0zM151.2 227.4a1.7 1.7 0 1 0 3.3 0a1.7 1.7 0 1 0 -3.3 0zM151.6 228.2a1.7 1.7 0 1 0 3.3 0a1.7 1.7 0 1 0 -3.3 0zM152.6 228.6a1.7 1.7 0 1 0 3.3 0a1.7 1.7 0 1 0 -3.3 0zM152.2 229a1.7 1.7 0 1 0 3.3 0a1.7 1.7 0 1 0 -3.3 0z" fill="none" stroke="#e5334b" stroke-width=".95"/><path d="M152.4 224.5l2.2 2.2l-2.2 2.2l-2.2 -2.2zM152.9 225.3l2.2 2.2l-2.2 2.2l-2.2 -2.2zM153.3 226.1l2.2 2.2l-2.2 2.2l-2.2 -2.2z" fill="#cc1638"/><path d="M150.9 228.6h4.3l-2.2 -4.1zM154.9 230.9h4.3l-2.2 -4.1z" fill="#ff78c8"/><path d="M150.4 231h4.3l-2.2 -4.1zM152.1 231.4h4.3l-2.2 -4.1zM153.3 231.8h4.3l-2.2 -4.1zM155.5 231.8h4.3l-2.2 -4.1zM152 230.6h4.3l-2.2 -4.1zM153 231.8h4.3l-2.2 -4.1z" fill="#ff78c8"/><path d="M148.1 202.2h4.3l-2.2 -4.1zM148.3 211.3h4.3l-2.2 -4.1zM148.6 212.1h4.3l-2.2 -4.1zM149 219.2h4.3l-2.2 -4.1zM149.6 220.4h4.3l-2.2 -4.1zM149.9 222.3h4.3l-2.2 -4.1zM150.5 224.3h4.3l-2.2 -4.1zM150.8 225.9h4.3l-2.2 -4.1zM151.9 227.5h4.3l-2.2 -4.1zM152.7 229h4.3l-2.2 -4.1zM153.4 230.2h4.3l-2.2 -4.1zM154.2 231h4.3l-2.2 -4.1z" fill="none" stroke="#1fc3ef" stroke-width=".95"/><path d="M161.6 228.2h4.3l-2.2 4.1zM163.5 228.3h4.3l-2.2 4.1zM166.3 228.9h4.3l-2.2 4.1zM162.4 228.9h4.3l-2.2 4.1zM167.6 228.6h4.3l-2.2 4.1zM170.3 228.8h4.3l-2.2 4.1zM158.1 228.5h4.3l-2.2 4.1zM161.2 228.3h4.3l-2.2 4.1zM159.4 228.5h4.3l-2.2 4.1z" fill="#62f74f"/><path d="M161.5 228.5h4.3l-2.2 4.1zM164.5 228.9h4.3l-2.2 4.1zM166.4 228.5h4.3l-2.2 4.1zM169.8 228.9h4.3l-2.2 4.1zM172 228.5h4.3l-2.2 4.1zM175 228.5h4.3l-2.2 4.1zM177.3 228.6h4.3l-2.2 4.1zM178.8 228.4h4.3l-2.2 4.1zM182.4 228.3h4.3l-2.2 4.1z" fill="none" stroke="#1f4fbf" stroke-width=".95"/><path d="M157.4 226.7h3.5v3.5h-3.5zM158.1 227.4h3.5v3.5h-3.5zM159.3 227.3h3.5v3.5h-3.5zM161 227.9h3.5v3.5h-3.5zM161.3 228.4h3.5v3.5h-3.5z" fill="#b4591a"/><path d="M156.4 227.1h3.5v3.5h-3.5zM158.1 227.6h3.5v3.5h-3.5zM159.8 227.8h3.5v3.5h-3.5zM160.8 227.7h3.5v3.5h-3.5zM163.7 228.5h3.5v3.5h-3.5z" fill="none" stroke="#d9731f" stroke-width=".95"/><path d="M154.4 224.9l3.5 3.5m0 -3.5l-3.5 3.5M157.1 226.4l3.5 3.5m0 -3.5l-3.5 3.5M159.4 227.8l3.5 3.5m0 -3.5l-3.5 3.5" fill="none" stroke="#8c8c8c" stroke-width=".95"/></g><g clip-path="url(#a2_6)"><path d="M153.7 259.1l2.2 2.2l-2.2 2.2l-2.2 -2.2z" fill="none" stroke="#8a35d2" stroke-width=".95"/><path d="M152.6 265a1.8 1.8 0 1 0 3.5 0a1.8 1.8 0 1 0 -3.5 0zM154.5 266.6a1.8 1.8 0 1 0 3.5 0a1.8 1.8 0 1 0 -3.5 0zM158 268.1a1.8 1.8 0 1 0 3.5 0a1.8 1.8 0 1 0 -3.5 0z" fill="#1c8a2c"/><path d="M151 256.1l2.2 2.2l-2.2 2.2l-2.2 -2.2zM151 257.2l2.2 2.2l-2.2 2.2l-2.2 -2.2zM151.5 258.4l2.2 2.2l-2.2 2.2l-2.2 -2.2zM151.5 259.6l2.2 2.2l-2.2 2.2l-2.2 -2.2zM151.8 261.6l2.2 2.2l-2.2 2.2l-2.2 -2.2z" fill="#b3a000"/><path d="M150.8 263.3a1.7 1.7 0 1 0 3.3 0a1.7 1.7 0 1 0 -3.3 0zM150.2 264.5a1.7 1.7 0 1 0 3.3 0a1.7 1.7 0 1 0 -3.3 0zM151.2 265.3a1.7 1.7 0 1 0 3.3 0a1.7 1.7 0 1 0 -3.3 0zM151.6 266.1a1.7 1.7 0 1 0 3.3 0a1.7 1.7 0 1 0 -3.3 0zM152.6 266.9a1.7 1.7 0 1 0 3.3 0a1.7 1.7 0 1 0 -3.3 0zM152.2 267.7a1.7 1.7 0 1 0 3.3 0a1.7 1.7 0 1 0 -3.3 0z" fill="none" stroke="#e5334b" stroke-width=".95"/><path d="M152.4 262.4l2.2 2.2l-2.2 2.2l-2.2 -2.2zM152.9 263.5l2.2 2.2l-2.2 2.2l-2.2 -2.2zM153.3 263.9l2.2 2.2l-2.2 2.2l-2.2 -2.2z" fill="#cc1638"/><path d="M150.9 268.4h4.3l-2.2 -4.1zM154.9 269.9h4.3l-2.2 -4.1z" fill="#ff78c8"/><path d="M150.4 268.9h4.3l-2.2 -4.1zM152.1 269.7h4.3l-2.2 -4.1zM153.3 270.1h4.3l-2.2 -4.1zM155.5 270.5h4.3l-2.2 -4.1zM152 268.1h4.3l-2.2 -4.1zM153 270.5h4.3l-2.2 -4.1z" fill="#ff78c8"/><path d="M148.1 243.2h4.3l-2.2 -4.1zM148.3 251.1h4.3l-2.2 -4.1zM148.6 252.7h4.3l-2.2 -4.1zM149 254.7h4.3l-2.2 -4.1zM149.6 264.2h4.3l-2.2 -4.1zM149.9 265.7h4.3l-2.2 -4.1zM150.5 267.3h4.3l-2.2 -4.1zM150.8 268.1h4.3l-2.2 -4.1zM151.9 269.3h4.3l-2.2 -4.1zM152.7 270.1h4.3l-2.2 -4.1zM153.4 270.9h4.3l-2.2 -4.1zM154.2 271.3h4.3l-2.2 -4.1z" fill="none" stroke="#1fc3ef" stroke-width=".95"/><path d="M161.6 267.7h4.3l-2.2 4.1zM163.5 267.8h4.3l-2.2 4.1zM166.3 268h4.3l-2.2 4.1zM162.4 267.7h4.3l-2.2 4.1zM167.6 267.8h4.3l-2.2 4.1zM170.3 267.7h4.3l-2.2 4.1zM158.1 267.3h4.3l-2.2 4.1zM161.2 267.4h4.3l-2.2 4.1zM159.4 268h4.3l-2.2 4.1z" fill="#62f74f"/><path d="M161.5 267.7h4.3l-2.2 4.1zM164.5 267.7h4.3l-2.2 4.1zM166.4 267.7h4.3l-2.2 4.1zM169.8 267.8h4.3l-2.2 4.1zM172 268h4.3l-2.2 4.1zM175 267.7h4.3l-2.2 4.1zM177.3 267.3h4.3l-2.2 4.1zM178.8 267.9h4.3l-2.2 4.1zM182.4 267.8h4.3l-2.2 4.1z" fill="none" stroke="#1f4fbf" stroke-width=".95"/><path d="M157.4 265.6h3.5v3.5h-3.5zM158.1 266.1h3.5v3.5h-3.5zM159.3 266.5h3.5v3.5h-3.5zM161 266.7h3.5v3.5h-3.5zM161.3 266.9h3.5v3.5h-3.5z" fill="#b4591a"/><path d="M156.4 265.7h3.5v3.5h-3.5zM158.1 266.8h3.5v3.5h-3.5zM159.8 266.6h3.5v3.5h-3.5zM160.8 266.7h3.5v3.5h-3.5zM163.7 267.2h3.5v3.5h-3.5z" fill="none" stroke="#d9731f" stroke-width=".95"/><path d="M154.4 264.6l3.5 3.5m0 -3.5l-3.5 3.5M157.1 265.8l3.5 3.5m0 -3.5l-3.5 3.5M159.4 266.2l3.5 3.5m0 -3.5l-3.5 3.5" fill="none" stroke="#8c8c8c" stroke-width=".95"/></g><g clip-path="url(#a2_7)"><path d="M153.7 298.6l2.2 2.2l-2.2 2.2l-2.2 -2.2z" fill="none" stroke="#8a35d2" stroke-width=".95"/><path d="M152.6 304.6a1.8 1.8 0 1 0 3.5 0a1.8 1.8 0 1 0 -3.5 0zM154.5 306.3a1.8 1.8 0 1 0 3.5 0a1.8 1.8 0 1 0 -3.5 0zM158 307.8a1.8 1.8 0 1 0 3.5 0a1.8 1.8 0 1 0 -3.5 0z" fill="#1c8a2c"/><path d="M151 297.1l2.2 2.2l-2.2 2.2l-2.2 -2.2zM151 297.9l2.2 2.2l-2.2 2.2l-2.2 -2.2zM151.5 298.7l2.2 2.2l-2.2 2.2l-2.2 -2.2zM151.5 299.5l2.2 2.2l-2.2 2.2l-2.2 -2.2zM151.8 301.4l2.2 2.2l-2.2 2.2l-2.2 -2.2z" fill="#b3a000"/><path d="M150.8 304a1.7 1.7 0 1 0 3.3 0a1.7 1.7 0 1 0 -3.3 0zM150.2 304.8a1.7 1.7 0 1 0 3.3 0a1.7 1.7 0 1 0 -3.3 0zM151.2 305.2a1.7 1.7 0 1 0 3.3 0a1.7 1.7 0 1 0 -3.3 0zM151.6 306a1.7 1.7 0 1 0 3.3 0a1.7 1.7 0 1 0 -3.3 0zM152.6 306.3a1.7 1.7 0 1 0 3.3 0a1.7 1.7 0 1 0 -3.3 0zM152.2 306.7a1.7 1.7 0 1 0 3.3 0a1.7 1.7 0 1 0 -3.3 0z" fill="none" stroke="#e5334b" stroke-width=".95"/><path d="M152.4 302.6l2.2 2.2l-2.2 2.2l-2.2 -2.2zM152.9 303.4l2.2 2.2l-2.2 2.2l-2.2 -2.2zM153.3 303.8l2.2 2.2l-2.2 2.2l-2.2 -2.2z" fill="#cc1638"/><path d="M150.9 307.9h4.3l-2.2 -4.1zM154.9 310h4.3l-2.2 -4.1z" fill="#ff78c8"/><path d="M150.4 309.1h4.3l-2.2 -4.1zM152.1 309.5h4.3l-2.2 -4.1zM153.3 309.9h4.3l-2.2 -4.1zM155.5 310.3h4.3l-2.2 -4.1zM152 308.4h4.3l-2.2 -4.1zM153 310.3h4.3l-2.2 -4.1z" fill="#ff78c8"/><path d="M148.1 282.3h4.3l-2.2 -4.1zM148.3 292.2h4.3l-2.2 -4.1zM148.6 294.2h4.3l-2.2 -4.1zM149 296.1h4.3l-2.2 -4.1zM149.6 300.5h4.3l-2.2 -4.1zM149.9 301.7h4.3l-2.2 -4.1zM150.5 303.2h4.3l-2.2 -4.1zM150.8 304.4h4.3l-2.2 -4.1zM151.9 306h4.3l-2.2 -4.1zM152.7 307.6h4.3l-2.2 -4.1zM153.4 308.8h4.3l-2.2 -4.1zM154.2 309.5h4.3l-2.2 -4.1z" fill="none" stroke="#1fc3ef" stroke-width=".95"/><path d="M161.6 307h4.3l-2.2 4.1zM163.5 307.2h4.3l-2.2 4.1zM166.3 306.9h4.3l-2.2 4.1zM162.4 307.1h4.3l-2.2 4.1zM167.6 306.8h4.3l-2.2 4.1zM170.3 307h4.3l-2.2 4.1zM158.1 307h4.3l-2.2 4.1zM161.2 306.8h4.3l-2.2 4.1zM159.4 307.4h4.3l-2.2 4.1z" fill="#62f74f"/><path d="M161.5 307.5h4.3l-2.2 4.1zM164.5 306.8h4.3l-2.2 4.1zM166.4 306.7h4.3l-2.2 4.1zM169.8 306.9h4.3l-2.2 4.1zM172 307.5h4.3l-2.2 4.1zM175 307.3h4.3l-2.2 4.1zM177.3 306.9h4.3l-2.2 4.1zM178.8 307.1h4.3l-2.2 4.1zM182.4 306.9h4.3l-2.2 4.1z" fill="none" stroke="#1f4fbf" stroke-width=".95"/><path d="M157.4 305.2h3.5v3.5h-3.5zM158.1 305.9h3.5v3.5h-3.5zM159.3 306.5h3.5v3.5h-3.5zM161 306.6h3.5v3.5h-3.5zM161.3 306.8h3.5v3.5h-3.5z" fill="#b4591a"/><path d="M156.4 305.3h3.5v3.5h-3.5zM158.1 306h3.5v3.5h-3.5zM159.8 306.1h3.5v3.5h-3.5zM160.8 306.3h3.5v3.5h-3.5zM163.7 306.5h3.5v3.5h-3.5z" fill="none" stroke="#d9731f" stroke-width=".95"/><path d="M154.4 303.5l3.5 3.5m0 -3.5l-3.5 3.5M157.1 305.3l3.5 3.5m0 -3.5l-3.5 3.5M159.4 305.8l3.5 3.5m0 -3.5l-3.5 3.5" fill="none" stroke="#8c8c8c" stroke-width=".95"/></g><g clip-path="url(#a2_8)"><path d="M153.7 348.1l2.2 2.2l-2.2 2.2l-2.2 -2.2z" fill="none" stroke="#8a35d2" stroke-width=".95"/><path d="M148.1 354.1h4.3l-2.2 -4.1zM148.3 352.6h4.3l-2.2 -4.1zM148.6 350.6h4.3l-2.2 -4.1zM149 347.8h4.3l-2.2 -4.1zM149.6 345.5h4.3l-2.2 -4.1zM149.9 332.8h4.3l-2.2 -4.1zM150.5 343.1h4.3l-2.2 -4.1zM150.8 355.3h4.3l-2.2 -4.1zM151.9 331.2h4.3l-2.2 -4.1zM152.7 333.6h4.3l-2.2 -4.1zM153.4 331.6h4.3l-2.2 -4.1zM154.2 335.6h4.3l-2.2 -4.1z" fill="none" stroke="#1fc3ef" stroke-width=".95"/><path d="M151 340.1l2.2 2.2l-2.2 2.2l-2.2 -2.2zM151 342.1l2.2 2.2l-2.2 2.2l-2.2 -2.2zM151.5 341.3l2.2 2.2l-2.2 2.2l-2.2 -2.2zM151.5 350l2.2 2.2l-2.2 2.2l-2.2 -2.2zM151.8 343.3l2.2 2.2l-2.2 2.2l-2.2 -2.2z" fill="#b3a000"/><path d="M150.8 342.3a1.7 1.7 0 1 0 3.3 0a1.7 1.7 0 1 0 -3.3 0zM150.2 344.6a1.7 1.7 0 1 0 3.3 0a1.7 1.7 0 1 0 -3.3 0zM151.2 346.6a1.7 1.7 0 1 0 3.3 0a1.7 1.7 0 1 0 -3.3 0zM151.6 348.6a1.7 1.7 0 1 0 3.3 0a1.7 1.7 0 1 0 -3.3 0zM152.6 350.5a1.7 1.7 0 1 0 3.3 0a1.7 1.7 0 1 0 -3.3 0zM152.2 351.7a1.7 1.7 0 1 0 3.3 0a1.7 1.7 0 1 0 -3.3 0z" fill="none" stroke="#e5334b" stroke-width=".95"/><path d="M152.4 345.2l2.2 2.2l-2.2 2.2l-2.2 -2.2zM152.9 346.8l2.2 2.2l-2.2 2.2l-2.2 -2.2zM153.3 343.7l2.2 2.2l-2.2 2.2l-2.2 -2.2z" fill="#cc1638"/><path d="M150.9 338h4.3l-2.2 -4.1zM154.9 338.4h4.3l-2.2 -4.1z" fill="#ff78c8"/><path d="M150.4 337.6h4.3l-2.2 -4.1zM152.1 339.9h4.3l-2.2 -4.1zM153.3 341.5h4.3l-2.2 -4.1zM155.5 342.3h4.3l-2.2 -4.1zM152 339.1h4.3l-2.2 -4.1zM153 338.3h4.3l-2.2 -4.1z" fill="#ff78c8"/><path d="M161.6 335.5h4.3l-2.2 4.1zM163.5 336.7h4.3l-2.2 4.1zM166.3 337.5h4.3l-2.2 4.1zM162.4 335.9h4.3l-2.2 4.1zM167.6 337.9h4.3l-2.2 4.1zM170.3 338.3h4.3l-2.2 4.1zM158.1 329.6h4.3l-2.2 4.1zM161.2 335.5h4.3l-2.2 4.1zM159.4 328.8h4.3l-2.2 4.1z" fill="#62f74f"/><path d="M161.5 333.5h4.3l-2.2 4.1zM164.5 316.2h4.3l-2.2 4.1zM166.4 331.2h4.3l-2.2 4.1zM169.8 322.1h4.3l-2.2 4.1zM172 329.6h4.3l-2.2 4.1zM175 332.8h4.3l-2.2 4.1zM177.3 330.4h4.3l-2.2 4.1zM178.8 332.4h4.3l-2.2 4.1zM182.4 331.6h4.3l-2.2 4.1z" fill="none" stroke="#1f4fbf" stroke-width=".95"/><path d="M157.4 330.7h3.5v3.5h-3.5zM158.1 329.2h3.5v3.5h-3.5zM159.3 329.1h3.5v3.5h-3.5zM161 328.9h3.5v3.5h-3.5zM161.3 330.8h3.5v3.5h-3.5z" fill="#b4591a"/><path d="M156.4 332.8h3.5v3.5h-3.5zM158.1 332.1h3.5v3.5h-3.5zM159.8 329.4h3.5v3.5h-3.5zM160.8 328.7h3.5v3.5h-3.5zM163.7 331h3.5v3.5h-3.5z" fill="none" stroke="#d9731f" stroke-width=".95"/><path d="M152.6 329.2a1.8 1.8 0 1 0 3.5 0a1.8 1.8 0 1 0 -3.5 0zM154.5 331.3a1.8 1.8 0 1 0 3.5 0a1.8 1.8 0 1 0 -3.5 0zM158 330.3a1.8 1.8 0 1 0 3.5 0a1.8 1.8 0 1 0 -3.5 0z" fill="#1c8a2c"/><path d="M154.4 331.5l3.5 3.5m0 -3.5l-3.5 3.5M157.1 334.1l3.5 3.5m0 -3.5l-3.5 3.5M159.4 331.5l3.5 3.5m0 -3.5l-3.5 3.5" fill="none" stroke="#8c8c8c" stroke-width=".95"/></g><g clip-path="url(#a3_0)"><path d="M226.8 29.1l2.2 2.2l-2.2 2.2l-2.2 -2.2z" fill="none" stroke="#8a35d2" stroke-width=".95"/><path d="M211.3 32a1.8 1.8 0 1 0 3.5 0a1.8 1.8 0 1 0 -3.5 0zM205.7 32.6a1.8 1.8 0 1 0 3.5 0a1.8 1.8 0 1 0 -3.5 0zM206.1 32.8a1.8 1.8 0 1 0 3.5 0a1.8 1.8 0 1 0 -3.5 0z" fill="#1c8a2c"/><path d="M210.6 -.4l2.2 2.2l-2.2 2.2l-2.2 -2.2zM210.2 .7l2.2 2.2l-2.2 2.2l-2.2 -2.2zM211 1.9l2.2 2.2l-2.2 2.2l-2.2 -2.2zM211.4 3.1l2.2 2.2l-2.2 2.2l-2.2 -2.2zM209.8 19.7l2.2 2.2l-2.2 2.2l-2.2 -2.2z" fill="#b3a000"/><path d="M224.4 14.3a1.7 1.7 0 1 0 3.3 0a1.7 1.7 0 1 0 -3.3 0zM221.5 27.4a1.7 1.7 0 1 0 3.3 0a1.7 1.7 0 1 0 -3.3 0zM223.2 29.3a1.7 1.7 0 1 0 3.3 0a1.7 1.7 0 1 0 -3.3 0zM220.7 30.9a1.7 1.7 0 1 0 3.3 0a1.7 1.7 0 1 0 -3.3 0zM222.4 32.5a1.7 1.7 0 1 0 3.3 0a1.7 1.7 0 1 0 -3.3 0zM224 33.7a1.7 1.7 0 1 0 3.3 0a1.7 1.7 0 1 0 -3.3 0z" fill="none" stroke="#e5334b" stroke-width=".95"/><path d="M224 29.6l2.2 2.2l-2.2 2.2l-2.2 -2.2zM225.2 30.7l2.2 2.2l-2.2 2.2l-2.2 -2.2zM222.8 31.9l2.2 2.2l-2.2 2.2l-2.2 -2.2z" fill="#cc1638"/><path d="M193.3 34.4h4.3l-2.2 -4.1zM200.3 35.3h4.3l-2.2 -4.1z" fill="#ff78c8"/><path d="M189.8 31.3h4.3l-2.2 -4.1zM195.1 31.7h4.3l-2.2 -4.1zM191.8 32.1h4.3l-2.2 -4.1zM203.2 30.6h4.3l-2.2 -4.1zM205.2 28.6h4.3l-2.2 -4.1zM196.7 32.9h4.3l-2.2 -4.1z" fill="#ff78c8"/><path d="M213.7 18.3h4.3l-2.2 -4.1zM212.1 21.9h4.3l-2.2 -4.1zM215.4 23.5h4.3l-2.2 -4.1zM212.9 25h4.3l-2.2 -4.1zM217 26.6h4.3l-2.2 -4.1zM214.6 27.8h4.3l-2.2 -4.1zM216.2 29.4h4.3l-2.2 -4.1zM213.7 30.6h4.3l-2.2 -4.1zM217.8 31.3h4.3l-2.2 -4.1zM215.4 32.5h4.3l-2.2 -4.1zM212.5 33.3h4.3l-2.2 -4.1zM211.3 34.1h4.3l-2.2 -4.1z" fill="none" stroke="#1fc3ef" stroke-width=".95"/><path d="M190.2 31.2h4.3l-2.2 4.1zM191 31.6h4.3l-2.2 4.1zM189.8 31.1h4.3l-2.2 4.1zM192.2 31.6h4.3l-2.2 4.1zM191 31h4.3l-2.2 4.1zM188.6 30.9h4.3l-2.2 4.1zM191.4 31.5h4.3l-2.2 4.1zM197.1 31.3h4.3l-2.2 4.1zM211.3 31h4.3l-2.2 4.1z" fill="#62f74f"/><path d="M199.1 31.4h4.3l-2.2 4.1zM202.4 31.3h4.3l-2.2 4.1zM200.3 31.6h4.3l-2.2 4.1zM201.6 31.6h4.3l-2.2 4.1zM201.2 31.5h4.3l-2.2 4.1zM203.2 31.5h4.3l-2.2 4.1zM200.7 31h4.3l-2.2 4.1zM198.7 31.4h4.3l-2.2 4.1zM202 31.6h4.3l-2.2 4.1z" fill="none" stroke="#1f4fbf" stroke-width=".95"/><path d="M214.8 31.2h3.5v3.5h-3.5zM212.8 31.1h3.5v3.5h-3.5zM208.6 30.9h3.5v3.5h-3.5zM211.3 31.3h3.5v3.5h-3.5zM206.6 31.6h3.5v3.5h-3.5z" fill="#b4591a"/><path d="M205.7 31.5h3.5v3.5h-3.5zM208.1 31.5h3.5v3.5h-3.5zM205.7 31h3.5v3.5h-3.5zM208.3 31.1h3.5v3.5h-3.5zM213.2 31.4h3.5v3.5h-3.5z" fill="none" stroke="#d9731f" stroke-width=".95"/><path d="M215.5 30.7l3.5 3.5m0 -3.5l-3.5 3.5M219.5 31.1l3.5 3.5m0 -3.5l-3.5 3.5M214.2 31.3l3.5 3.5m0 -3.5l-3.5 3.5" fill="none" stroke="#8c8c8c" stroke-width=".95"/></g><g clip-path="url(#a3_1)"><path d="M226.8 71.8l2.2 2.2l-2.2 2.2l-2.2 -2.2z" fill="none" stroke="#8a35d2" stroke-width=".95"/><path d="M211.3 74.6a1.8 1.8 0 1 0 3.5 0a1.8 1.8 0 1 0 -3.5 0zM205.7 73.7a1.8 1.8 0 1 0 3.5 0a1.8 1.8 0 1 0 -3.5 0zM206.1 72a1.8 1.8 0 1 0 3.5 0a1.8 1.8 0 1 0 -3.5 0z" fill="#1c8a2c"/><path d="M210.6 73l2.2 2.2l-2.2 2.2l-2.2 -2.2zM210.2 73l2.2 2.2l-2.2 2.2l-2.2 -2.2zM211 73l2.2 2.2l-2.2 2.2l-2.2 -2.2zM211.4 73l2.2 2.2l-2.2 2.2l-2.2 -2.2zM209.8 72.6l2.2 2.2l-2.2 2.2l-2.2 -2.2z" fill="#b3a000"/><path d="M224.4 74.3a1.7 1.7 0 1 0 3.3 0a1.7 1.7 0 1 0 -3.3 0zM221.5 74.3a1.7 1.7 0 1 0 3.3 0a1.7 1.7 0 1 0 -3.3 0zM223.2 74.3a1.7 1.7 0 1 0 3.3 0a1.7 1.7 0 1 0 -3.3 0zM220.7 74.3a1.7 1.7 0 1 0 3.3 0a1.7 1.7 0 1 0 -3.3 0zM222.4 74.3a1.7 1.7 0 1 0 3.3 0a1.7 1.7 0 1 0 -3.3 0zM224 74.3a1.7 1.7 0 1 0 3.3 0a1.7 1.7 0 1 0 -3.3 0z" fill="none" stroke="#e5334b" stroke-width=".95"/><path d="M224 72.2l2.2 2.2l-2.2 2.2l-2.2 -2.2zM225.2 72.2l2.2 2.2l-2.2 2.2l-2.2 -2.2zM222.8 72.2l2.2 2.2l-2.2 2.2l-2.2 -2.2z" fill="#cc1638"/><path d="M193.3 77h4.3l-2.2 -4.1zM200.3 75.7h4.3l-2.2 -4.1z" fill="#ff78c8"/><path d="M189.8 76.3h4.3l-2.2 -4.1zM195.1 76.3h4.3l-2.2 -4.1zM191.8 76.3h4.3l-2.2 -4.1zM203.2 76.3h4.3l-2.2 -4.1zM205.2 76.3h4.3l-2.2 -4.1zM196.7 76.7h4.3l-2.2 -4.1z" fill="#ff78c8"/><path d="M213.7 77.5h4.3l-2.2 -4.1zM212.1 77.5h4.3l-2.2 -4.1zM215.4 77.5h4.3l-2.2 -4.1zM212.9 77.1h4.3l-2.2 -4.1zM217 77.5h4.3l-2.2 -4.1zM214.6 77.1h4.3l-2.2 -4.1zM216.2 77.1h4.3l-2.2 -4.1zM213.7 77.1h4.3l-2.2 -4.1zM217.8 76.7h4.3l-2.2 -4.1zM215.4 76.7h4.3l-2.2 -4.1zM212.5 76.3h4.3l-2.2 -4.1zM211.3 76.3h4.3l-2.2 -4.1z" fill="none" stroke="#1fc3ef" stroke-width=".95"/><path d="M190.2 41.9h4.3l-2.2 4.1zM191 41.9h4.3l-2.2 4.1zM189.8 52.2h4.3l-2.2 4.1zM192.2 56.5h4.3l-2.2 4.1zM191 56.5h4.3l-2.2 4.1zM188.6 62.5h4.3l-2.2 4.1zM191.4 67.2h4.3l-2.2 4.1zM197.1 66.4h4.3l-2.2 4.1zM211.3 67.6h4.3l-2.2 4.1z" fill="#62f74f"/><path d="M199.1 66.4h4.3l-2.2 4.1zM202.4 68.5h4.3l-2.2 4.1zM200.3 67.1h4.3l-2.2 4.1zM201.6 65.1h4.3l-2.2 4.1zM201.2 67.3h4.3l-2.2 4.1zM203.2 65.4h4.3l-2.2 4.1zM200.7 67.4h4.3l-2.2 4.1zM198.7 64.4h4.3l-2.2 4.1zM202 65.7h4.3l-2.2 4.1z" fill="none" stroke="#1f4fbf" stroke-width=".95"/><path d="M214.8 72.9h3.5v3.5h-3.5zM212.8 71.2h3.5v3.5h-3.5zM208.6 70.5h3.5v3.5h-3.5zM211.3 70.4h3.5v3.5h-3.5zM206.6 69.4h3.5v3.5h-3.5z" fill="#b4591a"/><path d="M205.7 72.6h3.5v3.5h-3.5zM208.1 70.6h3.5v3.5h-3.5zM205.7 70h3.5v3.5h-3.5zM208.3 68.9h3.5v3.5h-3.5zM213.2 68.1h3.5v3.5h-3.5z" fill="none" stroke="#d9731f" stroke-width=".95"/><path d="M215.5 71.8l3.5 3.5m0 -3.5l-3.5 3.5M219.5 70.8l3.5 3.5m0 -3.5l-3.5 3.5M214.2 71.2l3.5 3.5m0 -3.5l-3.5 3.5" fill="none" stroke="#8c8c8c" stroke-width=".95"/></g><g clip-path="url(#a3_2)"><path d="M226.8 111.2l2.2 2.2l-2.2 2.2l-2.2 -2.2z" fill="none" stroke="#8a35d2" stroke-width=".95"/><path d="M211.3 113.4a1.8 1.8 0 1 0 3.5 0a1.8 1.8 0 1 0 -3.5 0zM205.7 113.6a1.8 1.8 0 1 0 3.5 0a1.8 1.8 0 1 0 -3.5 0zM206.1 113.7a1.8 1.8 0 1 0 3.5 0a1.8 1.8 0 1 0 -3.5 0z" fill="#1c8a2c"/><path d="M210.6 89.9l2.2 2.2l-2.2 2.2l-2.2 -2.2zM210.2 95.8l2.2 2.2l-2.2 2.2l-2.2 -2.2zM211 110.4l2.2 2.2l-2.2 2.2l-2.2 -2.2zM211.4 110.8l2.2 2.2l-2.2 2.2l-2.2 -2.2zM209.8 110.8l2.2 2.2l-2.2 2.2l-2.2 -2.2z" fill="#b3a000"/><path d="M224.4 113.4a1.7 1.7 0 1 0 3.3 0a1.7 1.7 0 1 0 -3.3 0zM221.5 113.4a1.7 1.7 0 1 0 3.3 0a1.7 1.7 0 1 0 -3.3 0zM223.2 113.4a1.7 1.7 0 1 0 3.3 0a1.7 1.7 0 1 0 -3.3 0zM220.7 113.4a1.7 1.7 0 1 0 3.3 0a1.7 1.7 0 1 0 -3.3 0zM222.4 113.8a1.7 1.7 0 1 0 3.3 0a1.7 1.7 0 1 0 -3.3 0zM224 113.8a1.7 1.7 0 1 0 3.3 0a1.7 1.7 0 1 0 -3.3 0z" fill="none" stroke="#e5334b" stroke-width=".95"/><path d="M224 111.2l2.2 2.2l-2.2 2.2l-2.2 -2.2zM225.2 111.2l2.2 2.2l-2.2 2.2l-2.2 -2.2zM222.8 111.6l2.2 2.2l-2.2 2.2l-2.2 -2.2z" fill="#cc1638"/><path d="M193.3 115.9h4.3l-2.2 -4.1zM200.3 115.8h4.3l-2.2 -4.1z" fill="#ff78c8"/><path d="M189.8 115.4h4.3l-2.2 -4.1zM195.1 115.4h4.3l-2.2 -4.1zM191.8 115.8h4.3l-2.2 -4.1zM203.2 115.8h4.3l-2.2 -4.1zM205.2 115.4h4.3l-2.2 -4.1zM196.7 115.8h4.3l-2.2 -4.1z" fill="#ff78c8"/><path d="M213.7 84.2h4.3l-2.2 -4.1zM212.1 95.3h4.3l-2.2 -4.1zM215.4 99.2h4.3l-2.2 -4.1zM212.9 106.3h4.3l-2.2 -4.1zM217 108.7h4.3l-2.2 -4.1zM214.6 110.3h4.3l-2.2 -4.1zM216.2 112.2h4.3l-2.2 -4.1zM213.7 114.2h4.3l-2.2 -4.1zM217.8 115h4.3l-2.2 -4.1zM215.4 115.4h4.3l-2.2 -4.1zM212.5 115.8h4.3l-2.2 -4.1zM211.3 115.8h4.3l-2.2 -4.1z" fill="none" stroke="#1fc3ef" stroke-width=".95"/><path d="M190.2 111.7h4.3l-2.2 4.1zM191 111.6h4.3l-2.2 4.1zM189.8 112.2h4.3l-2.2 4.1zM192.2 112h4.3l-2.2 4.1zM191 111.5h4.3l-2.2 4.1zM188.6 112.1h4.3l-2.2 4.1zM191.4 112.2h4.3l-2.2 4.1zM197.1 111.7h4.3l-2.2 4.1zM211.3 111.9h4.3l-2.2 4.1z" fill="#62f74f"/><path d="M199.1 112.1h4.3l-2.2 4.1zM202.4 112.1h4.3l-2.2 4.1zM200.3 112h4.3l-2.2 4.1zM201.6 111.5h4.3l-2.2 4.1zM201.2 111.7h4.3l-2.2 4.1zM203.2 111.6h4.3l-2.2 4.1zM200.7 111.6h4.3l-2.2 4.1zM198.7 111.4h4.3l-2.2 4.1zM202 111.6h4.3l-2.2 4.1z" fill="none" stroke="#1f4fbf" stroke-width=".95"/><path d="M214.8 112.1h3.5v3.5h-3.5zM212.8 111.7h3.5v3.5h-3.5zM208.6 112.2h3.5v3.5h-3.5zM211.3 112.3h3.5v3.5h-3.5zM206.6 111.9h3.5v3.5h-3.5z" fill="#b4591a"/><path d="M205.7 112.2h3.5v3.5h-3.5zM208.1 111.5h3.5v3.5h-3.5zM205.7 112.2h3.5v3.5h-3.5zM208.3 111.7h3.5v3.5h-3.5zM213.2 112.4h3.5v3.5h-3.5z" fill="none" stroke="#d9731f" stroke-width=".95"/><path d="M215.5 111.5l3.5 3.5m0 -3.5l-3.5 3.5M219.5 111.6l3.5 3.5m0 -3.5l-3.5 3.5M214.2 112.1l3.5 3.5m0 -3.5l-3.5 3.5" fill="none" stroke="#8c8c8c" stroke-width=".95"/></g><g clip-path="url(#a3_3)"><path d="M226.8 150.6l2.2 2.2l-2.2 2.2l-2.2 -2.2z" fill="none" stroke="#8a35d2" stroke-width=".95"/><path d="M211.3 153a1.8 1.8 0 1 0 3.5 0a1.8 1.8 0 1 0 -3.5 0zM205.7 153.1a1.8 1.8 0 1 0 3.5 0a1.8 1.8 0 1 0 -3.5 0zM206.1 153.1a1.8 1.8 0 1 0 3.5 0a1.8 1.8 0 1 0 -3.5 0z" fill="#1c8a2c"/><path d="M210.6 151.1l2.2 2.2l-2.2 2.2l-2.2 -2.2zM210.2 151.1l2.2 2.2l-2.2 2.2l-2.2 -2.2zM211 151.1l2.2 2.2l-2.2 2.2l-2.2 -2.2zM211.4 151.1l2.2 2.2l-2.2 2.2l-2.2 -2.2zM209.8 150.7l2.2 2.2l-2.2 2.2l-2.2 -2.2z" fill="#b3a000"/><path d="M224.4 153.2a1.7 1.7 0 1 0 3.3 0a1.7 1.7 0 1 0 -3.3 0zM221.5 153.2a1.7 1.7 0 1 0 3.3 0a1.7 1.7 0 1 0 -3.3 0zM223.2 153.2a1.7 1.7 0 1 0 3.3 0a1.7 1.7 0 1 0 -3.3 0zM220.7 153.2a1.7 1.7 0 1 0 3.3 0a1.7 1.7 0 1 0 -3.3 0zM222.4 153.2a1.7 1.7 0 1 0 3.3 0a1.7 1.7 0 1 0 -3.3 0zM224 153.2a1.7 1.7 0 1 0 3.3 0a1.7 1.7 0 1 0 -3.3 0z" fill="none" stroke="#e5334b" stroke-width=".95"/><path d="M224 151.1l2.2 2.2l-2.2 2.2l-2.2 -2.2zM225.2 151.1l2.2 2.2l-2.2 2.2l-2.2 -2.2zM222.8 151.1l2.2 2.2l-2.2 2.2l-2.2 -2.2z" fill="#cc1638"/><path d="M193.3 155.1h4.3l-2.2 -4.1zM200.3 155.5h4.3l-2.2 -4.1z" fill="#ff78c8"/><path d="M189.8 155.3h4.3l-2.2 -4.1zM195.1 155.3h4.3l-2.2 -4.1zM191.8 155.3h4.3l-2.2 -4.1zM203.2 155.3h4.3l-2.2 -4.1zM205.2 155.3h4.3l-2.2 -4.1zM196.7 155.3h4.3l-2.2 -4.1z" fill="#ff78c8"/><path d="M213.7 122.5h4.3l-2.2 -4.1zM212.1 124.5h4.3l-2.2 -4.1zM215.4 128.4h4.3l-2.2 -4.1zM212.9 132.4h4.3l-2.2 -4.1zM217 135.5h4.3l-2.2 -4.1zM214.6 138.3h4.3l-2.2 -4.1zM216.2 141.4h4.3l-2.2 -4.1zM213.7 144.2h4.3l-2.2 -4.1zM217.8 147.4h4.3l-2.2 -4.1zM215.4 150.1h4.3l-2.2 -4.1zM212.5 154.1h4.3l-2.2 -4.1zM211.3 154.5h4.3l-2.2 -4.1z" fill="none" stroke="#1fc3ef" stroke-width=".95"/><path d="M190.2 151.3h4.3l-2.2 4.1zM191 151.1h4.3l-2.2 4.1zM189.8 151.3h4.3l-2.2 4.1zM192.2 151.3h4.3l-2.2 4.1zM191 150.9h4.3l-2.2 4.1zM188.6 151.5h4.3l-2.2 4.1zM191.4 151.3h4.3l-2.2 4.1zM197.1 151.1h4.3l-2.2 4.1zM211.3 151.3h4.3l-2.2 4.1z" fill="#62f74f"/><path d="M199.1 151.1h4.3l-2.2 4.1zM202.4 151.3h4.3l-2.2 4.1zM200.3 151.1h4.3l-2.2 4.1zM201.6 151.4h4.3l-2.2 4.1zM201.2 151.1h4.3l-2.2 4.1zM203.2 151.3h4.3l-2.2 4.1zM200.7 151.4h4.3l-2.2 4.1zM198.7 151.5h4.3l-2.2 4.1zM202 151h4.3l-2.2 4.1z" fill="none" stroke="#1f4fbf" stroke-width=".95"/><path d="M214.8 151.6h3.5v3.5h-3.5zM212.8 151.2h3.5v3.5h-3.5zM208.6 151.7h3.5v3.5h-3.5zM211.3 151.1h3.5v3.5h-3.5zM206.6 151.6h3.5v3.5h-3.5z" fill="#b4591a"/><path d="M205.7 151.7h3.5v3.5h-3.5zM208.1 151.4h3.5v3.5h-3.5zM205.7 151.4h3.5v3.5h-3.5zM208.3 151.6h3.5v3.5h-3.5zM213.2 151.8h3.5v3.5h-3.5z" fill="none" stroke="#d9731f" stroke-width=".95"/><path d="M215.5 151.6l3.5 3.5m0 -3.5l-3.5 3.5M219.5 151.6l3.5 3.5m0 -3.5l-3.5 3.5M214.2 151.3l3.5 3.5m0 -3.5l-3.5 3.5" fill="none" stroke="#8c8c8c" stroke-width=".95"/></g><g clip-path="url(#a3_4)"><path d="M226.8 179.8l2.2 2.2l-2.2 2.2l-2.2 -2.2z" fill="none" stroke="#8a35d2" stroke-width=".95"/><path d="M211.3 186.7a1.8 1.8 0 1 0 3.5 0a1.8 1.8 0 1 0 -3.5 0zM205.7 188.1a1.8 1.8 0 1 0 3.5 0a1.8 1.8 0 1 0 -3.5 0zM206.1 190a1.8 1.8 0 1 0 3.5 0a1.8 1.8 0 1 0 -3.5 0z" fill="#1c8a2c"/><path d="M210.6 174.8l2.2 2.2l-2.2 2.2l-2.2 -2.2zM210.2 183.8l2.2 2.2l-2.2 2.2l-2.2 -2.2zM211 184.6l2.2 2.2l-2.2 2.2l-2.2 -2.2zM211.4 185.4l2.2 2.2l-2.2 2.2l-2.2 -2.2zM209.8 186.6l2.2 2.2l-2.2 2.2l-2.2 -2.2z" fill="#b3a000"/><path d="M224.4 186.4a1.7 1.7 0 1 0 3.3 0a1.7 1.7 0 1 0 -3.3 0zM221.5 187.6a1.7 1.7 0 1 0 3.3 0a1.7 1.7 0 1 0 -3.3 0zM223.2 188.8a1.7 1.7 0 1 0 3.3 0a1.7 1.7 0 1 0 -3.3 0zM220.7 189.2a1.7 1.7 0 1 0 3.3 0a1.7 1.7 0 1 0 -3.3 0zM222.4 189.9a1.7 1.7 0 1 0 3.3 0a1.7 1.7 0 1 0 -3.3 0zM224 190.3a1.7 1.7 0 1 0 3.3 0a1.7 1.7 0 1 0 -3.3 0z" fill="none" stroke="#e5334b" stroke-width=".95"/><path d="M224 185.8l2.2 2.2l-2.2 2.2l-2.2 -2.2zM225.2 186.6l2.2 2.2l-2.2 2.2l-2.2 -2.2zM222.8 187.4l2.2 2.2l-2.2 2.2l-2.2 -2.2z" fill="#cc1638"/><path d="M193.3 189.5h4.3l-2.2 -4.1zM200.3 191.6h4.3l-2.2 -4.1z" fill="#ff78c8"/><path d="M189.8 191.6h4.3l-2.2 -4.1zM195.1 192h4.3l-2.2 -4.1zM191.8 192.3h4.3l-2.2 -4.1zM203.2 192.3h4.3l-2.2 -4.1zM205.2 191.2h4.3l-2.2 -4.1zM196.7 192.3h4.3l-2.2 -4.1z" fill="#ff78c8"/><path d="M213.7 162.4h4.3l-2.2 -4.1zM212.1 173.4h4.3l-2.2 -4.1zM215.4 174.2h4.3l-2.2 -4.1zM212.9 182.1h4.3l-2.2 -4.1zM217 182.9h4.3l-2.2 -4.1zM214.6 184.5h4.3l-2.2 -4.1zM216.2 185.6h4.3l-2.2 -4.1zM213.7 187.2h4.3l-2.2 -4.1zM217.8 189.2h4.3l-2.2 -4.1zM215.4 190.8h4.3l-2.2 -4.1zM212.5 191.6h4.3l-2.2 -4.1zM211.3 192.3h4.3l-2.2 -4.1z" fill="none" stroke="#1fc3ef" stroke-width=".95"/><path d="M190.2 189.2h4.3l-2.2 4.1zM191 189.1h4.3l-2.2 4.1zM189.8 189.8h4.3l-2.2 4.1zM192.2 189.2h4.3l-2.2 4.1zM191 189.7h4.3l-2.2 4.1zM188.6 189.7h4.3l-2.2 4.1zM191.4 189.6h4.3l-2.2 4.1zM197.1 189.9h4.3l-2.2 4.1zM211.3 189.8h4.3l-2.2 4.1z" fill="#62f74f"/><path d="M199.1 189.8h4.3l-2.2 4.1zM202.4 189.9h4.3l-2.2 4.1zM200.3 189.2h4.3l-2.2 4.1zM201.6 189.8h4.3l-2.2 4.1zM201.2 189.6h4.3l-2.2 4.1zM203.2 189.7h4.3l-2.2 4.1zM200.7 189.5h4.3l-2.2 4.1zM198.7 189.6h4.3l-2.2 4.1zM202 189.5h4.3l-2.2 4.1z" fill="none" stroke="#1f4fbf" stroke-width=".95"/><path d="M214.8 187.9h3.5v3.5h-3.5zM212.8 188.1h3.5v3.5h-3.5zM208.6 188.9h3.5v3.5h-3.5zM211.3 188.7h3.5v3.5h-3.5zM206.6 189.1h3.5v3.5h-3.5z" fill="#b4591a"/><path d="M205.7 187.8h3.5v3.5h-3.5zM208.1 188.2h3.5v3.5h-3.5zM205.7 189.2h3.5v3.5h-3.5zM208.3 189.1h3.5v3.5h-3.5zM213.2 189.4h3.5v3.5h-3.5z" fill="none" stroke="#d9731f" stroke-width=".95"/><path d="M215.5 185.8l3.5 3.5m0 -3.5l-3.5 3.5M219.5 187.4l3.5 3.5m0 -3.5l-3.5 3.5M214.2 188.4l3.5 3.5m0 -3.5l-3.5 3.5" fill="none" stroke="#8c8c8c" stroke-width=".95"/></g><g clip-path="url(#a3_5)"><path d="M226.8 218.9l2.2 2.2l-2.2 2.2l-2.2 -2.2z" fill="none" stroke="#8a35d2" stroke-width=".95"/><path d="M211.3 225.4a1.8 1.8 0 1 0 3.5 0a1.8 1.8 0 1 0 -3.5 0zM205.7 227.7a1.8 1.8 0 1 0 3.5 0a1.8 1.8 0 1 0 -3.5 0zM206.1 229.1a1.8 1.8 0 1 0 3.5 0a1.8 1.8 0 1 0 -3.5 0z" fill="#1c8a2c"/><path d="M210.6 216.2l2.2 2.2l-2.2 2.2l-2.2 -2.2zM210.2 222.1l2.2 2.2l-2.2 2.2l-2.2 -2.2zM211 222.9l2.2 2.2l-2.2 2.2l-2.2 -2.2zM211.4 223.7l2.2 2.2l-2.2 2.2l-2.2 -2.2zM209.8 224.5l2.2 2.2l-2.2 2.2l-2.2 -2.2z" fill="#b3a000"/><path d="M224.4 225.5a1.7 1.7 0 1 0 3.3 0a1.7 1.7 0 1 0 -3.3 0zM221.5 226.6a1.7 1.7 0 1 0 3.3 0a1.7 1.7 0 1 0 -3.3 0zM223.2 227.4a1.7 1.7 0 1 0 3.3 0a1.7 1.7 0 1 0 -3.3 0zM220.7 228.2a1.7 1.7 0 1 0 3.3 0a1.7 1.7 0 1 0 -3.3 0zM222.4 228.6a1.7 1.7 0 1 0 3.3 0a1.7 1.7 0 1 0 -3.3 0zM224 229a1.7 1.7 0 1 0 3.3 0a1.7 1.7 0 1 0 -3.3 0z" fill="none" stroke="#e5334b" stroke-width=".95"/><path d="M224 224.5l2.2 2.2l-2.2 2.2l-2.2 -2.2zM225.2 225.3l2.2 2.2l-2.2 2.2l-2.2 -2.2zM222.8 226.1l2.2 2.2l-2.2 2.2l-2.2 -2.2z" fill="#cc1638"/><path d="M193.3 228.6h4.3l-2.2 -4.1zM200.3 230.9h4.3l-2.2 -4.1z" fill="#ff78c8"/><path d="M189.8 231h4.3l-2.2 -4.1zM195.1 231.4h4.3l-2.2 -4.1zM191.8 231.8h4.3l-2.2 -4.1zM203.2 231.8h4.3l-2.2 -4.1zM205.2 230.6h4.3l-2.2 -4.1zM196.7 231.8h4.3l-2.2 -4.1z" fill="#ff78c8"/><path d="M213.7 202.2h4.3l-2.2 -4.1zM212.1 211.3h4.3l-2.2 -4.1zM215.4 212.1h4.3l-2.2 -4.1zM212.9 219.2h4.3l-2.2 -4.1zM217 220.4h4.3l-2.2 -4.1zM214.6 222.3h4.3l-2.2 -4.1zM216.2 224.3h4.3l-2.2 -4.1zM213.7 225.9h4.3l-2.2 -4.1zM217.8 227.5h4.3l-2.2 -4.1zM215.4 229h4.3l-2.2 -4.1zM212.5 230.2h4.3l-2.2 -4.1zM211.3 231h4.3l-2.2 -4.1z" fill="none" stroke="#1fc3ef" stroke-width=".95"/><path d="M190.2 228.2h4.3l-2.2 4.1zM191 228.3h4.3l-2.2 4.1zM189.8 228.9h4.3l-2.2 4.1zM192.2 228.9h4.3l-2.2 4.1zM191 228.6h4.3l-2.2 4.1zM188.6 228.8h4.3l-2.2 4.1zM191.4 228.5h4.3l-2.2 4.1zM197.1 228.3h4.3l-2.2 4.1zM211.3 228.5h4.3l-2.2 4.1z" fill="#62f74f"/><path d="M199.1 228.5h4.3l-2.2 4.1zM202.4 228.9h4.3l-2.2 4.1zM200.3 228.5h4.3l-2.2 4.1zM201.6 228.9h4.3l-2.2 4.1zM201.2 228.5h4.3l-2.2 4.1zM203.2 228.5h4.3l-2.2 4.1zM200.7 228.6h4.3l-2.2 4.1zM198.7 228.4h4.3l-2.2 4.1zM202 228.3h4.3l-2.2 4.1z" fill="none" stroke="#1f4fbf" stroke-width=".95"/><path d="M214.8 226.7h3.5v3.5h-3.5zM212.8 227.4h3.5v3.5h-3.5zM208.6 227.3h3.5v3.5h-3.5zM211.3 227.9h3.5v3.5h-3.5zM206.6 228.4h3.5v3.5h-3.5z" fill="#b4591a"/><path d="M205.7 227.1h3.5v3.5h-3.5zM208.1 227.6h3.5v3.5h-3.5zM205.7 227.8h3.5v3.5h-3.5zM208.3 227.7h3.5v3.5h-3.5zM213.2 228.5h3.5v3.5h-3.5z" fill="none" stroke="#d9731f" stroke-width=".95"/><path d="M215.5 224.9l3.5 3.5m0 -3.5l-3.5 3.5M219.5 226.4l3.5 3.5m0 -3.5l-3.5 3.5M214.2 227.8l3.5 3.5m0 -3.5l-3.5 3.5" fill="none" stroke="#8c8c8c" stroke-width=".95"/></g><g clip-path="url(#a3_6)"><path d="M226.8 259.1l2.2 2.2l-2.2 2.2l-2.2 -2.2z" fill="none" stroke="#8a35d2" stroke-width=".95"/><path d="M211.3 265a1.8 1.8 0 1 0 3.5 0a1.8 1.8 0 1 0 -3.5 0zM205.7 266.6a1.8 1.8 0 1 0 3.5 0a1.8 1.8 0 1 0 -3.5 0zM206.1 268.1a1.8 1.8 0 1 0 3.5 0a1.8 1.8 0 1 0 -3.5 0z" fill="#1c8a2c"/><path d="M210.6 256.1l2.2 2.2l-2.2 2.2l-2.2 -2.2zM210.2 257.2l2.2 2.2l-2.2 2.2l-2.2 -2.2zM211 258.4l2.2 2.2l-2.2 2.2l-2.2 -2.2zM211.4 259.6l2.2 2.2l-2.2 2.2l-2.2 -2.2zM209.8 261.6l2.2 2.2l-2.2 2.2l-2.2 -2.2z" fill="#b3a000"/><path d="M224.4 263.3a1.7 1.7 0 1 0 3.3 0a1.7 1.7 0 1 0 -3.3 0zM221.5 264.5a1.7 1.7 0 1 0 3.3 0a1.7 1.7 0 1 0 -3.3 0zM223.2 265.3a1.7 1.7 0 1 0 3.3 0a1.7 1.7 0 1 0 -3.3 0zM220.7 266.1a1.7 1.7 0 1 0 3.3 0a1.7 1.7 0 1 0 -3.3 0zM222.4 266.9a1.7 1.7 0 1 0 3.3 0a1.7 1.7 0 1 0 -3.3 0zM224 267.7a1.7 1.7 0 1 0 3.3 0a1.7 1.7 0 1 0 -3.3 0z" fill="none" stroke="#e5334b" stroke-width=".95"/><path d="M224 262.4l2.2 2.2l-2.2 2.2l-2.2 -2.2zM225.2 263.5l2.2 2.2l-2.2 2.2l-2.2 -2.2zM222.8 263.9l2.2 2.2l-2.2 2.2l-2.2 -2.2z" fill="#cc1638"/><path d="M193.3 268.4h4.3l-2.2 -4.1zM200.3 269.9h4.3l-2.2 -4.1z" fill="#ff78c8"/><path d="M189.8 268.9h4.3l-2.2 -4.1zM195.1 269.7h4.3l-2.2 -4.1zM191.8 270.1h4.3l-2.2 -4.1zM203.2 270.5h4.3l-2.2 -4.1zM205.2 268.1h4.3l-2.2 -4.1zM196.7 270.5h4.3l-2.2 -4.1z" fill="#ff78c8"/><path d="M213.7 243.2h4.3l-2.2 -4.1zM212.1 251.1h4.3l-2.2 -4.1zM215.4 252.7h4.3l-2.2 -4.1zM212.9 254.7h4.3l-2.2 -4.1zM217 264.2h4.3l-2.2 -4.1zM214.6 265.7h4.3l-2.2 -4.1zM216.2 267.3h4.3l-2.2 -4.1zM213.7 268.1h4.3l-2.2 -4.1zM217.8 269.3h4.3l-2.2 -4.1zM215.4 270.1h4.3l-2.2 -4.1zM212.5 270.9h4.3l-2.2 -4.1zM211.3 271.3h4.3l-2.2 -4.1z" fill="none" stroke="#1fc3ef" stroke-width=".95"/><path d="M190.2 267.7h4.3l-2.2 4.1zM191 267.8h4.3l-2.2 4.1zM189.8 268h4.3l-2.2 4.1zM192.2 267.7h4.3l-2.2 4.1zM191 267.8h4.3l-2.2 4.1zM188.6 267.7h4.3l-2.2 4.1zM191.4 267.3h4.3l-2.2 4.1zM197.1 267.4h4.3l-2.2 4.1zM211.3 268h4.3l-2.2 4.1z" fill="#62f74f"/><path d="M199.1 267.7h4.3l-2.2 4.1zM202.4 267.7h4.3l-2.2 4.1zM200.3 267.7h4.3l-2.2 4.1zM201.6 267.8h4.3l-2.2 4.1zM201.2 268h4.3l-2.2 4.1zM203.2 267.7h4.3l-2.2 4.1zM200.7 267.3h4.3l-2.2 4.1zM198.7 267.9h4.3l-2.2 4.1zM202 267.8h4.3l-2.2 4.1z" fill="none" stroke="#1f4fbf" stroke-width=".95"/><path d="M214.8 265.6h3.5v3.5h-3.5zM212.8 266.1h3.5v3.5h-3.5zM208.6 266.5h3.5v3.5h-3.5zM211.3 266.7h3.5v3.5h-3.5zM206.6 266.9h3.5v3.5h-3.5z" fill="#b4591a"/><path d="M205.7 265.7h3.5v3.5h-3.5zM208.1 266.8h3.5v3.5h-3.5zM205.7 266.6h3.5v3.5h-3.5zM208.3 266.7h3.5v3.5h-3.5zM213.2 267.2h3.5v3.5h-3.5z" fill="none" stroke="#d9731f" stroke-width=".95"/><path d="M215.5 264.6l3.5 3.5m0 -3.5l-3.5 3.5M219.5 265.8l3.5 3.5m0 -3.5l-3.5 3.5M214.2 266.2l3.5 3.5m0 -3.5l-3.5 3.5" fill="none" stroke="#8c8c8c" stroke-width=".95"/></g><g clip-path="url(#a3_7)"><path d="M226.8 298.6l2.2 2.2l-2.2 2.2l-2.2 -2.2z" fill="none" stroke="#8a35d2" stroke-width=".95"/><path d="M211.3 304.6a1.8 1.8 0 1 0 3.5 0a1.8 1.8 0 1 0 -3.5 0zM205.7 306.3a1.8 1.8 0 1 0 3.5 0a1.8 1.8 0 1 0 -3.5 0zM206.1 307.8a1.8 1.8 0 1 0 3.5 0a1.8 1.8 0 1 0 -3.5 0z" fill="#1c8a2c"/><path d="M210.6 297.1l2.2 2.2l-2.2 2.2l-2.2 -2.2zM210.2 297.9l2.2 2.2l-2.2 2.2l-2.2 -2.2zM211 298.7l2.2 2.2l-2.2 2.2l-2.2 -2.2zM211.4 299.5l2.2 2.2l-2.2 2.2l-2.2 -2.2zM209.8 301.4l2.2 2.2l-2.2 2.2l-2.2 -2.2z" fill="#b3a000"/><path d="M224.4 304a1.7 1.7 0 1 0 3.3 0a1.7 1.7 0 1 0 -3.3 0zM221.5 304.8a1.7 1.7 0 1 0 3.3 0a1.7 1.7 0 1 0 -3.3 0zM223.2 305.2a1.7 1.7 0 1 0 3.3 0a1.7 1.7 0 1 0 -3.3 0zM220.7 306a1.7 1.7 0 1 0 3.3 0a1.7 1.7 0 1 0 -3.3 0zM222.4 306.3a1.7 1.7 0 1 0 3.3 0a1.7 1.7 0 1 0 -3.3 0zM224 306.7a1.7 1.7 0 1 0 3.3 0a1.7 1.7 0 1 0 -3.3 0z" fill="none" stroke="#e5334b" stroke-width=".95"/><path d="M224 302.6l2.2 2.2l-2.2 2.2l-2.2 -2.2zM225.2 303.4l2.2 2.2l-2.2 2.2l-2.2 -2.2zM222.8 303.8l2.2 2.2l-2.2 2.2l-2.2 -2.2z" fill="#cc1638"/><path d="M193.3 307.9h4.3l-2.2 -4.1zM200.3 310h4.3l-2.2 -4.1z" fill="#ff78c8"/><path d="M189.8 309.1h4.3l-2.2 -4.1zM195.1 309.5h4.3l-2.2 -4.1zM191.8 309.9h4.3l-2.2 -4.1zM203.2 310.3h4.3l-2.2 -4.1zM205.2 308.4h4.3l-2.2 -4.1zM196.7 310.3h4.3l-2.2 -4.1z" fill="#ff78c8"/><path d="M213.7 282.3h4.3l-2.2 -4.1zM212.1 292.2h4.3l-2.2 -4.1zM215.4 294.2h4.3l-2.2 -4.1zM212.9 296.1h4.3l-2.2 -4.1zM217 300.5h4.3l-2.2 -4.1zM214.6 301.7h4.3l-2.2 -4.1zM216.2 303.2h4.3l-2.2 -4.1zM213.7 304.4h4.3l-2.2 -4.1zM217.8 306h4.3l-2.2 -4.1zM215.4 307.6h4.3l-2.2 -4.1zM212.5 308.8h4.3l-2.2 -4.1zM211.3 309.5h4.3l-2.2 -4.1z" fill="none" stroke="#1fc3ef" stroke-width=".95"/><path d="M190.2 307h4.3l-2.2 4.1zM191 307.2h4.3l-2.2 4.1zM189.8 306.9h4.3l-2.2 4.1zM192.2 307.1h4.3l-2.2 4.1zM191 306.8h4.3l-2.2 4.1zM188.6 307h4.3l-2.2 4.1zM191.4 307h4.3l-2.2 4.1zM197.1 306.8h4.3l-2.2 4.1zM211.3 307.4h4.3l-2.2 4.1z" fill="#62f74f"/><path d="M199.1 307.5h4.3l-2.2 4.1zM202.4 306.8h4.3l-2.2 4.1zM200.3 306.7h4.3l-2.2 4.1zM201.6 306.9h4.3l-2.2 4.1zM201.2 307.5h4.3l-2.2 4.1zM203.2 307.3h4.3l-2.2 4.1zM200.7 306.9h4.3l-2.2 4.1zM198.7 307.1h4.3l-2.2 4.1zM202 306.9h4.3l-2.2 4.1z" fill="none" stroke="#1f4fbf" stroke-width=".95"/><path d="M214.8 305.2h3.5v3.5h-3.5zM212.8 305.9h3.5v3.5h-3.5zM208.6 306.5h3.5v3.5h-3.5zM211.3 306.6h3.5v3.5h-3.5zM206.6 306.8h3.5v3.5h-3.5z" fill="#b4591a"/><path d="M205.7 305.3h3.5v3.5h-3.5zM208.1 306h3.5v3.5h-3.5zM205.7 306.1h3.5v3.5h-3.5zM208.3 306.3h3.5v3.5h-3.5zM213.2 306.5h3.5v3.5h-3.5z" fill="none" stroke="#d9731f" stroke-width=".95"/><path d="M215.5 303.5l3.5 3.5m0 -3.5l-3.5 3.5M219.5 305.3l3.5 3.5m0 -3.5l-3.5 3.5M214.2 305.8l3.5 3.5m0 -3.5l-3.5 3.5" fill="none" stroke="#8c8c8c" stroke-width=".95"/></g><g clip-path="url(#a3_8)"><path d="M226.8 348.1l2.2 2.2l-2.2 2.2l-2.2 -2.2z" fill="none" stroke="#8a35d2" stroke-width=".95"/><path d="M213.7 354.1h4.3l-2.2 -4.1zM212.1 352.6h4.3l-2.2 -4.1zM215.4 350.6h4.3l-2.2 -4.1zM212.9 347.8h4.3l-2.2 -4.1zM217 345.5h4.3l-2.2 -4.1zM214.6 332.8h4.3l-2.2 -4.1zM216.2 343.1h4.3l-2.2 -4.1zM213.7 355.3h4.3l-2.2 -4.1zM217.8 331.2h4.3l-2.2 -4.1zM215.4 333.6h4.3l-2.2 -4.1zM212.5 331.6h4.3l-2.2 -4.1zM211.3 335.6h4.3l-2.2 -4.1z" fill="none" stroke="#1fc3ef" stroke-width=".95"/><path d="M210.6 340.1l2.2 2.2l-2.2 2.2l-2.2 -2.2zM210.2 342.1l2.2 2.2l-2.2 2.2l-2.2 -2.2zM211 341.3l2.2 2.2l-2.2 2.2l-2.2 -2.2zM211.4 350l2.2 2.2l-2.2 2.2l-2.2 -2.2zM209.8 343.3l2.2 2.2l-2.2 2.2l-2.2 -2.2z" fill="#b3a000"/><path d="M224.4 342.3a1.7 1.7 0 1 0 3.3 0a1.7 1.7 0 1 0 -3.3 0zM221.5 344.6a1.7 1.7 0 1 0 3.3 0a1.7 1.7 0 1 0 -3.3 0zM223.2 346.6a1.7 1.7 0 1 0 3.3 0a1.7 1.7 0 1 0 -3.3 0zM220.7 348.6a1.7 1.7 0 1 0 3.3 0a1.7 1.7 0 1 0 -3.3 0zM222.4 350.5a1.7 1.7 0 1 0 3.3 0a1.7 1.7 0 1 0 -3.3 0zM224 351.7a1.7 1.7 0 1 0 3.3 0a1.7 1.7 0 1 0 -3.3 0z" fill="none" stroke="#e5334b" stroke-width=".95"/><path d="M224 345.2l2.2 2.2l-2.2 2.2l-2.2 -2.2zM225.2 346.8l2.2 2.2l-2.2 2.2l-2.2 -2.2zM222.8 343.7l2.2 2.2l-2.2 2.2l-2.2 -2.2z" fill="#cc1638"/><path d="M193.3 338h4.3l-2.2 -4.1zM200.3 338.4h4.3l-2.2 -4.1z" fill="#ff78c8"/><path d="M189.8 337.6h4.3l-2.2 -4.1zM195.1 339.9h4.3l-2.2 -4.1zM191.8 341.5h4.3l-2.2 -4.1zM203.2 342.3h4.3l-2.2 -4.1zM205.2 339.1h4.3l-2.2 -4.1zM196.7 338.3h4.3l-2.2 -4.1z" fill="#ff78c8"/><path d="M190.2 335.5h4.3l-2.2 4.1zM191 336.7h4.3l-2.2 4.1zM189.8 337.5h4.3l-2.2 4.1zM192.2 335.9h4.3l-2.2 4.1zM191 337.9h4.3l-2.2 4.1zM188.6 338.3h4.3l-2.2 4.1zM191.4 329.6h4.3l-2.2 4.1zM197.1 335.5h4.3l-2.2 4.1zM211.3 328.8h4.3l-2.2 4.1z" fill="#62f74f"/><path d="M199.1 333.5h4.3l-2.2 4.1zM202.4 316.2h4.3l-2.2 4.1zM200.3 331.2h4.3l-2.2 4.1zM201.6 322.1h4.3l-2.2 4.1zM201.2 329.6h4.3l-2.2 4.1zM203.2 332.8h4.3l-2.2 4.1zM200.7 330.4h4.3l-2.2 4.1zM198.7 332.4h4.3l-2.2 4.1zM202 331.6h4.3l-2.2 4.1z" fill="none" stroke="#1f4fbf" stroke-width=".95"/><path d="M214.8 330.7h3.5v3.5h-3.5zM212.8 329.2h3.5v3.5h-3.5zM208.6 329.1h3.5v3.5h-3.5zM211.3 328.9h3.5v3.5h-3.5zM206.6 330.8h3.5v3.5h-3.5z" fill="#b4591a"/><path d="M205.7 332.8h3.5v3.5h-3.5zM208.1 332.1h3.5v3.5h-3.5zM205.7 329.4h3.5v3.5h-3.5zM208.3 328.7h3.5v3.5h-3.5zM213.2 331h3.5v3.5h-3.5z" fill="none" stroke="#d9731f" stroke-width=".95"/><path d="M211.3 329.2a1.8 1.8 0 1 0 3.5 0a1.8 1.8 0 1 0 -3.5 0zM205.7 331.3a1.8 1.8 0 1 0 3.5 0a1.8 1.8 0 1 0 -3.5 0zM206.1 330.3a1.8 1.8 0 1 0 3.5 0a1.8 1.8 0 1 0 -3.5 0z" fill="#1c8a2c"/><path d="M215.5 331.5l3.5 3.5m0 -3.5l-3.5 3.5M219.5 334.1l3.5 3.5m0 -3.5l-3.5 3.5M214.2 331.5l3.5 3.5m0 -3.5l-3.5 3.5" fill="none" stroke="#8c8c8c" stroke-width=".95"/></g><g clip-path="url(#a4_0)"><path d="M233.9 29.1l2.2 2.2l-2.2 2.2l-2.2 -2.2z" fill="none" stroke="#8a35d2" stroke-width=".95"/><path d="M233.5 32a1.8 1.8 0 1 0 3.5 0a1.8 1.8 0 1 0 -3.5 0zM235.7 32.6a1.8 1.8 0 1 0 3.5 0a1.8 1.8 0 1 0 -3.5 0zM239.1 32.8a1.8 1.8 0 1 0 3.5 0a1.8 1.8 0 1 0 -3.5 0z" fill="#1c8a2c"/><path d="M232.1 -.4l2.2 2.2l-2.2 2.2l-2.2 -2.2zM232.1 .7l2.2 2.2l-2.2 2.2l-2.2 -2.2zM232.5 1.9l2.2 2.2l-2.2 2.2l-2.2 -2.2zM232.5 3.1l2.2 2.2l-2.2 2.2l-2.2 -2.2zM232.9 19.7l2.2 2.2l-2.2 2.2l-2.2 -2.2z" fill="#b3a000"/><path d="M231.3 14.3a1.7 1.7 0 1 0 3.3 0a1.7 1.7 0 1 0 -3.3 0zM230.9 27.4a1.7 1.7 0 1 0 3.3 0a1.7 1.7 0 1 0 -3.3 0zM231.7 29.3a1.7 1.7 0 1 0 3.3 0a1.7 1.7 0 1 0 -3.3 0zM232.1 30.9a1.7 1.7 0 1 0 3.3 0a1.7 1.7 0 1 0 -3.3 0zM232.9 32.5a1.7 1.7 0 1 0 3.3 0a1.7 1.7 0 1 0 -3.3 0zM232.5 33.7a1.7 1.7 0 1 0 3.3 0a1.7 1.7 0 1 0 -3.3 0z" fill="none" stroke="#e5334b" stroke-width=".95"/><path d="M232.9 29.6l2.2 2.2l-2.2 2.2l-2.2 -2.2zM233.4 30.7l2.2 2.2l-2.2 2.2l-2.2 -2.2zM233.8 31.9l2.2 2.2l-2.2 2.2l-2.2 -2.2z" fill="#cc1638"/><path d="M232.7 34.4h4.3l-2.2 -4.1zM236.6 35.3h4.3l-2.2 -4.1z" fill="#ff78c8"/><path d="M232.4 31.3h4.3l-2.2 -4.1zM234 31.7h4.3l-2.2 -4.1zM235.7 32.1h4.3l-2.2 -4.1zM236.9 30.6h4.3l-2.2 -4.1zM233.2 28.6h4.3l-2.2 -4.1zM234.9 32.9h4.3l-2.2 -4.1z" fill="#ff78c8"/><path d="M229.2 18.3h4.3l-2.2 -4.1zM229.4 21.9h4.3l-2.2 -4.1zM229.6 23.5h4.3l-2.2 -4.1zM230 25h4.3l-2.2 -4.1zM230.4 26.6h4.3l-2.2 -4.1zM230.8 27.8h4.3l-2.2 -4.1zM231.2 29.4h4.3l-2.2 -4.1zM231.6 30.6h4.3l-2.2 -4.1zM232.4 31.3h4.3l-2.2 -4.1zM233.2 32.5h4.3l-2.2 -4.1zM234 33.3h4.3l-2.2 -4.1zM234.9 34.1h4.3l-2.2 -4.1z" fill="none" stroke="#1fc3ef" stroke-width=".95"/><path d="M245.8 31.2h4.3l-2.2 4.1zM247.8 31.6h4.3l-2.2 4.1zM251.5 31.1h4.3l-2.2 4.1zM246.2 31.6h4.3l-2.2 4.1zM252.7 31h4.3l-2.2 4.1zM256.8 30.9h4.3l-2.2 4.1zM241.3 31.5h4.3l-2.2 4.1zM243.8 31.3h4.3l-2.2 4.1zM239.7 31h4.3l-2.2 4.1z" fill="#62f74f"/><path d="M243.8 31.4h4.3l-2.2 4.1zM246.2 31.3h4.3l-2.2 4.1zM248.7 31.6h4.3l-2.2 4.1zM251.9 31.6h4.3l-2.2 4.1zM254.3 31.5h4.3l-2.2 4.1zM256.8 31.5h4.3l-2.2 4.1zM260 31h4.3l-2.2 4.1zM262.5 31.4h4.3l-2.2 4.1zM264.9 31.6h4.3l-2.2 4.1z" fill="none" stroke="#1f4fbf" stroke-width=".95"/><path d="M237.6 31.2h3.5v3.5h-3.5zM238.5 31.1h3.5v3.5h-3.5zM240.1 30.9h3.5v3.5h-3.5zM241.3 31.3h3.5v3.5h-3.5zM242.3 31.6h3.5v3.5h-3.5z" fill="#b4591a"/><path d="M237.6 31.5h3.5v3.5h-3.5zM238.9 31.5h3.5v3.5h-3.5zM240.9 31h3.5v3.5h-3.5zM241.5 31.1h3.5v3.5h-3.5zM243.5 31.4h3.5v3.5h-3.5z" fill="none" stroke="#d9731f" stroke-width=".95"/><path d="M234.9 30.7l3.5 3.5m0 -3.5l-3.5 3.5M236.9 31.1l3.5 3.5m0 -3.5l-3.5 3.5M239.4 31.3l3.5 3.5m0 -3.5l-3.5 3.5" fill="none" stroke="#8c8c8c" stroke-width=".95"/></g><g clip-path="url(#a4_1)"><path d="M233.9 71.8l2.2 2.2l-2.2 2.2l-2.2 -2.2z" fill="none" stroke="#8a35d2" stroke-width=".95"/><path d="M233.5 74.6a1.8 1.8 0 1 0 3.5 0a1.8 1.8 0 1 0 -3.5 0zM235.7 73.7a1.8 1.8 0 1 0 3.5 0a1.8 1.8 0 1 0 -3.5 0zM239.1 72a1.8 1.8 0 1 0 3.5 0a1.8 1.8 0 1 0 -3.5 0z" fill="#1c8a2c"/><path d="M232.1 73l2.2 2.2l-2.2 2.2l-2.2 -2.2zM232.1 73l2.2 2.2l-2.2 2.2l-2.2 -2.2zM232.5 73l2.2 2.2l-2.2 2.2l-2.2 -2.2zM232.5 73l2.2 2.2l-2.2 2.2l-2.2 -2.2zM232.9 72.6l2.2 2.2l-2.2 2.2l-2.2 -2.2z" fill="#b3a000"/><path d="M231.3 74.3a1.7 1.7 0 1 0 3.3 0a1.7 1.7 0 1 0 -3.3 0zM230.9 74.3a1.7 1.7 0 1 0 3.3 0a1.7 1.7 0 1 0 -3.3 0zM231.7 74.3a1.7 1.7 0 1 0 3.3 0a1.7 1.7 0 1 0 -3.3 0zM232.1 74.3a1.7 1.7 0 1 0 3.3 0a1.7 1.7 0 1 0 -3.3 0zM232.9 74.3a1.7 1.7 0 1 0 3.3 0a1.7 1.7 0 1 0 -3.3 0zM232.5 74.3a1.7 1.7 0 1 0 3.3 0a1.7 1.7 0 1 0 -3.3 0z" fill="none" stroke="#e5334b" stroke-width=".95"/><path d="M232.9 72.2l2.2 2.2l-2.2 2.2l-2.2 -2.2zM233.4 72.2l2.2 2.2l-2.2 2.2l-2.2 -2.2zM233.8 72.2l2.2 2.2l-2.2 2.2l-2.2 -2.2z" fill="#cc1638"/><path d="M232.7 77h4.3l-2.2 -4.1zM236.6 75.7h4.3l-2.2 -4.1z" fill="#ff78c8"/><path d="M232.4 76.3h4.3l-2.2 -4.1zM234 76.3h4.3l-2.2 -4.1zM235.7 76.3h4.3l-2.2 -4.1zM236.9 76.3h4.3l-2.2 -4.1zM233.2 76.3h4.3l-2.2 -4.1zM234.9 76.7h4.3l-2.2 -4.1z" fill="#ff78c8"/><path d="M229.2 77.5h4.3l-2.2 -4.1zM229.4 77.5h4.3l-2.2 -4.1zM229.6 77.5h4.3l-2.2 -4.1zM230 77.1h4.3l-2.2 -4.1zM230.4 77.5h4.3l-2.2 -4.1zM230.8 77.1h4.3l-2.2 -4.1zM231.2 77.1h4.3l-2.2 -4.1zM231.6 77.1h4.3l-2.2 -4.1zM232.4 76.7h4.3l-2.2 -4.1zM233.2 76.7h4.3l-2.2 -4.1zM234 76.3h4.3l-2.2 -4.1zM234.9 76.3h4.3l-2.2 -4.1z" fill="none" stroke="#1fc3ef" stroke-width=".95"/><path d="M245.8 41.9h4.3l-2.2 4.1zM247.8 41.9h4.3l-2.2 4.1zM251.5 52.2h4.3l-2.2 4.1zM246.2 56.5h4.3l-2.2 4.1zM252.7 56.5h4.3l-2.2 4.1zM256.8 62.5h4.3l-2.2 4.1zM241.3 67.2h4.3l-2.2 4.1zM243.8 66.4h4.3l-2.2 4.1zM239.7 67.6h4.3l-2.2 4.1z" fill="#62f74f"/><path d="M243.8 66.4h4.3l-2.2 4.1zM246.2 68.5h4.3l-2.2 4.1zM248.7 67.1h4.3l-2.2 4.1zM251.9 65.1h4.3l-2.2 4.1zM254.3 67.3h4.3l-2.2 4.1zM256.8 65.4h4.3l-2.2 4.1zM260 67.4h4.3l-2.2 4.1zM262.5 64.4h4.3l-2.2 4.1zM264.9 65.7h4.3l-2.2 4.1z" fill="none" stroke="#1f4fbf" stroke-width=".95"/><path d="M237.6 72.9h3.5v3.5h-3.5zM238.5 71.2h3.5v3.5h-3.5zM240.1 70.5h3.5v3.5h-3.5zM241.3 70.4h3.5v3.5h-3.5zM242.3 69.4h3.5v3.5h-3.5z" fill="#b4591a"/><path d="M237.6 72.6h3.5v3.5h-3.5zM238.9 70.6h3.5v3.5h-3.5zM240.9 70h3.5v3.5h-3.5zM241.5 68.9h3.5v3.5h-3.5zM243.5 68.1h3.5v3.5h-3.5z" fill="none" stroke="#d9731f" stroke-width=".95"/><path d="M234.9 71.8l3.5 3.5m0 -3.5l-3.5 3.5M236.9 70.8l3.5 3.5m0 -3.5l-3.5 3.5M239.4 71.2l3.5 3.5m0 -3.5l-3.5 3.5" fill="none" stroke="#8c8c8c" stroke-width=".95"/></g><g clip-path="url(#a4_2)"><path d="M233.9 111.2l2.2 2.2l-2.2 2.2l-2.2 -2.2z" fill="none" stroke="#8a35d2" stroke-width=".95"/><path d="M233.5 113.4a1.8 1.8 0 1 0 3.5 0a1.8 1.8 0 1 0 -3.5 0zM235.7 113.6a1.8 1.8 0 1 0 3.5 0a1.8 1.8 0 1 0 -3.5 0zM239.1 113.7a1.8 1.8 0 1 0 3.5 0a1.8 1.8 0 1 0 -3.5 0z" fill="#1c8a2c"/><path d="M232.1 89.9l2.2 2.2l-2.2 2.2l-2.2 -2.2zM232.1 95.8l2.2 2.2l-2.2 2.2l-2.2 -2.2zM232.5 110.4l2.2 2.2l-2.2 2.2l-2.2 -2.2zM232.5 110.8l2.2 2.2l-2.2 2.2l-2.2 -2.2zM232.9 110.8l2.2 2.2l-2.2 2.2l-2.2 -2.2z" fill="#b3a000"/><path d="M231.3 113.4a1.7 1.7 0 1 0 3.3 0a1.7 1.7 0 1 0 -3.3 0zM230.9 113.4a1.7 1.7 0 1 0 3.3 0a1.7 1.7 0 1 0 -3.3 0zM231.7 113.4a1.7 1.7 0 1 0 3.3 0a1.7 1.7 0 1 0 -3.3 0zM232.1 113.4a1.7 1.7 0 1 0 3.3 0a1.7 1.7 0 1 0 -3.3 0zM232.9 113.8a1.7 1.7 0 1 0 3.3 0a1.7 1.7 0 1 0 -3.3 0zM232.5 113.8a1.7 1.7 0 1 0 3.3 0a1.7 1.7 0 1 0 -3.3 0z" fill="none" stroke="#e5334b" stroke-width=".95"/><path d="M232.9 111.2l2.2 2.2l-2.2 2.2l-2.2 -2.2zM233.4 111.2l2.2 2.2l-2.2 2.2l-2.2 -2.2zM233.8 111.6l2.2 2.2l-2.2 2.2l-2.2 -2.2z" fill="#cc1638"/><path d="M232.7 115.9h4.3l-2.2 -4.1zM236.6 115.8h4.3l-2.2 -4.1z" fill="#ff78c8"/><path d="M232.4 115.4h4.3l-2.2 -4.1zM234 115.4h4.3l-2.2 -4.1zM235.7 115.8h4.3l-2.2 -4.1zM236.9 115.8h4.3l-2.2 -4.1zM233.2 115.4h4.3l-2.2 -4.1zM234.9 115.8h4.3l-2.2 -4.1z" fill="#ff78c8"/><path d="M229.2 84.2h4.3l-2.2 -4.1zM229.4 95.3h4.3l-2.2 -4.1zM229.6 99.2h4.3l-2.2 -4.1zM230 106.3h4.3l-2.2 -4.1zM230.4 108.7h4.3l-2.2 -4.1zM230.8 110.3h4.3l-2.2 -4.1zM231.2 112.2h4.3l-2.2 -4.1zM231.6 114.2h4.3l-2.2 -4.1zM232.4 115h4.3l-2.2 -4.1zM233.2 115.4h4.3l-2.2 -4.1zM234 115.8h4.3l-2.2 -4.1zM234.9 115.8h4.3l-2.2 -4.1z" fill="none" stroke="#1fc3ef" stroke-width=".95"/><path d="M245.8 111.7h4.3l-2.2 4.1zM247.8 111.6h4.3l-2.2 4.1zM251.5 112.2h4.3l-2.2 4.1zM246.2 112h4.3l-2.2 4.1zM252.7 111.5h4.3l-2.2 4.1zM256.8 112.1h4.3l-2.2 4.1zM241.3 112.2h4.3l-2.2 4.1zM243.8 111.7h4.3l-2.2 4.1zM239.7 111.9h4.3l-2.2 4.1z" fill="#62f74f"/><path d="M243.8 112.1h4.3l-2.2 4.1zM246.2 112.1h4.3l-2.2 4.1zM248.7 112h4.3l-2.2 4.1zM251.9 111.5h4.3l-2.2 4.1zM254.3 111.7h4.3l-2.2 4.1zM256.8 111.6h4.3l-2.2 4.1zM260 111.6h4.3l-2.2 4.1zM262.5 111.4h4.3l-2.2 4.1zM264.9 111.6h4.3l-2.2 4.1z" fill="none" stroke="#1f4fbf" stroke-width=".95"/><path d="M237.6 112.1h3.5v3.5h-3.5zM238.5 111.7h3.5v3.5h-3.5zM240.1 112.2h3.5v3.5h-3.5zM241.3 112.3h3.5v3.5h-3.5zM242.3 111.9h3.5v3.5h-3.5z" fill="#b4591a"/><path d="M237.6 112.2h3.5v3.5h-3.5zM238.9 111.5h3.5v3.5h-3.5zM240.9 112.2h3.5v3.5h-3.5zM241.5 111.7h3.5v3.5h-3.5zM243.5 112.4h3.5v3.5h-3.5z" fill="none" stroke="#d9731f" stroke-width=".95"/><path d="M234.9 111.5l3.5 3.5m0 -3.5l-3.5 3.5M236.9 111.6l3.5 3.5m0 -3.5l-3.5 3.5M239.4 112.1l3.5 3.5m0 -3.5l-3.5 3.5" fill="none" stroke="#8c8c8c" stroke-width=".95"/></g><g clip-path="url(#a4_3)"><path d="M233.9 150.6l2.2 2.2l-2.2 2.2l-2.2 -2.2z" fill="none" stroke="#8a35d2" stroke-width=".95"/><path d="M233.5 153a1.8 1.8 0 1 0 3.5 0a1.8 1.8 0 1 0 -3.5 0zM235.7 153.1a1.8 1.8 0 1 0 3.5 0a1.8 1.8 0 1 0 -3.5 0zM239.1 153.1a1.8 1.8 0 1 0 3.5 0a1.8 1.8 0 1 0 -3.5 0z" fill="#1c8a2c"/><path d="M232.1 151.1l2.2 2.2l-2.2 2.2l-2.2 -2.2zM232.1 151.1l2.2 2.2l-2.2 2.2l-2.2 -2.2zM232.5 151.1l2.2 2.2l-2.2 2.2l-2.2 -2.2zM232.5 151.1l2.2 2.2l-2.2 2.2l-2.2 -2.2zM232.9 150.7l2.2 2.2l-2.2 2.2l-2.2 -2.2z" fill="#b3a000"/><path d="M231.3 153.2a1.7 1.7 0 1 0 3.3 0a1.7 1.7 0 1 0 -3.3 0zM230.9 153.2a1.7 1.7 0 1 0 3.3 0a1.7 1.7 0 1 0 -3.3 0zM231.7 153.2a1.7 1.7 0 1 0 3.3 0a1.7 1.7 0 1 0 -3.3 0zM232.1 153.2a1.7 1.7 0 1 0 3.3 0a1.7 1.7 0 1 0 -3.3 0zM232.9 153.2a1.7 1.7 0 1 0 3.3 0a1.7 1.7 0 1 0 -3.3 0zM232.5 153.2a1.7 1.7 0 1 0 3.3 0a1.7 1.7 0 1 0 -3.3 0z" fill="none" stroke="#e5334b" stroke-width=".95"/><path d="M232.9 151.1l2.2 2.2l-2.2 2.2l-2.2 -2.2zM233.4 151.1l2.2 2.2l-2.2 2.2l-2.2 -2.2zM233.8 151.1l2.2 2.2l-2.2 2.2l-2.2 -2.2z" fill="#cc1638"/><path d="M232.7 155.1h4.3l-2.2 -4.1zM236.6 155.5h4.3l-2.2 -4.1z" fill="#ff78c8"/><path d="M232.4 155.3h4.3l-2.2 -4.1zM234 155.3h4.3l-2.2 -4.1zM235.7 155.3h4.3l-2.2 -4.1zM236.9 155.3h4.3l-2.2 -4.1zM233.2 155.3h4.3l-2.2 -4.1zM234.9 155.3h4.3l-2.2 -4.1z" fill="#ff78c8"/><path d="M229.2 122.5h4.3l-2.2 -4.1zM229.4 124.5h4.3l-2.2 -4.1zM229.6 128.4h4.3l-2.2 -4.1zM230 132.4h4.3l-2.2 -4.1zM230.4 135.5h4.3l-2.2 -4.1zM230.8 138.3h4.3l-2.2 -4.1zM231.2 141.4h4.3l-2.2 -4.1zM231.6 144.2h4.3l-2.2 -4.1zM232.4 147.4h4.3l-2.2 -4.1zM233.2 150.1h4.3l-2.2 -4.1zM234 154.1h4.3l-2.2 -4.1zM234.9 154.5h4.3l-2.2 -4.1z" fill="none" stroke="#1fc3ef" stroke-width=".95"/><path d="M245.8 151.3h4.3l-2.2 4.1zM247.8 151.1h4.3l-2.2 4.1zM251.5 151.3h4.3l-2.2 4.1zM246.2 151.3h4.3l-2.2 4.1zM252.7 150.9h4.3l-2.2 4.1zM256.8 151.5h4.3l-2.2 4.1zM241.3 151.3h4.3l-2.2 4.1zM243.8 151.1h4.3l-2.2 4.1zM239.7 151.3h4.3l-2.2 4.1z" fill="#62f74f"/><path d="M243.8 151.1h4.3l-2.2 4.1zM246.2 151.3h4.3l-2.2 4.1zM248.7 151.1h4.3l-2.2 4.1zM251.9 151.4h4.3l-2.2 4.1zM254.3 151.1h4.3l-2.2 4.1zM256.8 151.3h4.3l-2.2 4.1zM260 151.4h4.3l-2.2 4.1zM262.5 151.5h4.3l-2.2 4.1zM264.9 151h4.3l-2.2 4.1z" fill="none" stroke="#1f4fbf" stroke-width=".95"/><path d="M237.6 151.6h3.5v3.5h-3.5zM238.5 151.2h3.5v3.5h-3.5zM240.1 151.7h3.5v3.5h-3.5zM241.3 151.1h3.5v3.5h-3.5zM242.3 151.6h3.5v3.5h-3.5z" fill="#b4591a"/><path d="M237.6 151.7h3.5v3.5h-3.5zM238.9 151.4h3.5v3.5h-3.5zM240.9 151.4h3.5v3.5h-3.5zM241.5 151.6h3.5v3.5h-3.5zM243.5 151.8h3.5v3.5h-3.5z" fill="none" stroke="#d9731f" stroke-width=".95"/><path d="M234.9 151.6l3.5 3.5m0 -3.5l-3.5 3.5M236.9 151.6l3.5 3.5m0 -3.5l-3.5 3.5M239.4 151.3l3.5 3.5m0 -3.5l-3.5 3.5" fill="none" stroke="#8c8c8c" stroke-width=".95"/></g><g clip-path="url(#a4_4)"><path d="M233.9 179.8l2.2 2.2l-2.2 2.2l-2.2 -2.2z" fill="none" stroke="#8a35d2" stroke-width=".95"/><path d="M233.5 186.7a1.8 1.8 0 1 0 3.5 0a1.8 1.8 0 1 0 -3.5 0zM235.7 188.1a1.8 1.8 0 1 0 3.5 0a1.8 1.8 0 1 0 -3.5 0zM239.1 190a1.8 1.8 0 1 0 3.5 0a1.8 1.8 0 1 0 -3.5 0z" fill="#1c8a2c"/><path d="M232.1 174.8l2.2 2.2l-2.2 2.2l-2.2 -2.2zM232.1 183.8l2.2 2.2l-2.2 2.2l-2.2 -2.2zM232.5 184.6l2.2 2.2l-2.2 2.2l-2.2 -2.2zM232.5 185.4l2.2 2.2l-2.2 2.2l-2.2 -2.2zM232.9 186.6l2.2 2.2l-2.2 2.2l-2.2 -2.2z" fill="#b3a000"/><path d="M231.3 186.4a1.7 1.7 0 1 0 3.3 0a1.7 1.7 0 1 0 -3.3 0zM230.9 187.6a1.7 1.7 0 1 0 3.3 0a1.7 1.7 0 1 0 -3.3 0zM231.7 188.8a1.7 1.7 0 1 0 3.3 0a1.7 1.7 0 1 0 -3.3 0zM232.1 189.2a1.7 1.7 0 1 0 3.3 0a1.7 1.7 0 1 0 -3.3 0zM232.9 189.9a1.7 1.7 0 1 0 3.3 0a1.7 1.7 0 1 0 -3.3 0zM232.5 190.3a1.7 1.7 0 1 0 3.3 0a1.7 1.7 0 1 0 -3.3 0z" fill="none" stroke="#e5334b" stroke-width=".95"/><path d="M232.9 185.8l2.2 2.2l-2.2 2.2l-2.2 -2.2zM233.4 186.6l2.2 2.2l-2.2 2.2l-2.2 -2.2zM233.8 187.4l2.2 2.2l-2.2 2.2l-2.2 -2.2z" fill="#cc1638"/><path d="M232.7 189.5h4.3l-2.2 -4.1zM236.6 191.6h4.3l-2.2 -4.1z" fill="#ff78c8"/><path d="M232.4 191.6h4.3l-2.2 -4.1zM234 192h4.3l-2.2 -4.1zM235.7 192.3h4.3l-2.2 -4.1zM236.9 192.3h4.3l-2.2 -4.1zM233.2 191.2h4.3l-2.2 -4.1zM234.9 192.3h4.3l-2.2 -4.1z" fill="#ff78c8"/><path d="M229.2 162.4h4.3l-2.2 -4.1zM229.4 173.4h4.3l-2.2 -4.1zM229.6 174.2h4.3l-2.2 -4.1zM230 182.1h4.3l-2.2 -4.1zM230.4 182.9h4.3l-2.2 -4.1zM230.8 184.5h4.3l-2.2 -4.1zM231.2 185.6h4.3l-2.2 -4.1zM231.6 187.2h4.3l-2.2 -4.1zM232.4 189.2h4.3l-2.2 -4.1zM233.2 190.8h4.3l-2.2 -4.1zM234 191.6h4.3l-2.2 -4.1zM234.9 192.3h4.3l-2.2 -4.1z" fill="none" stroke="#1fc3ef" stroke-width=".95"/><path d="M245.8 189.2h4.3l-2.2 4.1zM247.8 189.1h4.3l-2.2 4.1zM251.5 189.8h4.3l-2.2 4.1zM246.2 189.2h4.3l-2.2 4.1zM252.7 189.7h4.3l-2.2 4.1zM256.8 189.7h4.3l-2.2 4.1zM241.3 189.6h4.3l-2.2 4.1zM243.8 189.9h4.3l-2.2 4.1zM239.7 189.8h4.3l-2.2 4.1z" fill="#62f74f"/><path d="M243.8 189.8h4.3l-2.2 4.1zM246.2 189.9h4.3l-2.2 4.1zM248.7 189.2h4.3l-2.2 4.1zM251.9 189.8h4.3l-2.2 4.1zM254.3 189.6h4.3l-2.2 4.1zM256.8 189.7h4.3l-2.2 4.1zM260 189.5h4.3l-2.2 4.1zM262.5 189.6h4.3l-2.2 4.1zM264.9 189.5h4.3l-2.2 4.1z" fill="none" stroke="#1f4fbf" stroke-width=".95"/><path d="M237.6 187.9h3.5v3.5h-3.5zM238.5 188.1h3.5v3.5h-3.5zM240.1 188.9h3.5v3.5h-3.5zM241.3 188.7h3.5v3.5h-3.5zM242.3 189.1h3.5v3.5h-3.5z" fill="#b4591a"/><path d="M237.6 187.8h3.5v3.5h-3.5zM238.9 188.2h3.5v3.5h-3.5zM240.9 189.2h3.5v3.5h-3.5zM241.5 189.1h3.5v3.5h-3.5zM243.5 189.4h3.5v3.5h-3.5z" fill="none" stroke="#d9731f" stroke-width=".95"/><path d="M234.9 185.8l3.5 3.5m0 -3.5l-3.5 3.5M236.9 187.4l3.5 3.5m0 -3.5l-3.5 3.5M239.4 188.4l3.5 3.5m0 -3.5l-3.5 3.5" fill="none" stroke="#8c8c8c" stroke-width=".95"/></g><g clip-path="url(#a4_5)"><path d="M233.9 218.9l2.2 2.2l-2.2 2.2l-2.2 -2.2z" fill="none" stroke="#8a35d2" stroke-width=".95"/><path d="M233.5 225.4a1.8 1.8 0 1 0 3.5 0a1.8 1.8 0 1 0 -3.5 0zM235.7 227.7a1.8 1.8 0 1 0 3.5 0a1.8 1.8 0 1 0 -3.5 0zM239.1 229.1a1.8 1.8 0 1 0 3.5 0a1.8 1.8 0 1 0 -3.5 0z" fill="#1c8a2c"/><path d="M232.1 216.2l2.2 2.2l-2.2 2.2l-2.2 -2.2zM232.1 222.1l2.2 2.2l-2.2 2.2l-2.2 -2.2zM232.5 222.9l2.2 2.2l-2.2 2.2l-2.2 -2.2zM232.5 223.7l2.2 2.2l-2.2 2.2l-2.2 -2.2zM232.9 224.5l2.2 2.2l-2.2 2.2l-2.2 -2.2z" fill="#b3a000"/><path d="M231.3 225.5a1.7 1.7 0 1 0 3.3 0a1.7 1.7 0 1 0 -3.3 0zM230.9 226.6a1.7 1.7 0 1 0 3.3 0a1.7 1.7 0 1 0 -3.3 0zM231.7 227.4a1.7 1.7 0 1 0 3.3 0a1.7 1.7 0 1 0 -3.3 0zM232.1 228.2a1.7 1.7 0 1 0 3.3 0a1.7 1.7 0 1 0 -3.3 0zM232.9 228.6a1.7 1.7 0 1 0 3.3 0a1.7 1.7 0 1 0 -3.3 0zM232.5 229a1.7 1.7 0 1 0 3.3 0a1.7 1.7 0 1 0 -3.3 0z" fill="none" stroke="#e5334b" stroke-width=".95"/><path d="M232.9 224.5l2.2 2.2l-2.2 2.2l-2.2 -2.2zM233.4 225.3l2.2 2.2l-2.2 2.2l-2.2 -2.2zM233.8 226.1l2.2 2.2l-2.2 2.2l-2.2 -2.2z" fill="#cc1638"/><path d="M232.7 228.6h4.3l-2.2 -4.1zM236.6 230.9h4.3l-2.2 -4.1z" fill="#ff78c8"/><path d="M232.4 231h4.3l-2.2 -4.1zM234 231.4h4.3l-2.2 -4.1zM235.7 231.8h4.3l-2.2 -4.1zM236.9 231.8h4.3l-2.2 -4.1zM233.2 230.6h4.3l-2.2 -4.1zM234.9 231.8h4.3l-2.2 -4.1z" fill="#ff78c8"/><path d="M229.2 202.2h4.3l-2.2 -4.1zM229.4 211.3h4.3l-2.2 -4.1zM229.6 212.1h4.3l-2.2 -4.1zM230 219.2h4.3l-2.2 -4.1zM230.4 220.4h4.3l-2.2 -4.1zM230.8 222.3h4.3l-2.2 -4.1zM231.2 224.3h4.3l-2.2 -4.1zM231.6 225.9h4.3l-2.2 -4.1zM232.4 227.5h4.3l-2.2 -4.1zM233.2 229h4.3l-2.2 -4.1zM234 230.2h4.3l-2.2 -4.1zM234.9 231h4.3l-2.2 -4.1z" fill="none" stroke="#1fc3ef" stroke-width=".95"/><path d="M245.8 228.2h4.3l-2.2 4.1zM247.8 228.3h4.3l-2.2 4.1zM251.5 228.9h4.3l-2.2 4.1zM246.2 228.9h4.3l-2.2 4.1zM252.7 228.6h4.3l-2.2 4.1zM256.8 228.8h4.3l-2.2 4.1zM241.3 228.5h4.3l-2.2 4.1zM243.8 228.3h4.3l-2.2 4.1zM239.7 228.5h4.3l-2.2 4.1z" fill="#62f74f"/><path d="M243.8 228.5h4.3l-2.2 4.1zM246.2 228.9h4.3l-2.2 4.1zM248.7 228.5h4.3l-2.2 4.1zM251.9 228.9h4.3l-2.2 4.1zM254.3 228.5h4.3l-2.2 4.1zM256.8 228.5h4.3l-2.2 4.1zM260 228.6h4.3l-2.2 4.1zM262.5 228.4h4.3l-2.2 4.1zM264.9 228.3h4.3l-2.2 4.1z" fill="none" stroke="#1f4fbf" stroke-width=".95"/><path d="M237.6 226.7h3.5v3.5h-3.5zM238.5 227.4h3.5v3.5h-3.5zM240.1 227.3h3.5v3.5h-3.5zM241.3 227.9h3.5v3.5h-3.5zM242.3 228.4h3.5v3.5h-3.5z" fill="#b4591a"/><path d="M237.6 227.1h3.5v3.5h-3.5zM238.9 227.6h3.5v3.5h-3.5zM240.9 227.8h3.5v3.5h-3.5zM241.5 227.7h3.5v3.5h-3.5zM243.5 228.5h3.5v3.5h-3.5z" fill="none" stroke="#d9731f" stroke-width=".95"/><path d="M234.9 224.9l3.5 3.5m0 -3.5l-3.5 3.5M236.9 226.4l3.5 3.5m0 -3.5l-3.5 3.5M239.4 227.8l3.5 3.5m0 -3.5l-3.5 3.5" fill="none" stroke="#8c8c8c" stroke-width=".95"/></g><g clip-path="url(#a4_6)"><path d="M233.9 259.1l2.2 2.2l-2.2 2.2l-2.2 -2.2z" fill="none" stroke="#8a35d2" stroke-width=".95"/><path d="M233.5 265a1.8 1.8 0 1 0 3.5 0a1.8 1.8 0 1 0 -3.5 0zM235.7 266.6a1.8 1.8 0 1 0 3.5 0a1.8 1.8 0 1 0 -3.5 0zM239.1 268.1a1.8 1.8 0 1 0 3.5 0a1.8 1.8 0 1 0 -3.5 0z" fill="#1c8a2c"/><path d="M232.1 256.1l2.2 2.2l-2.2 2.2l-2.2 -2.2zM232.1 257.2l2.2 2.2l-2.2 2.2l-2.2 -2.2zM232.5 258.4l2.2 2.2l-2.2 2.2l-2.2 -2.2zM232.5 259.6l2.2 2.2l-2.2 2.2l-2.2 -2.2zM232.9 261.6l2.2 2.2l-2.2 2.2l-2.2 -2.2z" fill="#b3a000"/><path d="M231.3 263.3a1.7 1.7 0 1 0 3.3 0a1.7 1.7 0 1 0 -3.3 0zM230.9 264.5a1.7 1.7 0 1 0 3.3 0a1.7 1.7 0 1 0 -3.3 0zM231.7 265.3a1.7 1.7 0 1 0 3.3 0a1.7 1.7 0 1 0 -3.3 0zM232.1 266.1a1.7 1.7 0 1 0 3.3 0a1.7 1.7 0 1 0 -3.3 0zM232.9 266.9a1.7 1.7 0 1 0 3.3 0a1.7 1.7 0 1 0 -3.3 0zM232.5 267.7a1.7 1.7 0 1 0 3.3 0a1.7 1.7 0 1 0 -3.3 0z" fill="none" stroke="#e5334b" stroke-width=".95"/><path d="M232.9 262.4l2.2 2.2l-2.2 2.2l-2.2 -2.2zM233.4 263.5l2.2 2.2l-2.2 2.2l-2.2 -2.2zM233.8 263.9l2.2 2.2l-2.2 2.2l-2.2 -2.2z" fill="#cc1638"/><path d="M232.7 268.4h4.3l-2.2 -4.1zM236.6 269.9h4.3l-2.2 -4.1z" fill="#ff78c8"/><path d="M232.4 268.9h4.3l-2.2 -4.1zM234 269.7h4.3l-2.2 -4.1zM235.7 270.1h4.3l-2.2 -4.1zM236.9 270.5h4.3l-2.2 -4.1zM233.2 268.1h4.3l-2.2 -4.1zM234.9 270.5h4.3l-2.2 -4.1z" fill="#ff78c8"/><path d="M229.2 243.2h4.3l-2.2 -4.1zM229.4 251.1h4.3l-2.2 -4.1zM229.6 252.7h4.3l-2.2 -4.1zM230 254.7h4.3l-2.2 -4.1zM230.4 264.2h4.3l-2.2 -4.1zM230.8 265.7h4.3l-2.2 -4.1zM231.2 267.3h4.3l-2.2 -4.1zM231.6 268.1h4.3l-2.2 -4.1zM232.4 269.3h4.3l-2.2 -4.1zM233.2 270.1h4.3l-2.2 -4.1zM234 270.9h4.3l-2.2 -4.1zM234.9 271.3h4.3l-2.2 -4.1z" fill="none" stroke="#1fc3ef" stroke-width=".95"/><path d="M245.8 267.7h4.3l-2.2 4.1zM247.8 267.8h4.3l-2.2 4.1zM251.5 268h4.3l-2.2 4.1zM246.2 267.7h4.3l-2.2 4.1zM252.7 267.8h4.3l-2.2 4.1zM256.8 267.7h4.3l-2.2 4.1zM241.3 267.3h4.3l-2.2 4.1zM243.8 267.4h4.3l-2.2 4.1zM239.7 268h4.3l-2.2 4.1z" fill="#62f74f"/><path d="M243.8 267.7h4.3l-2.2 4.1zM246.2 267.7h4.3l-2.2 4.1zM248.7 267.7h4.3l-2.2 4.1zM251.9 267.8h4.3l-2.2 4.1zM254.3 268h4.3l-2.2 4.1zM256.8 267.7h4.3l-2.2 4.1zM260 267.3h4.3l-2.2 4.1zM262.5 267.9h4.3l-2.2 4.1zM264.9 267.8h4.3l-2.2 4.1z" fill="none" stroke="#1f4fbf" stroke-width=".95"/><path d="M237.6 265.6h3.5v3.5h-3.5zM238.5 266.1h3.5v3.5h-3.5zM240.1 266.5h3.5v3.5h-3.5zM241.3 266.7h3.5v3.5h-3.5zM242.3 266.9h3.5v3.5h-3.5z" fill="#b4591a"/><path d="M237.6 265.7h3.5v3.5h-3.5zM238.9 266.8h3.5v3.5h-3.5zM240.9 266.6h3.5v3.5h-3.5zM241.5 266.7h3.5v3.5h-3.5zM243.5 267.2h3.5v3.5h-3.5z" fill="none" stroke="#d9731f" stroke-width=".95"/><path d="M234.9 264.6l3.5 3.5m0 -3.5l-3.5 3.5M236.9 265.8l3.5 3.5m0 -3.5l-3.5 3.5M239.4 266.2l3.5 3.5m0 -3.5l-3.5 3.5" fill="none" stroke="#8c8c8c" stroke-width=".95"/></g><g clip-path="url(#a4_7)"><path d="M233.9 298.6l2.2 2.2l-2.2 2.2l-2.2 -2.2z" fill="none" stroke="#8a35d2" stroke-width=".95"/><path d="M233.5 304.6a1.8 1.8 0 1 0 3.5 0a1.8 1.8 0 1 0 -3.5 0zM235.7 306.3a1.8 1.8 0 1 0 3.5 0a1.8 1.8 0 1 0 -3.5 0zM239.1 307.8a1.8 1.8 0 1 0 3.5 0a1.8 1.8 0 1 0 -3.5 0z" fill="#1c8a2c"/><path d="M232.1 297.1l2.2 2.2l-2.2 2.2l-2.2 -2.2zM232.1 297.9l2.2 2.2l-2.2 2.2l-2.2 -2.2zM232.5 298.7l2.2 2.2l-2.2 2.2l-2.2 -2.2zM232.5 299.5l2.2 2.2l-2.2 2.2l-2.2 -2.2zM232.9 301.4l2.2 2.2l-2.2 2.2l-2.2 -2.2z" fill="#b3a000"/><path d="M231.3 304a1.7 1.7 0 1 0 3.3 0a1.7 1.7 0 1 0 -3.3 0zM230.9 304.8a1.7 1.7 0 1 0 3.3 0a1.7 1.7 0 1 0 -3.3 0zM231.7 305.2a1.7 1.7 0 1 0 3.3 0a1.7 1.7 0 1 0 -3.3 0zM232.1 306a1.7 1.7 0 1 0 3.3 0a1.7 1.7 0 1 0 -3.3 0zM232.9 306.3a1.7 1.7 0 1 0 3.3 0a1.7 1.7 0 1 0 -3.3 0zM232.5 306.7a1.7 1.7 0 1 0 3.3 0a1.7 1.7 0 1 0 -3.3 0z" fill="none" stroke="#e5334b" stroke-width=".95"/><path d="M232.9 302.6l2.2 2.2l-2.2 2.2l-2.2 -2.2zM233.4 303.4l2.2 2.2l-2.2 2.2l-2.2 -2.2zM233.8 303.8l2.2 2.2l-2.2 2.2l-2.2 -2.2z" fill="#cc1638"/><path d="M232.7 307.9h4.3l-2.2 -4.1zM236.6 310h4.3l-2.2 -4.1z" fill="#ff78c8"/><path d="M232.4 309.1h4.3l-2.2 -4.1zM234 309.5h4.3l-2.2 -4.1zM235.7 309.9h4.3l-2.2 -4.1zM236.9 310.3h4.3l-2.2 -4.1zM233.2 308.4h4.3l-2.2 -4.1zM234.9 310.3h4.3l-2.2 -4.1z" fill="#ff78c8"/><path d="M229.2 282.3h4.3l-2.2 -4.1zM229.4 292.2h4.3l-2.2 -4.1zM229.6 294.2h4.3l-2.2 -4.1zM230 296.1h4.3l-2.2 -4.1zM230.4 300.5h4.3l-2.2 -4.1zM230.8 301.7h4.3l-2.2 -4.1zM231.2 303.2h4.3l-2.2 -4.1zM231.6 304.4h4.3l-2.2 -4.1zM232.4 306h4.3l-2.2 -4.1zM233.2 307.6h4.3l-2.2 -4.1zM234 308.8h4.3l-2.2 -4.1zM234.9 309.5h4.3l-2.2 -4.1z" fill="none" stroke="#1fc3ef" stroke-width=".95"/><path d="M245.8 307h4.3l-2.2 4.1zM247.8 307.2h4.3l-2.2 4.1zM251.5 306.9h4.3l-2.2 4.1zM246.2 307.1h4.3l-2.2 4.1zM252.7 306.8h4.3l-2.2 4.1zM256.8 307h4.3l-2.2 4.1zM241.3 307h4.3l-2.2 4.1zM243.8 306.8h4.3l-2.2 4.1zM239.7 307.4h4.3l-2.2 4.1z" fill="#62f74f"/><path d="M243.8 307.5h4.3l-2.2 4.1zM246.2 306.8h4.3l-2.2 4.1zM248.7 306.7h4.3l-2.2 4.1zM251.9 306.9h4.3l-2.2 4.1zM254.3 307.5h4.3l-2.2 4.1zM256.8 307.3h4.3l-2.2 4.1zM260 306.9h4.3l-2.2 4.1zM262.5 307.1h4.3l-2.2 4.1zM264.9 306.9h4.3l-2.2 4.1z" fill="none" stroke="#1f4fbf" stroke-width=".95"/><path d="M237.6 305.2h3.5v3.5h-3.5zM238.5 305.9h3.5v3.5h-3.5zM240.1 306.5h3.5v3.5h-3.5zM241.3 306.6h3.5v3.5h-3.5zM242.3 306.8h3.5v3.5h-3.5z" fill="#b4591a"/><path d="M237.6 305.3h3.5v3.5h-3.5zM238.9 306h3.5v3.5h-3.5zM240.9 306.1h3.5v3.5h-3.5zM241.5 306.3h3.5v3.5h-3.5zM243.5 306.5h3.5v3.5h-3.5z" fill="none" stroke="#d9731f" stroke-width=".95"/><path d="M234.9 303.5l3.5 3.5m0 -3.5l-3.5 3.5M236.9 305.3l3.5 3.5m0 -3.5l-3.5 3.5M239.4 305.8l3.5 3.5m0 -3.5l-3.5 3.5" fill="none" stroke="#8c8c8c" stroke-width=".95"/></g><g clip-path="url(#a4_8)"><path d="M233.9 348.1l2.2 2.2l-2.2 2.2l-2.2 -2.2z" fill="none" stroke="#8a35d2" stroke-width=".95"/><path d="M229.2 354.1h4.3l-2.2 -4.1zM229.4 352.6h4.3l-2.2 -4.1zM229.6 350.6h4.3l-2.2 -4.1zM230 347.8h4.3l-2.2 -4.1zM230.4 345.5h4.3l-2.2 -4.1zM230.8 332.8h4.3l-2.2 -4.1zM231.2 343.1h4.3l-2.2 -4.1zM231.6 355.3h4.3l-2.2 -4.1zM232.4 331.2h4.3l-2.2 -4.1zM233.2 333.6h4.3l-2.2 -4.1zM234 331.6h4.3l-2.2 -4.1zM234.9 335.6h4.3l-2.2 -4.1z" fill="none" stroke="#1fc3ef" stroke-width=".95"/><path d="M232.1 340.1l2.2 2.2l-2.2 2.2l-2.2 -2.2zM232.1 342.1l2.2 2.2l-2.2 2.2l-2.2 -2.2zM232.5 341.3l2.2 2.2l-2.2 2.2l-2.2 -2.2zM232.5 350l2.2 2.2l-2.2 2.2l-2.2 -2.2zM232.9 343.3l2.2 2.2l-2.2 2.2l-2.2 -2.2z" fill="#b3a000"/><path d="M231.3 342.3a1.7 1.7 0 1 0 3.3 0a1.7 1.7 0 1 0 -3.3 0zM230.9 344.6a1.7 1.7 0 1 0 3.3 0a1.7 1.7 0 1 0 -3.3 0zM231.7 346.6a1.7 1.7 0 1 0 3.3 0a1.7 1.7 0 1 0 -3.3 0zM232.1 348.6a1.7 1.7 0 1 0 3.3 0a1.7 1.7 0 1 0 -3.3 0zM232.9 350.5a1.7 1.7 0 1 0 3.3 0a1.7 1.7 0 1 0 -3.3 0zM232.5 351.7a1.7 1.7 0 1 0 3.3 0a1.7 1.7 0 1 0 -3.3 0z" fill="none" stroke="#e5334b" stroke-width=".95"/><path d="M232.9 345.2l2.2 2.2l-2.2 2.2l-2.2 -2.2zM233.4 346.8l2.2 2.2l-2.2 2.2l-2.2 -2.2zM233.8 343.7l2.2 2.2l-2.2 2.2l-2.2 -2.2z" fill="#cc1638"/><path d="M232.7 338h4.3l-2.2 -4.1zM236.6 338.4h4.3l-2.2 -4.1z" fill="#ff78c8"/><path d="M232.4 337.6h4.3l-2.2 -4.1zM234 339.9h4.3l-2.2 -4.1zM235.7 341.5h4.3l-2.2 -4.1zM236.9 342.3h4.3l-2.2 -4.1zM233.2 339.1h4.3l-2.2 -4.1zM234.9 338.3h4.3l-2.2 -4.1z" fill="#ff78c8"/><path d="M245.8 335.5h4.3l-2.2 4.1zM247.8 336.7h4.3l-2.2 4.1zM251.5 337.5h4.3l-2.2 4.1zM246.2 335.9h4.3l-2.2 4.1zM252.7 337.9h4.3l-2.2 4.1zM256.8 338.3h4.3l-2.2 4.1zM241.3 329.6h4.3l-2.2 4.1zM243.8 335.5h4.3l-2.2 4.1zM239.7 328.8h4.3l-2.2 4.1z" fill="#62f74f"/><path d="M243.8 333.5h4.3l-2.2 4.1zM246.2 316.2h4.3l-2.2 4.1zM248.7 331.2h4.3l-2.2 4.1zM251.9 322.1h4.3l-2.2 4.1zM254.3 329.6h4.3l-2.2 4.1zM256.8 332.8h4.3l-2.2 4.1zM260 330.4h4.3l-2.2 4.1zM262.5 332.4h4.3l-2.2 4.1zM264.9 331.6h4.3l-2.2 4.1z" fill="none" stroke="#1f4fbf" stroke-width=".95"/><path d="M237.6 330.7h3.5v3.5h-3.5zM238.5 329.2h3.5v3.5h-3.5zM240.1 329.1h3.5v3.5h-3.5zM241.3 328.9h3.5v3.5h-3.5zM242.3 330.8h3.5v3.5h-3.5z" fill="#b4591a"/><path d="M237.6 332.8h3.5v3.5h-3.5zM238.9 332.1h3.5v3.5h-3.5zM240.9 329.4h3.5v3.5h-3.5zM241.5 328.7h3.5v3.5h-3.5zM243.5 331h3.5v3.5h-3.5z" fill="none" stroke="#d9731f" stroke-width=".95"/><path d="M233.5 329.2a1.8 1.8 0 1 0 3.5 0a1.8 1.8 0 1 0 -3.5 0zM235.7 331.3a1.8 1.8 0 1 0 3.5 0a1.8 1.8 0 1 0 -3.5 0zM239.1 330.3a1.8 1.8 0 1 0 3.5 0a1.8 1.8 0 1 0 -3.5 0z" fill="#1c8a2c"/><path d="M234.9 331.5l3.5 3.5m0 -3.5l-3.5 3.5M236.9 334.1l3.5 3.5m0 -3.5l-3.5 3.5M239.4 331.5l3.5 3.5m0 -3.5l-3.5 3.5" fill="none" stroke="#8c8c8c" stroke-width=".95"/></g><g clip-path="url(#a5_0)"><path d="M275.5 29.1l2.2 2.2l-2.2 2.2l-2.2 -2.2z" fill="none" stroke="#8a35d2" stroke-width=".95"/><path d="M279.3 32a1.8 1.8 0 1 0 3.5 0a1.8 1.8 0 1 0 -3.5 0zM281.7 32.6a1.8 1.8 0 1 0 3.5 0a1.8 1.8 0 1 0 -3.5 0zM280.4 32.8a1.8 1.8 0 1 0 3.5 0a1.8 1.8 0 1 0 -3.5 0z" fill="#1c8a2c"/><path d="M280.9 -.4l2.2 2.2l-2.2 2.2l-2.2 -2.2zM282.1 .7l2.2 2.2l-2.2 2.2l-2.2 -2.2zM282.9 1.9l2.2 2.2l-2.2 2.2l-2.2 -2.2zM283.7 3.1l2.2 2.2l-2.2 2.2l-2.2 -2.2zM279.2 19.7l2.2 2.2l-2.2 2.2l-2.2 -2.2z" fill="#b3a000"/><path d="M270.3 14.3a1.7 1.7 0 1 0 3.3 0a1.7 1.7 0 1 0 -3.3 0zM271.9 27.4a1.7 1.7 0 1 0 3.3 0a1.7 1.7 0 1 0 -3.3 0zM273.5 29.3a1.7 1.7 0 1 0 3.3 0a1.7 1.7 0 1 0 -3.3 0zM270.7 30.9a1.7 1.7 0 1 0 3.3 0a1.7 1.7 0 1 0 -3.3 0zM274.7 32.5a1.7 1.7 0 1 0 3.3 0a1.7 1.7 0 1 0 -3.3 0zM272.7 33.7a1.7 1.7 0 1 0 3.3 0a1.7 1.7 0 1 0 -3.3 0z" fill="none" stroke="#e5334b" stroke-width=".95"/><path d="M272.7 29.6l2.2 2.2l-2.2 2.2l-2.2 -2.2zM274 30.7l2.2 2.2l-2.2 2.2l-2.2 -2.2zM271.9 31.9l2.2 2.2l-2.2 2.2l-2.2 -2.2z" fill="#cc1638"/><path d="M287.1 34.4h4.3l-2.2 -4.1zM288 35.3h4.3l-2.2 -4.1z" fill="#ff78c8"/><path d="M287.2 31.3h4.3l-2.2 -4.1zM288.4 31.7h4.3l-2.2 -4.1zM299.8 32.1h4.3l-2.2 -4.1zM304.7 30.6h4.3l-2.2 -4.1zM289.7 28.6h4.3l-2.2 -4.1zM293.3 32.9h4.3l-2.2 -4.1z" fill="#ff78c8"/><path d="M278.3 18.3h4.3l-2.2 -4.1zM277.1 21.9h4.3l-2.2 -4.1zM281.5 23.5h4.3l-2.2 -4.1zM282.8 25h4.3l-2.2 -4.1zM279.5 26.6h4.3l-2.2 -4.1zM280.3 27.8h4.3l-2.2 -4.1zM277.9 29.4h4.3l-2.2 -4.1zM280.3 30.6h4.3l-2.2 -4.1zM276.3 31.3h4.3l-2.2 -4.1zM278.7 32.5h4.3l-2.2 -4.1zM281.1 33.3h4.3l-2.2 -4.1zM283.6 34.1h4.3l-2.2 -4.1z" fill="none" stroke="#1fc3ef" stroke-width=".95"/><path d="M295.8 31.2h4.3l-2.2 4.1zM299 31.6h4.3l-2.2 4.1zM299.4 31.1h4.3l-2.2 4.1zM294.5 31.6h4.3l-2.2 4.1zM299.4 31h4.3l-2.2 4.1zM301.4 30.9h4.3l-2.2 4.1zM283.6 31.5h4.3l-2.2 4.1zM285.2 31.3h4.3l-2.2 4.1zM282.8 31h4.3l-2.2 4.1z" fill="#62f74f"/><path d="M288.4 31.4h4.3l-2.2 4.1zM286.8 31.3h4.3l-2.2 4.1zM289.7 31.6h4.3l-2.2 4.1zM287.2 31.6h4.3l-2.2 4.1zM290.5 31.5h4.3l-2.2 4.1zM286 31.5h4.3l-2.2 4.1zM289.3 31h4.3l-2.2 4.1zM285.6 31.4h4.3l-2.2 4.1zM290.9 31.6h4.3l-2.2 4.1z" fill="none" stroke="#1f4fbf" stroke-width=".95"/><path d="M291.6 31.2h3.5v3.5h-3.5zM282.4 31.1h3.5v3.5h-3.5zM285.8 30.9h3.5v3.5h-3.5zM285.2 31.3h3.5v3.5h-3.5zM284.2 31.6h3.5v3.5h-3.5z" fill="#b4591a"/><path d="M285.1 31.5h3.5v3.5h-3.5zM285.4 31.5h3.5v3.5h-3.5zM281 31h3.5v3.5h-3.5zM282.9 31.1h3.5v3.5h-3.5zM283.7 31.4h3.5v3.5h-3.5z" fill="none" stroke="#d9731f" stroke-width=".95"/><path d="M283.4 30.7l3.5 3.5m0 -3.5l-3.5 3.5M284.8 31.1l3.5 3.5m0 -3.5l-3.5 3.5M285.4 31.3l3.5 3.5m0 -3.5l-3.5 3.5" fill="none" stroke="#8c8c8c" stroke-width=".95"/></g><g clip-path="url(#a5_1)"><path d="M275.5 71.8l2.2 2.2l-2.2 2.2l-2.2 -2.2z" fill="none" stroke="#8a35d2" stroke-width=".95"/><path d="M279.3 74.6a1.8 1.8 0 1 0 3.5 0a1.8 1.8 0 1 0 -3.5 0zM281.7 73.7a1.8 1.8 0 1 0 3.5 0a1.8 1.8 0 1 0 -3.5 0zM280.4 72a1.8 1.8 0 1 0 3.5 0a1.8 1.8 0 1 0 -3.5 0z" fill="#1c8a2c"/><path d="M280.9 73l2.2 2.2l-2.2 2.2l-2.2 -2.2zM282.1 73l2.2 2.2l-2.2 2.2l-2.2 -2.2zM282.9 73l2.2 2.2l-2.2 2.2l-2.2 -2.2zM283.7 73l2.2 2.2l-2.2 2.2l-2.2 -2.2zM279.2 72.6l2.2 2.2l-2.2 2.2l-2.2 -2.2z" fill="#b3a000"/><path d="M270.3 74.3a1.7 1.7 0 1 0 3.3 0a1.7 1.7 0 1 0 -3.3 0zM271.9 74.3a1.7 1.7 0 1 0 3.3 0a1.7 1.7 0 1 0 -3.3 0zM273.5 74.3a1.7 1.7 0 1 0 3.3 0a1.7 1.7 0 1 0 -3.3 0zM270.7 74.3a1.7 1.7 0 1 0 3.3 0a1.7 1.7 0 1 0 -3.3 0zM274.7 74.3a1.7 1.7 0 1 0 3.3 0a1.7 1.7 0 1 0 -3.3 0zM272.7 74.3a1.7 1.7 0 1 0 3.3 0a1.7 1.7 0 1 0 -3.3 0z" fill="none" stroke="#e5334b" stroke-width=".95"/><path d="M272.7 72.2l2.2 2.2l-2.2 2.2l-2.2 -2.2zM274 72.2l2.2 2.2l-2.2 2.2l-2.2 -2.2zM271.9 72.2l2.2 2.2l-2.2 2.2l-2.2 -2.2z" fill="#cc1638"/><path d="M287.1 77h4.3l-2.2 -4.1zM288 75.7h4.3l-2.2 -4.1z" fill="#ff78c8"/><path d="M287.2 76.3h4.3l-2.2 -4.1zM288.4 76.3h4.3l-2.2 -4.1zM299.8 76.3h4.3l-2.2 -4.1zM304.7 76.3h4.3l-2.2 -4.1zM289.7 76.3h4.3l-2.2 -4.1zM293.3 76.7h4.3l-2.2 -4.1z" fill="#ff78c8"/><path d="M278.3 77.5h4.3l-2.2 -4.1zM277.1 77.5h4.3l-2.2 -4.1zM281.5 77.5h4.3l-2.2 -4.1zM282.8 77.1h4.3l-2.2 -4.1zM279.5 77.5h4.3l-2.2 -4.1zM280.3 77.1h4.3l-2.2 -4.1zM277.9 77.1h4.3l-2.2 -4.1zM280.3 77.1h4.3l-2.2 -4.1zM276.3 76.7h4.3l-2.2 -4.1zM278.7 76.7h4.3l-2.2 -4.1zM281.1 76.3h4.3l-2.2 -4.1zM283.6 76.3h4.3l-2.2 -4.1z" fill="none" stroke="#1fc3ef" stroke-width=".95"/><path d="M295.8 41.9h4.3l-2.2 4.1zM299 41.9h4.3l-2.2 4.1zM299.4 52.2h4.3l-2.2 4.1zM294.5 56.5h4.3l-2.2 4.1zM299.4 56.5h4.3l-2.2 4.1zM301.4 62.5h4.3l-2.2 4.1zM283.6 67.2h4.3l-2.2 4.1zM285.2 66.4h4.3l-2.2 4.1zM282.8 67.6h4.3l-2.2 4.1z" fill="#62f74f"/><path d="M288.4 66.4h4.3l-2.2 4.1zM286.8 68.5h4.3l-2.2 4.1zM289.7 67.1h4.3l-2.2 4.1zM287.2 65.1h4.3l-2.2 4.1zM290.5 67.3h4.3l-2.2 4.1zM286 65.4h4.3l-2.2 4.1zM289.3 67.4h4.3l-2.2 4.1zM285.6 64.4h4.3l-2.2 4.1zM290.9 65.7h4.3l-2.2 4.1z" fill="none" stroke="#1f4fbf" stroke-width=".95"/><path d="M291.6 72.9h3.5v3.5h-3.5zM282.4 71.2h3.5v3.5h-3.5zM285.8 70.5h3.5v3.5h-3.5zM285.2 70.4h3.5v3.5h-3.5zM284.2 69.4h3.5v3.5h-3.5z" fill="#b4591a"/><path d="M285.1 72.6h3.5v3.5h-3.5zM285.4 70.6h3.5v3.5h-3.5zM281 70h3.5v3.5h-3.5zM282.9 68.9h3.5v3.5h-3.5zM283.7 68.1h3.5v3.5h-3.5z" fill="none" stroke="#d9731f" stroke-width=".95"/><path d="M283.4 71.8l3.5 3.5m0 -3.5l-3.5 3.5M284.8 70.8l3.5 3.5m0 -3.5l-3.5 3.5M285.4 71.2l3.5 3.5m0 -3.5l-3.5 3.5" fill="none" stroke="#8c8c8c" stroke-width=".95"/></g><g clip-path="url(#a5_2)"><path d="M275.5 111.2l2.2 2.2l-2.2 2.2l-2.2 -2.2z" fill="none" stroke="#8a35d2" stroke-width=".95"/><path d="M279.3 113.4a1.8 1.8 0 1 0 3.5 0a1.8 1.8 0 1 0 -3.5 0zM281.7 113.6a1.8 1.8 0 1 0 3.5 0a1.8 1.8 0 1 0 -3.5 0zM280.4 113.7a1.8 1.8 0 1 0 3.5 0a1.8 1.8 0 1 0 -3.5 0z" fill="#1c8a2c"/><path d="M280.9 89.9l2.2 2.2l-2.2 2.2l-2.2 -2.2zM282.1 95.8l2.2 2.2l-2.2 2.2l-2.2 -2.2zM282.9 110.4l2.2 2.2l-2.2 2.2l-2.2 -2.2zM283.7 110.8l2.2 2.2l-2.2 2.2l-2.2 -2.2zM279.2 110.8l2.2 2.2l-2.2 2.2l-2.2 -2.2z" fill="#b3a000"/><path d="M270.3 113.4a1.7 1.7 0 1 0 3.3 0a1.7 1.7 0 1 0 -3.3 0zM271.9 113.4a1.7 1.7 0 1 0 3.3 0a1.7 1.7 0 1 0 -3.3 0zM273.5 113.4a1.7 1.7 0 1 0 3.3 0a1.7 1.7 0 1 0 -3.3 0zM270.7 113.4a1.7 1.7 0 1 0 3.3 0a1.7 1.7 0 1 0 -3.3 0zM274.7 113.8a1.7 1.7 0 1 0 3.3 0a1.7 1.7 0 1 0 -3.3 0zM272.7 113.8a1.7 1.7 0 1 0 3.3 0a1.7 1.7 0 1 0 -3.3 0z" fill="none" stroke="#e5334b" stroke-width=".95"/><path d="M272.7 111.2l2.2 2.2l-2.2 2.2l-2.2 -2.2zM274 111.2l2.2 2.2l-2.2 2.2l-2.2 -2.2zM271.9 111.6l2.2 2.2l-2.2 2.2l-2.2 -2.2z" fill="#cc1638"/><path d="M287.1 115.9h4.3l-2.2 -4.1zM288 115.8h4.3l-2.2 -4.1z" fill="#ff78c8"/><path d="M287.2 115.4h4.3l-2.2 -4.1zM288.4 115.4h4.3l-2.2 -4.1zM299.8 115.8h4.3l-2.2 -4.1zM304.7 115.8h4.3l-2.2 -4.1zM289.7 115.4h4.3l-2.2 -4.1zM293.3 115.8h4.3l-2.2 -4.1z" fill="#ff78c8"/><path d="M278.3 84.2h4.3l-2.2 -4.1zM277.1 95.3h4.3l-2.2 -4.1zM281.5 99.2h4.3l-2.2 -4.1zM282.8 106.3h4.3l-2.2 -4.1zM279.5 108.7h4.3l-2.2 -4.1zM280.3 110.3h4.3l-2.2 -4.1zM277.9 112.2h4.3l-2.2 -4.1zM280.3 114.2h4.3l-2.2 -4.1zM276.3 115h4.3l-2.2 -4.1zM278.7 115.4h4.3l-2.2 -4.1zM281.1 115.8h4.3l-2.2 -4.1zM283.6 115.8h4.3l-2.2 -4.1z" fill="none" stroke="#1fc3ef" stroke-width=".95"/><path d="M295.8 111.7h4.3l-2.2 4.1zM299 111.6h4.3l-2.2 4.1zM299.4 112.2h4.3l-2.2 4.1zM294.5 112h4.3l-2.2 4.1zM299.4 111.5h4.3l-2.2 4.1zM301.4 112.1h4.3l-2.2 4.1zM283.6 112.2h4.3l-2.2 4.1zM285.2 111.7h4.3l-2.2 4.1zM282.8 111.9h4.3l-2.2 4.1z" fill="#62f74f"/><path d="M288.4 112.1h4.3l-2.2 4.1zM286.8 112.1h4.3l-2.2 4.1zM289.7 112h4.3l-2.2 4.1zM287.2 111.5h4.3l-2.2 4.1zM290.5 111.7h4.3l-2.2 4.1zM286 111.6h4.3l-2.2 4.1zM289.3 111.6h4.3l-2.2 4.1zM285.6 111.4h4.3l-2.2 4.1zM290.9 111.6h4.3l-2.2 4.1z" fill="none" stroke="#1f4fbf" stroke-width=".95"/><path d="M291.6 112.1h3.5v3.5h-3.5zM282.4 111.7h3.5v3.5h-3.5zM285.8 112.2h3.5v3.5h-3.5zM285.2 112.3h3.5v3.5h-3.5zM284.2 111.9h3.5v3.5h-3.5z" fill="#b4591a"/><path d="M285.1 112.2h3.5v3.5h-3.5zM285.4 111.5h3.5v3.5h-3.5zM281 112.2h3.5v3.5h-3.5zM282.9 111.7h3.5v3.5h-3.5zM283.7 112.4h3.5v3.5h-3.5z" fill="none" stroke="#d9731f" stroke-width=".95"/><path d="M283.4 111.5l3.5 3.5m0 -3.5l-3.5 3.5M284.8 111.6l3.5 3.5m0 -3.5l-3.5 3.5M285.4 112.1l3.5 3.5m0 -3.5l-3.5 3.5" fill="none" stroke="#8c8c8c" stroke-width=".95"/></g><g clip-path="url(#a5_3)"><path d="M275.5 150.6l2.2 2.2l-2.2 2.2l-2.2 -2.2z" fill="none" stroke="#8a35d2" stroke-width=".95"/><path d="M279.3 153a1.8 1.8 0 1 0 3.5 0a1.8 1.8 0 1 0 -3.5 0zM281.7 153.1a1.8 1.8 0 1 0 3.5 0a1.8 1.8 0 1 0 -3.5 0zM280.4 153.1a1.8 1.8 0 1 0 3.5 0a1.8 1.8 0 1 0 -3.5 0z" fill="#1c8a2c"/><path d="M280.9 151.1l2.2 2.2l-2.2 2.2l-2.2 -2.2zM282.1 151.1l2.2 2.2l-2.2 2.2l-2.2 -2.2zM282.9 151.1l2.2 2.2l-2.2 2.2l-2.2 -2.2zM283.7 151.1l2.2 2.2l-2.2 2.2l-2.2 -2.2zM279.2 150.7l2.2 2.2l-2.2 2.2l-2.2 -2.2z" fill="#b3a000"/><path d="M270.3 153.2a1.7 1.7 0 1 0 3.3 0a1.7 1.7 0 1 0 -3.3 0zM271.9 153.2a1.7 1.7 0 1 0 3.3 0a1.7 1.7 0 1 0 -3.3 0zM273.5 153.2a1.7 1.7 0 1 0 3.3 0a1.7 1.7 0 1 0 -3.3 0zM270.7 153.2a1.7 1.7 0 1 0 3.3 0a1.7 1.7 0 1 0 -3.3 0zM274.7 153.2a1.7 1.7 0 1 0 3.3 0a1.7 1.7 0 1 0 -3.3 0zM272.7 153.2a1.7 1.7 0 1 0 3.3 0a1.7 1.7 0 1 0 -3.3 0z" fill="none" stroke="#e5334b" stroke-width=".95"/><path d="M272.7 151.1l2.2 2.2l-2.2 2.2l-2.2 -2.2zM274 151.1l2.2 2.2l-2.2 2.2l-2.2 -2.2zM271.9 151.1l2.2 2.2l-2.2 2.2l-2.2 -2.2z" fill="#cc1638"/><path d="M287.1 155.1h4.3l-2.2 -4.1zM288 155.5h4.3l-2.2 -4.1z" fill="#ff78c8"/><path d="M287.2 155.3h4.3l-2.2 -4.1zM288.4 155.3h4.3l-2.2 -4.1zM299.8 155.3h4.3l-2.2 -4.1zM304.7 155.3h4.3l-2.2 -4.1zM289.7 155.3h4.3l-2.2 -4.1zM293.3 155.3h4.3l-2.2 -4.1z" fill="#ff78c8"/><path d="M278.3 122.5h4.3l-2.2 -4.1zM277.1 124.5h4.3l-2.2 -4.1zM281.5 128.4h4.3l-2.2 -4.1zM282.8 132.4h4.3l-2.2 -4.1zM279.5 135.5h4.3l-2.2 -4.1zM280.3 138.3h4.3l-2.2 -4.1zM277.9 141.4h4.3l-2.2 -4.1zM280.3 144.2h4.3l-2.2 -4.1zM276.3 147.4h4.3l-2.2 -4.1zM278.7 150.1h4.3l-2.2 -4.1zM281.1 154.1h4.3l-2.2 -4.1zM283.6 154.5h4.3l-2.2 -4.1z" fill="none" stroke="#1fc3ef" stroke-width=".95"/><path d="M295.8 151.3h4.3l-2.2 4.1zM299 151.1h4.3l-2.2 4.1zM299.4 151.3h4.3l-2.2 4.1zM294.5 151.3h4.3l-2.2 4.1zM299.4 150.9h4.3l-2.2 4.1zM301.4 151.5h4.3l-2.2 4.1zM283.6 151.3h4.3l-2.2 4.1zM285.2 151.1h4.3l-2.2 4.1zM282.8 151.3h4.3l-2.2 4.1z" fill="#62f74f"/><path d="M288.4 151.1h4.3l-2.2 4.1zM286.8 151.3h4.3l-2.2 4.1zM289.7 151.1h4.3l-2.2 4.1zM287.2 151.4h4.3l-2.2 4.1zM290.5 151.1h4.3l-2.2 4.1zM286 151.3h4.3l-2.2 4.1zM289.3 151.4h4.3l-2.2 4.1zM285.6 151.5h4.3l-2.2 4.1zM290.9 151h4.3l-2.2 4.1z" fill="none" stroke="#1f4fbf" stroke-width=".95"/><path d="M291.6 151.6h3.5v3.5h-3.5zM282.4 151.2h3.5v3.5h-3.5zM285.8 151.7h3.5v3.5h-3.5zM285.2 151.1h3.5v3.5h-3.5zM284.2 151.6h3.5v3.5h-3.5z" fill="#b4591a"/><path d="M285.1 151.7h3.5v3.5h-3.5zM285.4 151.4h3.5v3.5h-3.5zM281 151.4h3.5v3.5h-3.5zM282.9 151.6h3.5v3.5h-3.5zM283.7 151.8h3.5v3.5h-3.5z" fill="none" stroke="#d9731f" stroke-width=".95"/><path d="M283.4 151.6l3.5 3.5m0 -3.5l-3.5 3.5M284.8 151.6l3.5 3.5m0 -3.5l-3.5 3.5M285.4 151.3l3.5 3.5m0 -3.5l-3.5 3.5" fill="none" stroke="#8c8c8c" stroke-width=".95"/></g><g clip-path="url(#a5_4)"><path d="M275.5 179.8l2.2 2.2l-2.2 2.2l-2.2 -2.2z" fill="none" stroke="#8a35d2" stroke-width=".95"/><path d="M279.3 186.7a1.8 1.8 0 1 0 3.5 0a1.8 1.8 0 1 0 -3.5 0zM281.7 188.1a1.8 1.8 0 1 0 3.5 0a1.8 1.8 0 1 0 -3.5 0zM280.4 190a1.8 1.8 0 1 0 3.5 0a1.8 1.8 0 1 0 -3.5 0z" fill="#1c8a2c"/><path d="M280.9 174.8l2.2 2.2l-2.2 2.2l-2.2 -2.2zM282.1 183.8l2.2 2.2l-2.2 2.2l-2.2 -2.2zM282.9 184.6l2.2 2.2l-2.2 2.2l-2.2 -2.2zM283.7 185.4l2.2 2.2l-2.2 2.2l-2.2 -2.2zM279.2 186.6l2.2 2.2l-2.2 2.2l-2.2 -2.2z" fill="#b3a000"/><path d="M270.3 186.4a1.7 1.7 0 1 0 3.3 0a1.7 1.7 0 1 0 -3.3 0zM271.9 187.6a1.7 1.7 0 1 0 3.3 0a1.7 1.7 0 1 0 -3.3 0zM273.5 188.8a1.7 1.7 0 1 0 3.3 0a1.7 1.7 0 1 0 -3.3 0zM270.7 189.2a1.7 1.7 0 1 0 3.3 0a1.7 1.7 0 1 0 -3.3 0zM274.7 189.9a1.7 1.7 0 1 0 3.3 0a1.7 1.7 0 1 0 -3.3 0zM272.7 190.3a1.7 1.7 0 1 0 3.3 0a1.7 1.7 0 1 0 -3.3 0z" fill="none" stroke="#e5334b" stroke-width=".95"/><path d="M272.7 185.8l2.2 2.2l-2.2 2.2l-2.2 -2.2zM274 186.6l2.2 2.2l-2.2 2.2l-2.2 -2.2zM271.9 187.4l2.2 2.2l-2.2 2.2l-2.2 -2.2z" fill="#cc1638"/><path d="M287.1 189.5h4.3l-2.2 -4.1zM288 191.6h4.3l-2.2 -4.1z" fill="#ff78c8"/><path d="M287.2 191.6h4.3l-2.2 -4.1zM288.4 192h4.3l-2.2 -4.1zM299.8 192.3h4.3l-2.2 -4.1zM304.7 192.3h4.3l-2.2 -4.1zM289.7 191.2h4.3l-2.2 -4.1zM293.3 192.3h4.3l-2.2 -4.1z" fill="#ff78c8"/><path d="M278.3 162.4h4.3l-2.2 -4.1zM277.1 173.4h4.3l-2.2 -4.1zM281.5 174.2h4.3l-2.2 -4.1zM282.8 182.1h4.3l-2.2 -4.1zM279.5 182.9h4.3l-2.2 -4.1zM280.3 184.5h4.3l-2.2 -4.1zM277.9 185.6h4.3l-2.2 -4.1zM280.3 187.2h4.3l-2.2 -4.1zM276.3 189.2h4.3l-2.2 -4.1zM278.7 190.8h4.3l-2.2 -4.1zM281.1 191.6h4.3l-2.2 -4.1zM283.6 192.3h4.3l-2.2 -4.1z" fill="none" stroke="#1fc3ef" stroke-width=".95"/><path d="M295.8 189.2h4.3l-2.2 4.1zM299 189.1h4.3l-2.2 4.1zM299.4 189.8h4.3l-2.2 4.1zM294.5 189.2h4.3l-2.2 4.1zM299.4 189.7h4.3l-2.2 4.1zM301.4 189.7h4.3l-2.2 4.1zM283.6 189.6h4.3l-2.2 4.1zM285.2 189.9h4.3l-2.2 4.1zM282.8 189.8h4.3l-2.2 4.1z" fill="#62f74f"/><path d="M288.4 189.8h4.3l-2.2 4.1zM286.8 189.9h4.3l-2.2 4.1zM289.7 189.2h4.3l-2.2 4.1zM287.2 189.8h4.3l-2.2 4.1zM290.5 189.6h4.3l-2.2 4.1zM286 189.7h4.3l-2.2 4.1zM289.3 189.5h4.3l-2.2 4.1zM285.6 189.6h4.3l-2.2 4.1zM290.9 189.5h4.3l-2.2 4.1z" fill="none" stroke="#1f4fbf" stroke-width=".95"/><path d="M291.6 187.9h3.5v3.5h-3.5zM282.4 188.1h3.5v3.5h-3.5zM285.8 188.9h3.5v3.5h-3.5zM285.2 188.7h3.5v3.5h-3.5zM284.2 189.1h3.5v3.5h-3.5z" fill="#b4591a"/><path d="M285.1 187.8h3.5v3.5h-3.5zM285.4 188.2h3.5v3.5h-3.5zM281 189.2h3.5v3.5h-3.5zM282.9 189.1h3.5v3.5h-3.5zM283.7 189.4h3.5v3.5h-3.5z" fill="none" stroke="#d9731f" stroke-width=".95"/><path d="M283.4 185.8l3.5 3.5m0 -3.5l-3.5 3.5M284.8 187.4l3.5 3.5m0 -3.5l-3.5 3.5M285.4 188.4l3.5 3.5m0 -3.5l-3.5 3.5" fill="none" stroke="#8c8c8c" stroke-width=".95"/></g><g clip-path="url(#a5_5)"><path d="M275.5 218.9l2.2 2.2l-2.2 2.2l-2.2 -2.2z" fill="none" stroke="#8a35d2" stroke-width=".95"/><path d="M279.3 225.4a1.8 1.8 0 1 0 3.5 0a1.8 1.8 0 1 0 -3.5 0zM281.7 227.7a1.8 1.8 0 1 0 3.5 0a1.8 1.8 0 1 0 -3.5 0zM280.4 229.1a1.8 1.8 0 1 0 3.5 0a1.8 1.8 0 1 0 -3.5 0z" fill="#1c8a2c"/><path d="M280.9 216.2l2.2 2.2l-2.2 2.2l-2.2 -2.2zM282.1 222.1l2.2 2.2l-2.2 2.2l-2.2 -2.2zM282.9 222.9l2.2 2.2l-2.2 2.2l-2.2 -2.2zM283.7 223.7l2.2 2.2l-2.2 2.2l-2.2 -2.2zM279.2 224.5l2.2 2.2l-2.2 2.2l-2.2 -2.2z" fill="#b3a000"/><path d="M270.3 225.5a1.7 1.7 0 1 0 3.3 0a1.7 1.7 0 1 0 -3.3 0zM271.9 226.6a1.7 1.7 0 1 0 3.3 0a1.7 1.7 0 1 0 -3.3 0zM273.5 227.4a1.7 1.7 0 1 0 3.3 0a1.7 1.7 0 1 0 -3.3 0zM270.7 228.2a1.7 1.7 0 1 0 3.3 0a1.7 1.7 0 1 0 -3.3 0zM274.7 228.6a1.7 1.7 0 1 0 3.3 0a1.7 1.7 0 1 0 -3.3 0zM272.7 229a1.7 1.7 0 1 0 3.3 0a1.7 1.7 0 1 0 -3.3 0z" fill="none" stroke="#e5334b" stroke-width=".95"/><path d="M272.7 224.5l2.2 2.2l-2.2 2.2l-2.2 -2.2zM274 225.3l2.2 2.2l-2.2 2.2l-2.2 -2.2zM271.9 226.1l2.2 2.2l-2.2 2.2l-2.2 -2.2z" fill="#cc1638"/><path d="M287.1 228.6h4.3l-2.2 -4.1zM288 230.9h4.3l-2.2 -4.1z" fill="#ff78c8"/><path d="M287.2 231h4.3l-2.2 -4.1zM288.4 231.4h4.3l-2.2 -4.1zM299.8 231.8h4.3l-2.2 -4.1zM304.7 231.8h4.3l-2.2 -4.1zM289.7 230.6h4.3l-2.2 -4.1zM293.3 231.8h4.3l-2.2 -4.1z" fill="#ff78c8"/><path d="M278.3 202.2h4.3l-2.2 -4.1zM277.1 211.3h4.3l-2.2 -4.1zM281.5 212.1h4.3l-2.2 -4.1zM282.8 219.2h4.3l-2.2 -4.1zM279.5 220.4h4.3l-2.2 -4.1zM280.3 222.3h4.3l-2.2 -4.1zM277.9 224.3h4.3l-2.2 -4.1zM280.3 225.9h4.3l-2.2 -4.1zM276.3 227.5h4.3l-2.2 -4.1zM278.7 229h4.3l-2.2 -4.1zM281.1 230.2h4.3l-2.2 -4.1zM283.6 231h4.3l-2.2 -4.1z" fill="none" stroke="#1fc3ef" stroke-width=".95"/><path d="M295.8 228.2h4.3l-2.2 4.1zM299 228.3h4.3l-2.2 4.1zM299.4 228.9h4.3l-2.2 4.1zM294.5 228.9h4.3l-2.2 4.1zM299.4 228.6h4.3l-2.2 4.1zM301.4 228.8h4.3l-2.2 4.1zM283.6 228.5h4.3l-2.2 4.1zM285.2 228.3h4.3l-2.2 4.1zM282.8 228.5h4.3l-2.2 4.1z" fill="#62f74f"/><path d="M288.4 228.5h4.3l-2.2 4.1zM286.8 228.9h4.3l-2.2 4.1zM289.7 228.5h4.3l-2.2 4.1zM287.2 228.9h4.3l-2.2 4.1zM290.5 228.5h4.3l-2.2 4.1zM286 228.5h4.3l-2.2 4.1zM289.3 228.6h4.3l-2.2 4.1zM285.6 228.4h4.3l-2.2 4.1zM290.9 228.3h4.3l-2.2 4.1z" fill="none" stroke="#1f4fbf" stroke-width=".95"/><path d="M291.6 226.7h3.5v3.5h-3.5zM282.4 227.4h3.5v3.5h-3.5zM285.8 227.3h3.5v3.5h-3.5zM285.2 227.9h3.5v3.5h-3.5zM284.2 228.4h3.5v3.5h-3.5z" fill="#b4591a"/><path d="M285.1 227.1h3.5v3.5h-3.5zM285.4 227.6h3.5v3.5h-3.5zM281 227.8h3.5v3.5h-3.5zM282.9 227.7h3.5v3.5h-3.5zM283.7 228.5h3.5v3.5h-3.5z" fill="none" stroke="#d9731f" stroke-width=".95"/><path d="M283.4 224.9l3.5 3.5m0 -3.5l-3.5 3.5M284.8 226.4l3.5 3.5m0 -3.5l-3.5 3.5M285.4 227.8l3.5 3.5m0 -3.5l-3.5 3.5" fill="none" stroke="#8c8c8c" stroke-width=".95"/></g><g clip-path="url(#a5_6)"><path d="M275.5 259.1l2.2 2.2l-2.2 2.2l-2.2 -2.2z" fill="none" stroke="#8a35d2" stroke-width=".95"/><path d="M279.3 265a1.8 1.8 0 1 0 3.5 0a1.8 1.8 0 1 0 -3.5 0zM281.7 266.6a1.8 1.8 0 1 0 3.5 0a1.8 1.8 0 1 0 -3.5 0zM280.4 268.1a1.8 1.8 0 1 0 3.5 0a1.8 1.8 0 1 0 -3.5 0z" fill="#1c8a2c"/><path d="M280.9 256.1l2.2 2.2l-2.2 2.2l-2.2 -2.2zM282.1 257.2l2.2 2.2l-2.2 2.2l-2.2 -2.2zM282.9 258.4l2.2 2.2l-2.2 2.2l-2.2 -2.2zM283.7 259.6l2.2 2.2l-2.2 2.2l-2.2 -2.2zM279.2 261.6l2.2 2.2l-2.2 2.2l-2.2 -2.2z" fill="#b3a000"/><path d="M270.3 263.3a1.7 1.7 0 1 0 3.3 0a1.7 1.7 0 1 0 -3.3 0zM271.9 264.5a1.7 1.7 0 1 0 3.3 0a1.7 1.7 0 1 0 -3.3 0zM273.5 265.3a1.7 1.7 0 1 0 3.3 0a1.7 1.7 0 1 0 -3.3 0zM270.7 266.1a1.7 1.7 0 1 0 3.3 0a1.7 1.7 0 1 0 -3.3 0zM274.7 266.9a1.7 1.7 0 1 0 3.3 0a1.7 1.7 0 1 0 -3.3 0zM272.7 267.7a1.7 1.7 0 1 0 3.3 0a1.7 1.7 0 1 0 -3.3 0z" fill="none" stroke="#e5334b" stroke-width=".95"/><path d="M272.7 262.4l2.2 2.2l-2.2 2.2l-2.2 -2.2zM274 263.5l2.2 2.2l-2.2 2.2l-2.2 -2.2zM271.9 263.9l2.2 2.2l-2.2 2.2l-2.2 -2.2z" fill="#cc1638"/><path d="M287.1 268.4h4.3l-2.2 -4.1zM288 269.9h4.3l-2.2 -4.1z" fill="#ff78c8"/><path d="M287.2 268.9h4.3l-2.2 -4.1zM288.4 269.7h4.3l-2.2 -4.1zM299.8 270.1h4.3l-2.2 -4.1zM304.7 270.5h4.3l-2.2 -4.1zM289.7 268.1h4.3l-2.2 -4.1zM293.3 270.5h4.3l-2.2 -4.1z" fill="#ff78c8"/><path d="M278.3 243.2h4.3l-2.2 -4.1zM277.1 251.1h4.3l-2.2 -4.1zM281.5 252.7h4.3l-2.2 -4.1zM282.8 254.7h4.3l-2.2 -4.1zM279.5 264.2h4.3l-2.2 -4.1zM280.3 265.7h4.3l-2.2 -4.1zM277.9 267.3h4.3l-2.2 -4.1zM280.3 268.1h4.3l-2.2 -4.1zM276.3 269.3h4.3l-2.2 -4.1zM278.7 270.1h4.3l-2.2 -4.1zM281.1 270.9h4.3l-2.2 -4.1zM283.6 271.3h4.3l-2.2 -4.1z" fill="none" stroke="#1fc3ef" stroke-width=".95"/><path d="M295.8 267.7h4.3l-2.2 4.1zM299 267.8h4.3l-2.2 4.1zM299.4 268h4.3l-2.2 4.1zM294.5 267.7h4.3l-2.2 4.1zM299.4 267.8h4.3l-2.2 4.1zM301.4 267.7h4.3l-2.2 4.1zM283.6 267.3h4.3l-2.2 4.1zM285.2 267.4h4.3l-2.2 4.1zM282.8 268h4.3l-2.2 4.1z" fill="#62f74f"/><path d="M288.4 267.7h4.3l-2.2 4.1zM286.8 267.7h4.3l-2.2 4.1zM289.7 267.7h4.3l-2.2 4.1zM287.2 267.8h4.3l-2.2 4.1zM290.5 268h4.3l-2.2 4.1zM286 267.7h4.3l-2.2 4.1zM289.3 267.3h4.3l-2.2 4.1zM285.6 267.9h4.3l-2.2 4.1zM290.9 267.8h4.3l-2.2 4.1z" fill="none" stroke="#1f4fbf" stroke-width=".95"/><path d="M291.6 265.6h3.5v3.5h-3.5zM282.4 266.1h3.5v3.5h-3.5zM285.8 266.5h3.5v3.5h-3.5zM285.2 266.7h3.5v3.5h-3.5zM284.2 266.9h3.5v3.5h-3.5z" fill="#b4591a"/><path d="M285.1 265.7h3.5v3.5h-3.5zM285.4 266.8h3.5v3.5h-3.5zM281 266.6h3.5v3.5h-3.5zM282.9 266.7h3.5v3.5h-3.5zM283.7 267.2h3.5v3.5h-3.5z" fill="none" stroke="#d9731f" stroke-width=".95"/><path d="M283.4 264.6l3.5 3.5m0 -3.5l-3.5 3.5M284.8 265.8l3.5 3.5m0 -3.5l-3.5 3.5M285.4 266.2l3.5 3.5m0 -3.5l-3.5 3.5" fill="none" stroke="#8c8c8c" stroke-width=".95"/></g><g clip-path="url(#a5_7)"><path d="M275.5 298.6l2.2 2.2l-2.2 2.2l-2.2 -2.2z" fill="none" stroke="#8a35d2" stroke-width=".95"/><path d="M279.3 304.6a1.8 1.8 0 1 0 3.5 0a1.8 1.8 0 1 0 -3.5 0zM281.7 306.3a1.8 1.8 0 1 0 3.5 0a1.8 1.8 0 1 0 -3.5 0zM280.4 307.8a1.8 1.8 0 1 0 3.5 0a1.8 1.8 0 1 0 -3.5 0z" fill="#1c8a2c"/><path d="M280.9 297.1l2.2 2.2l-2.2 2.2l-2.2 -2.2zM282.1 297.9l2.2 2.2l-2.2 2.2l-2.2 -2.2zM282.9 298.7l2.2 2.2l-2.2 2.2l-2.2 -2.2zM283.7 299.5l2.2 2.2l-2.2 2.2l-2.2 -2.2zM279.2 301.4l2.2 2.2l-2.2 2.2l-2.2 -2.2z" fill="#b3a000"/><path d="M270.3 304a1.7 1.7 0 1 0 3.3 0a1.7 1.7 0 1 0 -3.3 0zM271.9 304.8a1.7 1.7 0 1 0 3.3 0a1.7 1.7 0 1 0 -3.3 0zM273.5 305.2a1.7 1.7 0 1 0 3.3 0a1.7 1.7 0 1 0 -3.3 0zM270.7 306a1.7 1.7 0 1 0 3.3 0a1.7 1.7 0 1 0 -3.3 0zM274.7 306.3a1.7 1.7 0 1 0 3.3 0a1.7 1.7 0 1 0 -3.3 0zM272.7 306.7a1.7 1.7 0 1 0 3.3 0a1.7 1.7 0 1 0 -3.3 0z" fill="none" stroke="#e5334b" stroke-width=".95"/><path d="M272.7 302.6l2.2 2.2l-2.2 2.2l-2.2 -2.2zM274 303.4l2.2 2.2l-2.2 2.2l-2.2 -2.2zM271.9 303.8l2.2 2.2l-2.2 2.2l-2.2 -2.2z" fill="#cc1638"/><path d="M287.1 307.9h4.3l-2.2 -4.1zM288 310h4.3l-2.2 -4.1z" fill="#ff78c8"/><path d="M287.2 309.1h4.3l-2.2 -4.1zM288.4 309.5h4.3l-2.2 -4.1zM299.8 309.9h4.3l-2.2 -4.1zM304.7 310.3h4.3l-2.2 -4.1zM289.7 308.4h4.3l-2.2 -4.1zM293.3 310.3h4.3l-2.2 -4.1z" fill="#ff78c8"/><path d="M278.3 282.3h4.3l-2.2 -4.1zM277.1 292.2h4.3l-2.2 -4.1zM281.5 294.2h4.3l-2.2 -4.1zM282.8 296.1h4.3l-2.2 -4.1zM279.5 300.5h4.3l-2.2 -4.1zM280.3 301.7h4.3l-2.2 -4.1zM277.9 303.2h4.3l-2.2 -4.1zM280.3 304.4h4.3l-2.2 -4.1zM276.3 306h4.3l-2.2 -4.1zM278.7 307.6h4.3l-2.2 -4.1zM281.1 308.8h4.3l-2.2 -4.1zM283.6 309.5h4.3l-2.2 -4.1z" fill="none" stroke="#1fc3ef" stroke-width=".95"/><path d="M295.8 307h4.3l-2.2 4.1zM299 307.2h4.3l-2.2 4.1zM299.4 306.9h4.3l-2.2 4.1zM294.5 307.1h4.3l-2.2 4.1zM299.4 306.8h4.3l-2.2 4.1zM301.4 307h4.3l-2.2 4.1zM283.6 307h4.3l-2.2 4.1zM285.2 306.8h4.3l-2.2 4.1zM282.8 307.4h4.3l-2.2 4.1z" fill="#62f74f"/><path d="M288.4 307.5h4.3l-2.2 4.1zM286.8 306.8h4.3l-2.2 4.1zM289.7 306.7h4.3l-2.2 4.1zM287.2 306.9h4.3l-2.2 4.1zM290.5 307.5h4.3l-2.2 4.1zM286 307.3h4.3l-2.2 4.1zM289.3 306.9h4.3l-2.2 4.1zM285.6 307.1h4.3l-2.2 4.1zM290.9 306.9h4.3l-2.2 4.1z" fill="none" stroke="#1f4fbf" stroke-width=".95"/><path d="M291.6 305.2h3.5v3.5h-3.5zM282.4 305.9h3.5v3.5h-3.5zM285.8 306.5h3.5v3.5h-3.5zM285.2 306.6h3.5v3.5h-3.5zM284.2 306.8h3.5v3.5h-3.5z" fill="#b4591a"/><path d="M285.1 305.3h3.5v3.5h-3.5zM285.4 306h3.5v3.5h-3.5zM281 306.1h3.5v3.5h-3.5zM282.9 306.3h3.5v3.5h-3.5zM283.7 306.5h3.5v3.5h-3.5z" fill="none" stroke="#d9731f" stroke-width=".95"/><path d="M283.4 303.5l3.5 3.5m0 -3.5l-3.5 3.5M284.8 305.3l3.5 3.5m0 -3.5l-3.5 3.5M285.4 305.8l3.5 3.5m0 -3.5l-3.5 3.5" fill="none" stroke="#8c8c8c" stroke-width=".95"/></g><g clip-path="url(#a5_8)"><path d="M275.5 348.1l2.2 2.2l-2.2 2.2l-2.2 -2.2z" fill="none" stroke="#8a35d2" stroke-width=".95"/><path d="M278.3 354.1h4.3l-2.2 -4.1zM277.1 352.6h4.3l-2.2 -4.1zM281.5 350.6h4.3l-2.2 -4.1zM282.8 347.8h4.3l-2.2 -4.1zM279.5 345.5h4.3l-2.2 -4.1zM280.3 332.8h4.3l-2.2 -4.1zM277.9 343.1h4.3l-2.2 -4.1zM280.3 355.3h4.3l-2.2 -4.1zM276.3 331.2h4.3l-2.2 -4.1zM278.7 333.6h4.3l-2.2 -4.1zM281.1 331.6h4.3l-2.2 -4.1zM283.6 335.6h4.3l-2.2 -4.1z" fill="none" stroke="#1fc3ef" stroke-width=".95"/><path d="M280.9 340.1l2.2 2.2l-2.2 2.2l-2.2 -2.2zM282.1 342.1l2.2 2.2l-2.2 2.2l-2.2 -2.2zM282.9 341.3l2.2 2.2l-2.2 2.2l-2.2 -2.2zM283.7 350l2.2 2.2l-2.2 2.2l-2.2 -2.2zM279.2 343.3l2.2 2.2l-2.2 2.2l-2.2 -2.2z" fill="#b3a000"/><path d="M270.3 342.3a1.7 1.7 0 1 0 3.3 0a1.7 1.7 0 1 0 -3.3 0zM271.9 344.6a1.7 1.7 0 1 0 3.3 0a1.7 1.7 0 1 0 -3.3 0zM273.5 346.6a1.7 1.7 0 1 0 3.3 0a1.7 1.7 0 1 0 -3.3 0zM270.7 348.6a1.7 1.7 0 1 0 3.3 0a1.7 1.7 0 1 0 -3.3 0zM274.7 350.5a1.7 1.7 0 1 0 3.3 0a1.7 1.7 0 1 0 -3.3 0zM272.7 351.7a1.7 1.7 0 1 0 3.3 0a1.7 1.7 0 1 0 -3.3 0z" fill="none" stroke="#e5334b" stroke-width=".95"/><path d="M272.7 345.2l2.2 2.2l-2.2 2.2l-2.2 -2.2zM274 346.8l2.2 2.2l-2.2 2.2l-2.2 -2.2zM271.9 343.7l2.2 2.2l-2.2 2.2l-2.2 -2.2z" fill="#cc1638"/><path d="M287.1 338h4.3l-2.2 -4.1zM288 338.4h4.3l-2.2 -4.1z" fill="#ff78c8"/><path d="M287.2 337.6h4.3l-2.2 -4.1zM288.4 339.9h4.3l-2.2 -4.1zM299.8 341.5h4.3l-2.2 -4.1zM304.7 342.3h4.3l-2.2 -4.1zM289.7 339.1h4.3l-2.2 -4.1zM293.3 338.3h4.3l-2.2 -4.1z" fill="#ff78c8"/><path d="M295.8 335.5h4.3l-2.2 4.1zM299 336.7h4.3l-2.2 4.1zM299.4 337.5h4.3l-2.2 4.1zM294.5 335.9h4.3l-2.2 4.1zM299.4 337.9h4.3l-2.2 4.1zM301.4 338.3h4.3l-2.2 4.1zM283.6 329.6h4.3l-2.2 4.1zM285.2 335.5h4.3l-2.2 4.1zM282.8 328.8h4.3l-2.2 4.1z" fill="#62f74f"/><path d="M288.4 333.5h4.3l-2.2 4.1zM286.8 316.2h4.3l-2.2 4.1zM289.7 331.2h4.3l-2.2 4.1zM287.2 322.1h4.3l-2.2 4.1zM290.5 329.6h4.3l-2.2 4.1zM286 332.8h4.3l-2.2 4.1zM289.3 330.4h4.3l-2.2 4.1zM285.6 332.4h4.3l-2.2 4.1zM290.9 331.6h4.3l-2.2 4.1z" fill="none" stroke="#1f4fbf" stroke-width=".95"/><path d="M291.6 330.7h3.5v3.5h-3.5zM282.4 329.2h3.5v3.5h-3.5zM285.8 329.1h3.5v3.5h-3.5zM285.2 328.9h3.5v3.5h-3.5zM284.2 330.8h3.5v3.5h-3.5z" fill="#b4591a"/><path d="M285.1 332.8h3.5v3.5h-3.5zM285.4 332.1h3.5v3.5h-3.5zM281 329.4h3.5v3.5h-3.5zM282.9 328.7h3.5v3.5h-3.5zM283.7 331h3.5v3.5h-3.5z" fill="none" stroke="#d9731f" stroke-width=".95"/><path d="M279.3 329.2a1.8 1.8 0 1 0 3.5 0a1.8 1.8 0 1 0 -3.5 0zM281.7 331.3a1.8 1.8 0 1 0 3.5 0a1.8 1.8 0 1 0 -3.5 0zM280.4 330.3a1.8 1.8 0 1 0 3.5 0a1.8 1.8 0 1 0 -3.5 0z" fill="#1c8a2c"/><path d="M283.4 331.5l3.5 3.5m0 -3.5l-3.5 3.5M284.8 334.1l3.5 3.5m0 -3.5l-3.5 3.5M285.4 331.5l3.5 3.5m0 -3.5l-3.5 3.5" fill="none" stroke="#8c8c8c" stroke-width=".95"/></g><text transform="translate(0.00 407.20) scale(0.980 1)" font-size="10.26" text-anchor="start" fill="#1a1a1a" dominant-baseline="central">b)</text><line x1="33.00" y1="405.30" x2="33.00" y2="556.30" stroke="#9a9a9a" stroke-width="0.8"/><line x1="33.00" y1="556.30" x2="184.00" y2="556.30" stroke="#9a9a9a" stroke-width="0.8"/><line x1="30.20" y1="420.40" x2="33.00" y2="420.40" stroke="#9a9a9a" stroke-width="0.6"/><text transform="translate(29.20 420.60) scale(0.930 1)" font-size="5.83" text-anchor="end" fill="#1a1a1a" dominant-baseline="central">10</text><line x1="30.20" y1="450.50" x2="33.00" y2="450.50" stroke="#9a9a9a" stroke-width="0.6"/><text transform="translate(29.20 450.70) scale(0.930 1)" font-size="5.83" text-anchor="end" fill="#1a1a1a" dominant-baseline="central">5</text><line x1="30.20" y1="480.60" x2="33.00" y2="480.60" stroke="#9a9a9a" stroke-width="0.6"/><text transform="translate(29.20 480.80) scale(0.930 1)" font-size="5.83" text-anchor="end" fill="#1a1a1a" dominant-baseline="central">0</text><line x1="30.20" y1="510.70" x2="33.00" y2="510.70" stroke="#9a9a9a" stroke-width="0.6"/><text transform="translate(29.20 510.90) scale(0.930 1)" font-size="5.83" text-anchor="end" fill="#1a1a1a" dominant-baseline="central">-5</text><line x1="30.20" y1="540.80" x2="33.00" y2="540.80" stroke="#9a9a9a" stroke-width="0.6"/><text transform="translate(29.20 541.00) scale(0.930 1)" font-size="5.83" text-anchor="end" fill="#1a1a1a" dominant-baseline="central">-10</text><line x1="31.40" y1="435.45" x2="33.00" y2="435.45" stroke="#9a9a9a" stroke-width="0.5"/><line x1="31.40" y1="465.55" x2="33.00" y2="465.55" stroke="#9a9a9a" stroke-width="0.5"/><line x1="31.40" y1="495.65" x2="33.00" y2="495.65" stroke="#9a9a9a" stroke-width="0.5"/><line x1="31.40" y1="525.75" x2="33.00" y2="525.75" stroke="#9a9a9a" stroke-width="0.5"/><line x1="31.40" y1="555.85" x2="33.00" y2="555.85" stroke="#9a9a9a" stroke-width="0.5"/><line x1="50.00" y1="556.30" x2="50.00" y2="559.10" stroke="#9a9a9a" stroke-width="0.6"/><text transform="translate(50.00 562.60) scale(0.930 1)" font-size="5.83" text-anchor="middle" fill="#1a1a1a" dominant-baseline="central">-10</text><line x1="79.75" y1="556.30" x2="79.75" y2="559.10" stroke="#9a9a9a" stroke-width="0.6"/><text transform="translate(79.75 562.60) scale(0.930 1)" font-size="5.83" text-anchor="middle" fill="#1a1a1a" dominant-baseline="central">-5</text><line x1="109.50" y1="556.30" x2="109.50" y2="559.10" stroke="#9a9a9a" stroke-width="0.6"/><text transform="translate(109.50 562.60) scale(0.930 1)" font-size="5.83" text-anchor="middle" fill="#1a1a1a" dominant-baseline="central">0</text><line x1="139.25" y1="556.30" x2="139.25" y2="559.10" stroke="#9a9a9a" stroke-width="0.6"/><text transform="translate(139.25 562.60) scale(0.930 1)" font-size="5.83" text-anchor="middle" fill="#1a1a1a" dominant-baseline="central">5</text><line x1="169.00" y1="556.30" x2="169.00" y2="559.10" stroke="#9a9a9a" stroke-width="0.6"/><text transform="translate(169.00 562.60) scale(0.930 1)" font-size="5.83" text-anchor="middle" fill="#1a1a1a" dominant-baseline="central">10</text><line x1="35.12" y1="556.30" x2="35.12" y2="557.90" stroke="#9a9a9a" stroke-width="0.5"/><line x1="64.88" y1="556.30" x2="64.88" y2="557.90" stroke="#9a9a9a" stroke-width="0.5"/><line x1="94.62" y1="556.30" x2="94.62" y2="557.90" stroke="#9a9a9a" stroke-width="0.5"/><line x1="124.38" y1="556.30" x2="124.38" y2="557.90" stroke="#9a9a9a" stroke-width="0.5"/><line x1="154.12" y1="556.30" x2="154.12" y2="557.90" stroke="#9a9a9a" stroke-width="0.5"/><line x1="183.88" y1="556.30" x2="183.88" y2="557.90" stroke="#9a9a9a" stroke-width="0.5"/><text transform="translate(109.20 569.40) scale(0.930 1)" font-size="6.43" text-anchor="middle" fill="#1a1a1a" dominant-baseline="central">Component 1  (56.2 %)</text><text transform="translate(14.80 480.40) rotate(-90) scale(0.930 1)" font-size="6.37" text-anchor="middle" fill="#1a1a1a" dominant-baseline="central">Component 2  (22 %)</text><line x1="109.50" y1="406.80" x2="109.50" y2="556.30" stroke="#f0505e" stroke-width="0.8" stroke-dasharray="0.9 1.1"/><line x1="33.00" y1="480.60" x2="183.50" y2="480.60" stroke="#f0505e" stroke-width="0.8" stroke-dasharray="0.9 1.1"/><path d="M93.6 478.6h3.7l-1.9 3.6z" fill="#62f74f"/><path d="M95.5 478h3.1v3.1h-3.1z" fill="#b4591a"/><path d="M98 479.5l1.9 1.9l-1.9 1.9l-1.9 -1.9z" fill="#b3a000"/><path d="M96.5 479.9a1.5 1.5 0 1 0 3.1 0a1.5 1.5 0 1 0 -3.1 0z" fill="#1c8a2c"/><path d="M97.8 479h3.1v3.1h-3.1z" fill="none" stroke="#d9731f" stroke-width=".95"/><path d="M97.4 479.3h3.1v3.1h-3.1z" fill="#b4591a"/><path d="M97.6 479.6h3.7l-1.9 3.6z" fill="#62f74f"/><path d="M100.8 480.1l1.9 1.9l-1.9 1.9l-1.9 -1.9z" fill="#cc1638"/><path d="M102.6 480.5l1.9 1.9l-1.9 1.9l-1.9 -1.9z" fill="#b3a000"/><path d="M101.1 481h3.1v3.1h-3.1z" fill="#b4591a"/><path d="M101.1 480.8h3.7l-1.9 3.6z" fill="#62f74f"/><path d="M101.9 481.4h3.1v3.1h-3.1z" fill="#b4591a"/><path d="M105.2 482.8l1.9 1.9l-1.9 1.9l-1.9 -1.9z" fill="#b3a000"/><path d="M103.1 484.9a1.5 1.5 0 1 0 3.1 0a1.5 1.5 0 1 0 -3.1 0z" fill="#1c8a2c"/><path d="M105.5 482.9h3.1v3.1h-3.1z" fill="none" stroke="#d9731f" stroke-width=".95"/><path d="M105.9 484.1h3.1v3.1h-3.1z" fill="#b4591a"/><path d="M105.5 485.3h3.7l-1.9 3.6z" fill="#62f74f"/><path d="M107.8 484.8l1.9 1.9l-1.9 1.9l-1.9 -1.9z" fill="#cc1638"/><path d="M109.2 486.3l1.9 1.9l-1.9 1.9l-1.9 -1.9z" fill="#b3a000"/><path d="M107.5 486.7h3.1v3.1h-3.1z" fill="#b4591a"/><path d="M108.7 486.5h3.7l-1.9 3.6z" fill="#62f74f"/><path d="M109 486.4h3.1v3.1h-3.1z" fill="#b4591a"/><path d="M110.4 486l1.9 1.9l-1.9 1.9l-1.9 -1.9z" fill="#b3a000"/><path d="M109.6 489.7a1.5 1.5 0 1 0 3.1 0a1.5 1.5 0 1 0 -3.1 0z" fill="#1c8a2c"/><path d="M110.7 487.2h3.1v3.1h-3.1z" fill="none" stroke="#d9731f" stroke-width=".95"/><path d="M111 489.3h3.1v3.1h-3.1z" fill="#b4591a"/><path d="M68.7 449.4h4l-2 3.8z" fill="none" stroke="#1f4fbf" stroke-width=".95"/><path d="M73.5 453.7h4l-2 3.8z" fill="none" stroke="#1f4fbf" stroke-width=".95"/><path d="M76.5 457.7h4l-2 3.8z" fill="none" stroke="#1f4fbf" stroke-width=".95"/><path d="M77.5 459.7h4l-2 3.8z" fill="none" stroke="#1f4fbf" stroke-width=".95"/><path d="M78 461.7h4l-2 3.8z" fill="none" stroke="#1f4fbf" stroke-width=".95"/><path d="M78.6 463.4h4l-2 3.8z" fill="none" stroke="#1f4fbf" stroke-width=".95"/><path d="M85.5 466.7h4l-2 3.8z" fill="none" stroke="#1f4fbf" stroke-width=".95"/><path d="M86 469.2h4l-2 3.8z" fill="none" stroke="#1f4fbf" stroke-width=".95"/><path d="M85 472h4l-2 3.8z" fill="none" stroke="#1f4fbf" stroke-width=".95"/><path d="M84.6 474.2h4l-2 3.8z" fill="none" stroke="#1f4fbf" stroke-width=".95"/><path d="M93 474.4h4l-2 3.8z" fill="none" stroke="#1f4fbf" stroke-width=".95"/><path d="M73 451h4l-2 3.8z" fill="#62f74f"/><path d="M77 452.2h4l-2 3.8z" fill="#62f74f"/><path d="M78.2 453.2h4l-2 3.8z" fill="#62f74f"/><path d="M79.6 456h4l-2 3.8z" fill="#62f74f"/><path d="M84.6 461.2h4l-2 3.8z" fill="#62f74f"/><path d="M97 481.2h4l-2 3.8z" fill="#62f74f"/><path d="M114 487.4h4l-2 3.8z" fill="#62f74f"/><path d="M109 486.7h4l-2 3.8z" fill="#62f74f"/><path d="M97.6 473.1h4l-2 -3.8z" fill="#ff78c8"/><path d="M99.2 476.8h4l-2 -3.8z" fill="#ff78c8"/><path d="M104 480.3h4l-2 -3.8z" fill="#ff78c8"/><path d="M107.5 484.3h4l-2 -3.8z" fill="#ff78c8"/><path d="M110.5 485.8h4l-2 -3.8z" fill="#ff78c8"/><path d="M91.9 473h3.2v3.2h-3.2z" fill="none" stroke="#d9731f" stroke-width=".95"/><path d="M94.9 475.4h3.2v3.2h-3.2z" fill="none" stroke="#d9731f" stroke-width=".95"/><path d="M101.4 482.4h3.2v3.2h-3.2z" fill="none" stroke="#d9731f" stroke-width=".95"/><path d="M110.5 486.3h4l-2 -3.8z" fill="none" stroke="#1fc3ef" stroke-width=".95"/><path d="M112.5 485.8h4l-2 -3.8z" fill="none" stroke="#1fc3ef" stroke-width=".95"/><path d="M124.5 480.4h4l-2 -3.8z" fill="none" stroke="#1fc3ef" stroke-width=".95"/><path d="M127 479.8h4l-2 -3.8z" fill="none" stroke="#1fc3ef" stroke-width=".95"/><path d="M132.5 479.3h4l-2 -3.8z" fill="none" stroke="#1fc3ef" stroke-width=".95"/><path d="M139 472.3h4l-2 -3.8z" fill="none" stroke="#1fc3ef" stroke-width=".95"/><path d="M145.5 466.3h4l-2 -3.8z" fill="none" stroke="#1fc3ef" stroke-width=".95"/><path d="M147.5 465.8h4l-2 -3.8z" fill="none" stroke="#1fc3ef" stroke-width=".95"/><path d="M159 452.8h4l-2 -3.8z" fill="none" stroke="#1fc3ef" stroke-width=".95"/><path d="M177.9 436.7h4l-2 -3.8z" fill="none" stroke="#1fc3ef" stroke-width=".95"/><path d="M180.5 436.7h4l-2 -3.8z" fill="none" stroke="#1fc3ef" stroke-width=".95"/><path d="M114.5 487.8h4l-2 -3.8z" fill="none" stroke="#1fc3ef" stroke-width=".95"/><path d="M145.5 465.6l2 2l-2 2l-2 -2z" fill="#b3a000"/><path d="M121.5 483l2 2l-2 2l-2 -2z" fill="#b3a000"/><path d="M119.5 484.5l2 2l-2 2l-2 -2z" fill="#b3a000"/><path d="M123.5 483.8l2 2l-2 2l-2 -2z" fill="#b3a000"/><path d="M119.5 486.5l2 2l-2 2l-2 -2z" fill="#cc1638"/><path d="M121.5 487.8l2 2l-2 2l-2 -2z" fill="#cc1638"/><path d="M123.5 486l2 2l-2 2l-2 -2z" fill="#cc1638"/><path d="M120.5 488.5l2 2l-2 2l-2 -2z" fill="#cc1638"/><path d="M124.5 488l2 2l-2 2l-2 -2z" fill="#cc1638"/><path d="M122 485.2l2 2l-2 2l-2 -2z" fill="#cc1638"/><path d="M130.8 488.6a1.5 1.5 0 1 0 3.1 0a1.5 1.5 0 1 0 -3.1 0z" fill="none" stroke="#e5334b" stroke-width=".95"/><path d="M117 490a1.5 1.5 0 1 0 3.1 0a1.5 1.5 0 1 0 -3.1 0z" fill="none" stroke="#e5334b" stroke-width=".95"/><path d="M123.8 485.4l2 2l-2 2l-2 -2z" fill="none" stroke="#8a35d2" stroke-width=".95"/><line x1="209.30" y1="405.30" x2="209.30" y2="556.30" stroke="#9a9a9a" stroke-width="0.8"/><line x1="209.30" y1="556.30" x2="364.00" y2="556.30" stroke="#9a9a9a" stroke-width="0.8"/><line x1="206.50" y1="405.60" x2="209.30" y2="405.60" stroke="#9a9a9a" stroke-width="0.6"/><text transform="translate(205.70 405.80) scale(0.930 1)" font-size="5.83" text-anchor="end" fill="#1a1a1a" dominant-baseline="central">1.0</text><line x1="206.50" y1="443.10" x2="209.30" y2="443.10" stroke="#9a9a9a" stroke-width="0.6"/><text transform="translate(205.70 443.30) scale(0.930 1)" font-size="5.83" text-anchor="end" fill="#1a1a1a" dominant-baseline="central">0.5</text><line x1="206.50" y1="480.60" x2="209.30" y2="480.60" stroke="#9a9a9a" stroke-width="0.6"/><text transform="translate(205.70 480.80) scale(0.930 1)" font-size="5.83" text-anchor="end" fill="#1a1a1a" dominant-baseline="central">0.0</text><line x1="206.50" y1="518.10" x2="209.30" y2="518.10" stroke="#9a9a9a" stroke-width="0.6"/><text transform="translate(205.70 518.30) scale(0.930 1)" font-size="5.83" text-anchor="end" fill="#1a1a1a" dominant-baseline="central">-0.5</text><line x1="206.50" y1="555.60" x2="209.30" y2="555.60" stroke="#9a9a9a" stroke-width="0.6"/><text transform="translate(205.70 555.80) scale(0.930 1)" font-size="5.83" text-anchor="end" fill="#1a1a1a" dominant-baseline="central">-1.0</text><line x1="207.70" y1="424.35" x2="209.30" y2="424.35" stroke="#9a9a9a" stroke-width="0.5"/><line x1="207.70" y1="461.85" x2="209.30" y2="461.85" stroke="#9a9a9a" stroke-width="0.5"/><line x1="207.70" y1="499.35" x2="209.30" y2="499.35" stroke="#9a9a9a" stroke-width="0.5"/><line x1="207.70" y1="536.85" x2="209.30" y2="536.85" stroke="#9a9a9a" stroke-width="0.5"/><line x1="211.35" y1="556.30" x2="211.35" y2="559.10" stroke="#9a9a9a" stroke-width="0.6"/><text transform="translate(211.35 562.60) scale(0.930 1)" font-size="5.83" text-anchor="middle" fill="#1a1a1a" dominant-baseline="central">-1.0</text><line x1="248.60" y1="556.30" x2="248.60" y2="559.10" stroke="#9a9a9a" stroke-width="0.6"/><text transform="translate(248.60 562.60) scale(0.930 1)" font-size="5.83" text-anchor="middle" fill="#1a1a1a" dominant-baseline="central">-0.5</text><line x1="285.85" y1="556.30" x2="285.85" y2="559.10" stroke="#9a9a9a" stroke-width="0.6"/><text transform="translate(285.85 562.60) scale(0.930 1)" font-size="5.83" text-anchor="middle" fill="#1a1a1a" dominant-baseline="central">0.0</text><line x1="323.10" y1="556.30" x2="323.10" y2="559.10" stroke="#9a9a9a" stroke-width="0.6"/><text transform="translate(323.10 562.60) scale(0.930 1)" font-size="5.83" text-anchor="middle" fill="#1a1a1a" dominant-baseline="central">0.5</text><line x1="360.35" y1="556.30" x2="360.35" y2="559.10" stroke="#9a9a9a" stroke-width="0.6"/><text transform="translate(360.35 562.60) scale(0.930 1)" font-size="5.83" text-anchor="middle" fill="#1a1a1a" dominant-baseline="central">1.0</text><line x1="229.98" y1="556.30" x2="229.98" y2="557.90" stroke="#9a9a9a" stroke-width="0.5"/><line x1="267.23" y1="556.30" x2="267.23" y2="557.90" stroke="#9a9a9a" stroke-width="0.5"/><line x1="304.48" y1="556.30" x2="304.48" y2="557.90" stroke="#9a9a9a" stroke-width="0.5"/><line x1="341.73" y1="556.30" x2="341.73" y2="557.90" stroke="#9a9a9a" stroke-width="0.5"/><text transform="translate(285.60 569.40) scale(0.930 1)" font-size="6.43" text-anchor="middle" fill="#1a1a1a" dominant-baseline="central">Component 1  (56.2 %)</text><text transform="translate(189.80 480.40) rotate(-90) scale(0.930 1)" font-size="6.37" text-anchor="middle" fill="#1a1a1a" dominant-baseline="central">Component 2  (22 %)</text><line x1="285.85" y1="405.60" x2="285.85" y2="556.30" stroke="#f0505e" stroke-width="0.75" stroke-dasharray="0.9 1.1"/><line x1="209.30" y1="480.60" x2="360.35" y2="480.60" stroke="#f0505e" stroke-width="0.75" stroke-dasharray="0.9 1.1"/><circle cx="285.6" cy="480.60" r="75.0" fill="none" stroke="#f0505e" stroke-width="0.9"/><line x1="285.60" y1="480.60" x2="228.89" y2="442.64" stroke="#f0505e" stroke-width="0.9"/><polygon points="225.40,440.30 230.00,440.97 227.78,444.30" fill="#e8283c"/><line x1="285.60" y1="480.60" x2="229.49" y2="443.13" stroke="#f0505e" stroke-width="0.9"/><polygon points="226.00,440.80 230.60,441.47 228.38,444.80" fill="#e8283c"/><line x1="285.60" y1="480.60" x2="228.32" y2="443.29" stroke="#f0505e" stroke-width="0.9"/><polygon points="224.80,441.00 229.41,441.62 227.23,444.97" fill="#e8283c"/><line x1="285.60" y1="480.60" x2="229.59" y2="450.20" stroke="#f0505e" stroke-width="0.9"/><polygon points="225.90,448.20 230.55,448.45 228.64,451.96" fill="#e8283c"/><line x1="285.60" y1="480.60" x2="244.26" y2="441.87" stroke="#f0505e" stroke-width="0.9"/><polygon points="241.20,439.00 245.63,440.41 242.90,443.33" fill="#e8283c"/><line x1="285.60" y1="480.60" x2="250.99" y2="444.05" stroke="#f0505e" stroke-width="0.9"/><polygon points="248.10,441.00 252.44,442.67 249.54,445.42" fill="#e8283c"/><line x1="285.60" y1="480.60" x2="235.98" y2="497.45" stroke="#f0505e" stroke-width="0.9"/><polygon points="232.00,498.80 235.33,495.56 236.62,499.34" fill="#e8283c"/><line x1="285.60" y1="480.60" x2="329.09" y2="511.75" stroke="#f0505e" stroke-width="0.9"/><polygon points="332.50,514.20 327.92,513.38 330.25,510.13" fill="#e8283c"/><line x1="285.60" y1="480.60" x2="334.25" y2="443.74" stroke="#f0505e" stroke-width="0.9"/><polygon points="337.60,441.20 335.46,445.33 333.04,442.14" fill="#e8283c"/><line x1="285.60" y1="480.60" x2="336.95" y2="444.80" stroke="#f0505e" stroke-width="0.9"/><polygon points="340.40,442.40 338.10,446.44 335.81,443.16" fill="#e8283c"/><line x1="285.60" y1="480.60" x2="335.16" y2="446.00" stroke="#f0505e" stroke-width="0.9"/><polygon points="338.60,443.60 336.30,447.64 334.01,444.36" fill="#e8283c"/><line x1="285.60" y1="480.60" x2="345.58" y2="449.15" stroke="#f0505e" stroke-width="0.9"/><polygon points="349.30,447.20 346.51,450.92 344.65,447.38" fill="#e8283c"/><line x1="285.60" y1="480.60" x2="347.82" y2="450.43" stroke="#f0505e" stroke-width="0.9"/><polygon points="351.60,448.60 348.69,452.23 346.95,448.63" fill="#e8283c"/><line x1="285.60" y1="480.60" x2="344.43" y2="451.65" stroke="#f0505e" stroke-width="0.9"/><polygon points="348.20,449.80 345.31,453.45 343.55,449.86" fill="#e8283c"/><line x1="285.60" y1="480.60" x2="336.34" y2="467.08" stroke="#f0505e" stroke-width="0.9"/><polygon points="340.40,466.00 336.86,469.01 335.83,465.15" fill="#e8283c"/><text transform="translate(212.60 428.20) scale(0.930 1)" font-size="6.37" text-anchor="start" fill="#1a1a1a" dominant-baseline="central">Af (Pa*s^1/z)</text><text transform="translate(214.60 434.20) scale(0.930 1)" font-size="6.37" text-anchor="start" fill="#1a1a1a" dominant-baseline="central">G* (Pa)</text><text transform="translate(237.90 434.20) scale(0.930 1)" font-size="6.37" text-anchor="start" fill="#1a1a1a" dominant-baseline="central">z (-)</text><text transform="translate(210.80 442.80) scale(0.930 1)" font-size="6.37" text-anchor="start" fill="#1a1a1a" dominant-baseline="central">G' (Pa)</text><text transform="translate(251.70 440.20) scale(0.930 1)" font-size="6.37" text-anchor="start" fill="#1a1a1a" dominant-baseline="central">η creep (Pa*s)</text><text transform="translate(215.60 456.20) scale(0.930 1)" font-size="6.37" text-anchor="start" fill="#1a1a1a" dominant-baseline="central">G'' (Pa)</text><text transform="translate(225.00 505.30) scale(0.930 1)" font-size="6.37" text-anchor="start" fill="#1a1a1a" dominant-baseline="central">Jel (%)</text><text transform="translate(334.50 514.50) scale(0.930 1)" font-size="6.37" text-anchor="start" fill="#1a1a1a" dominant-baseline="central">tanδ (-)</text><text transform="translate(318.40 426.00) scale(0.930 1)" font-size="6.37" text-anchor="start" fill="#1a1a1a" dominant-baseline="central">J0 rec (1/Pa)</text><text transform="translate(318.00 431.60) scale(0.930 1)" font-size="6.37" text-anchor="start" fill="#1a1a1a" dominant-baseline="central">J1 creep (1/Pa)</text><text transform="translate(327.00 437.20) scale(0.930 1)" font-size="6.37" text-anchor="start" fill="#1a1a1a" dominant-baseline="central">Jmax (1/Pa)</text><text transform="translate(338.60 445.40) scale(0.930 1)" font-size="6.37" text-anchor="start" fill="#1a1a1a" dominant-baseline="central">Jr (1/Pa)</text><text transform="translate(343.60 454.00) scale(0.930 1)" font-size="6.37" text-anchor="start" fill="#1a1a1a" dominant-baseline="central">J2 rec</text><text transform="translate(343.40 460.00) scale(0.930 1)" font-size="6.37" text-anchor="start" fill="#1a1a1a" dominant-baseline="central">J1 rec</text><text transform="translate(319.60 474.20) scale(0.930 1)" font-size="6.37" text-anchor="start" fill="#1a1a1a" dominant-baseline="central">J0 creep (1/Pa)</text><text transform="translate(0.00 600.00) scale(0.980 1)" font-size="10.26" text-anchor="start" fill="#1a1a1a" dominant-baseline="central">c)</text><rect x="33.20" y="604.90" width="134.30" height="64.70" fill="none" stroke="#cfcfcf" stroke-width="0.8"/><line x1="33.20" y1="604.90" x2="33.20" y2="669.60" stroke="#9a9a9a" stroke-width="0.7"/><line x1="100.40" y1="604.90" x2="100.40" y2="669.60" stroke="#9a9a9a" stroke-width="0.7"/><line x1="33.20" y1="669.60" x2="167.50" y2="669.60" stroke="#9a9a9a" stroke-width="0.7"/><line x1="31.40" y1="617.90" x2="33.20" y2="617.90" stroke="#9a9a9a" stroke-width="0.5"/><text transform="translate(30.00 617.90) rotate(-90) scale(0.930 1)" font-size="3.67" text-anchor="middle" fill="#444" dominant-baseline="central" class="s">7</text><line x1="31.40" y1="630.70" x2="33.20" y2="630.70" stroke="#9a9a9a" stroke-width="0.5"/><text transform="translate(30.00 630.70) rotate(-90) scale(0.930 1)" font-size="3.67" text-anchor="middle" fill="#444" dominant-baseline="central" class="s">6</text><line x1="31.40" y1="643.60" x2="33.20" y2="643.60" stroke="#9a9a9a" stroke-width="0.5"/><text transform="translate(30.00 643.60) rotate(-90) scale(0.930 1)" font-size="3.67" text-anchor="middle" fill="#444" dominant-baseline="central" class="s">5</text><line x1="31.40" y1="656.40" x2="33.20" y2="656.40" stroke="#9a9a9a" stroke-width="0.5"/><text transform="translate(30.00 656.40) rotate(-90) scale(0.930 1)" font-size="3.67" text-anchor="middle" fill="#444" dominant-baseline="central" class="s">4</text><line x1="32.10" y1="624.20" x2="33.20" y2="624.20" stroke="#9a9a9a" stroke-width="0.4"/><line x1="32.10" y1="637.10" x2="33.20" y2="637.10" stroke="#9a9a9a" stroke-width="0.4"/><line x1="32.10" y1="650.00" x2="33.20" y2="650.00" stroke="#9a9a9a" stroke-width="0.4"/><line x1="32.10" y1="662.90" x2="33.20" y2="662.90" stroke="#9a9a9a" stroke-width="0.4"/><line x1="32.10" y1="611.20" x2="33.20" y2="611.20" stroke="#9a9a9a" stroke-width="0.4"/><line x1="34.00" y1="669.60" x2="34.00" y2="671.20" stroke="#9a9a9a" stroke-width="0.5"/><text transform="translate(34.00 673.70) scale(0.930 1)" font-size="3.24" text-anchor="middle" fill="#444" dominant-baseline="central" class="s">0</text><line x1="43.00" y1="669.60" x2="43.00" y2="671.20" stroke="#9a9a9a" stroke-width="0.5"/><text transform="translate(43.00 673.70) scale(0.930 1)" font-size="3.24" text-anchor="middle" fill="#444" dominant-baseline="central" class="s">10000</text><line x1="58.20" y1="669.60" x2="58.20" y2="671.20" stroke="#9a9a9a" stroke-width="0.5"/><text transform="translate(58.20 673.70) scale(0.930 1)" font-size="3.24" text-anchor="middle" fill="#444" dominant-baseline="central" class="s">30000</text><line x1="74.40" y1="669.60" x2="74.40" y2="671.20" stroke="#9a9a9a" stroke-width="0.5"/><text transform="translate(74.40 673.70) scale(0.930 1)" font-size="3.24" text-anchor="middle" fill="#444" dominant-baseline="central" class="s">50000</text><line x1="91.30" y1="669.60" x2="91.30" y2="671.20" stroke="#9a9a9a" stroke-width="0.5"/><text transform="translate(91.30 673.70) scale(0.930 1)" font-size="3.24" text-anchor="middle" fill="#444" dominant-baseline="central" class="s">70000</text><line x1="101.60" y1="669.60" x2="101.60" y2="671.20" stroke="#9a9a9a" stroke-width="0.5"/><text transform="translate(101.60 673.70) scale(0.930 1)" font-size="3.24" text-anchor="middle" fill="#444" dominant-baseline="central" class="s">0.2</text><line x1="112.40" y1="669.60" x2="112.40" y2="671.20" stroke="#9a9a9a" stroke-width="0.5"/><text transform="translate(112.40 673.70) scale(0.930 1)" font-size="3.24" text-anchor="middle" fill="#444" dominant-baseline="central" class="s">0.25</text><line x1="123.60" y1="669.60" x2="123.60" y2="671.20" stroke="#9a9a9a" stroke-width="0.5"/><text transform="translate(123.60 673.70) scale(0.930 1)" font-size="3.24" text-anchor="middle" fill="#444" dominant-baseline="central" class="s">0.3</text><line x1="134.30" y1="669.60" x2="134.30" y2="671.20" stroke="#9a9a9a" stroke-width="0.5"/><text transform="translate(134.30 673.70) scale(0.930 1)" font-size="3.24" text-anchor="middle" fill="#444" dominant-baseline="central" class="s">0.35</text><line x1="144.90" y1="669.60" x2="144.90" y2="671.20" stroke="#9a9a9a" stroke-width="0.5"/><text transform="translate(144.90 673.70) scale(0.930 1)" font-size="3.24" text-anchor="middle" fill="#444" dominant-baseline="central" class="s">0.4</text><line x1="155.60" y1="669.60" x2="155.60" y2="671.20" stroke="#9a9a9a" stroke-width="0.5"/><text transform="translate(155.60 673.70) scale(0.930 1)" font-size="3.24" text-anchor="middle" fill="#444" dominant-baseline="central" class="s">0.45</text><text transform="translate(26.00 637.70) rotate(-90) scale(0.930 1)" font-size="3.89" text-anchor="middle" fill="#333" dominant-baseline="central" class="s">z (-)</text><text transform="translate(66.60 677.50) scale(0.930 1)" font-size="3.89" text-anchor="middle" fill="#333" dominant-baseline="central" class="s">Af</text><text transform="translate(67.00 681.70) scale(0.930 1)" font-size="3.78" text-anchor="middle" fill="#333" dominant-baseline="central" class="s">(Pa*s^1/z)</text><text transform="translate(133.30 682.10) scale(0.930 1)" font-size="4.10" text-anchor="middle" fill="#333" dominant-baseline="central" class="s">tanδ (-)</text><path d="M54 638.8h2.6l-1.3 2.4z" fill="#62f74f"/><path d="M46.4 641.4a1 1 0 1 0 2.1 0a1 1 0 1 0 -2.1 0z" fill="#1c8a2c"/><path d="M42.3 650.2h2.6l-1.3 -2.4z" fill="none" stroke="#1fc3ef" stroke-width=".95"/><path d="M38.2 648.7h2.6l-1.3 2.4z" fill="#62f74f"/><path d="M38.7 647.5h2.6l-1.3 -2.4z" fill="#ff78c8"/><path d="M41.5 645.3h2.1v2.1h-2.1z" fill="none" stroke="#d9731f" stroke-width=".95"/><path d="M38.4 646.7h2.1v2.1h-2.1z" fill="none" stroke="#d9731f" stroke-width=".95"/><path d="M32.1 648.1h2.6l-1.3 2.4z" fill="#62f74f"/><path d="M39 653.5h2.6l-1.3 -2.4z" fill="none" stroke="#1fc3ef" stroke-width=".95"/><path d="M51 644.9l1.3 1.3l-1.3 1.3l-1.3 -1.3z" fill="#cc1638"/><path d="M52.3 642.6a1 1 0 1 0 2.1 0a1 1 0 1 0 -2.1 0z" fill="#1c8a2c"/><path d="M50.7 641.3h2.6l-1.3 -2.4z" fill="none" stroke="#1fc3ef" stroke-width=".95"/><path d="M49.2 647.3h2.6l-1.3 -2.4z" fill="none" stroke="#1fc3ef" stroke-width=".95"/><path d="M55.6 640.4h2.1v2.1h-2.1z" fill="none" stroke="#d9731f" stroke-width=".95"/><path d="M52.5 643.2h2.6l-1.3 2.4z" fill="none" stroke="#1f4fbf" stroke-width=".95"/><path d="M55.9 636.8h2.1v2.1h-2.1z" fill="none" stroke="#d9731f" stroke-width=".95"/><path d="M36.2 648.2h2.6l-1.3 -2.4z" fill="#ff78c8"/><path d="M47.1 644.5h2.6l-1.3 2.4z" fill="none" stroke="#1f4fbf" stroke-width=".95"/><path d="M38.2 647h2.1v2.1h-2.1z" fill="#b4591a"/><path d="M50.3 641.8h2.6l-1.3 2.4z" fill="none" stroke="#1f4fbf" stroke-width=".95"/><path d="M47.3 644h2.1v2.1h-2.1z" fill="#b4591a"/><path d="M50.7 642.1h2.6l-1.3 2.4z" fill="#62f74f"/><path d="M54.5 641.5l1.3 1.3l-1.3 1.3l-1.3 -1.3z" fill="#cc1638"/><path d="M38.7 647.8h2.1v2.1h-2.1z" fill="none" stroke="#d9731f" stroke-width=".95"/><path d="M48.4 642.7h2.6l-1.3 -2.4z" fill="none" stroke="#1fc3ef" stroke-width=".95"/><path d="M42.6 647.5h2.1v2.1h-2.1z" fill="none" stroke="#d9731f" stroke-width=".95"/><path d="M43.5 641.9a1 1 0 1 0 2.1 0a1 1 0 1 0 -2.1 0z" fill="#1c8a2c"/><path d="M52.6 639.7h2.6l-1.3 -2.4z" fill="#ff78c8"/><path d="M40.6 648.8h2.6l-1.3 -2.4z" fill="#ff78c8"/><path d="M54.1 642.9a1 1 0 1 0 2.1 0a1 1 0 1 0 -2.1 0z" fill="#1c8a2c"/><path d="M46.4 646.2h2.6l-1.3 -2.4z" fill="#ff78c8"/><path d="M35.5 657.8h2.6l-1.3 -2.4z" fill="none" stroke="#1fc3ef" stroke-width=".95"/><path d="M40.4 655h2.6l-1.3 -2.4z" fill="none" stroke="#1fc3ef" stroke-width=".95"/><path d="M39 651.6h2.6l-1.3 -2.4z" fill="none" stroke="#1fc3ef" stroke-width=".95"/><path d="M37.5 655.2h2.6l-1.3 -2.4z" fill="none" stroke="#1fc3ef" stroke-width=".95"/><path d="M40.6 652.3h2.6l-1.3 -2.4z" fill="#ff78c8"/><path d="M37.2 655h2.6l-1.3 -2.4z" fill="#ff78c8"/><path d="M39.8 652.6h2.6l-1.3 -2.4z" fill="#ff78c8"/><path d="M39.4 651.5h2.6l-1.3 -2.4z" fill="none" stroke="#1fc3ef" stroke-width=".95"/><path d="M41.4 651.4h2.6l-1.3 -2.4z" fill="none" stroke="#1fc3ef" stroke-width=".95"/><path d="M42.8 648.4h2.6l-1.3 -2.4z" fill="#ff78c8"/><path d="M40.3 651.2h2.6l-1.3 -2.4z" fill="#ff78c8"/><path d="M43.8 649.2h2.6l-1.3 -2.4z" fill="none" stroke="#1fc3ef" stroke-width=".95"/><path d="M43.4 649l1.3 1.3l-1.3 1.3l-1.3 -1.3z" fill="#b3a000"/><path d="M48.5 609.5h2.6l-1.3 -2.4z" fill="#ff78c8"/><path d="M44.9 618.5h2.6l-1.3 -2.4z" fill="#ff78c8"/><path d="M48.3 618.3h2.6l-1.3 -2.4z" fill="#ff78c8"/><path d="M44.3 634.5h2.6l-1.3 -2.4z" fill="#ff78c8"/><path d="M47 638.7h2.6l-1.3 -2.4z" fill="#ff78c8"/><path d="M45 642.2h2.6l-1.3 -2.4z" fill="#ff78c8"/><path d="M43.5 646.2h2.6l-1.3 -2.4z" fill="#ff78c8"/><path d="M41.7 651.2h2.6l-1.3 -2.4z" fill="#ff78c8"/><path d="M48.7 652.2h2.6l-1.3 -2.4z" fill="#ff78c8"/><path d="M65.8 617.1h2.6l-1.3 2.4z" fill="#62f74f"/><path d="M71.4 615.9h2.6l-1.3 2.4z" fill="#62f74f"/><path d="M78.9 613.2h2.6l-1.3 2.4z" fill="#62f74f"/><path d="M61.7 622.6h2.6l-1.3 2.4z" fill="#62f74f"/><path d="M62.7 625.7h2.6l-1.3 2.4z" fill="#62f74f"/><path d="M52.2 648h2.6l-1.3 2.4z" fill="#62f74f"/><path d="M54.2 647.8h2.6l-1.3 2.4z" fill="#62f74f"/><path d="M46.7 644.8h2.6l-1.3 2.4z" fill="#62f74f"/><path d="M54 637a1 1 0 1 0 2.1 0a1 1 0 1 0 -2.1 0z" fill="#1c8a2c"/><path d="M51 641a1 1 0 1 0 2.1 0a1 1 0 1 0 -2.1 0z" fill="#1c8a2c"/><path d="M56 640h2.6l-1.3 2.4z" fill="none" stroke="#1f4fbf" stroke-width=".95"/><path d="M57.5 638.8h2.6l-1.3 2.4z" fill="none" stroke="#1f4fbf" stroke-width=".95"/><path d="M59.1 637.3h2.6l-1.3 2.4z" fill="none" stroke="#1f4fbf" stroke-width=".95"/><path d="M62.2 638.8h2.6l-1.3 2.4z" fill="none" stroke="#1f4fbf" stroke-width=".95"/><path d="M67 638.2h2.6l-1.3 2.4z" fill="none" stroke="#1f4fbf" stroke-width=".95"/><path d="M75.2 637.3h2.6l-1.3 2.4z" fill="none" stroke="#1f4fbf" stroke-width=".95"/><path d="M76.2 638.6h2.6l-1.3 2.4z" fill="none" stroke="#1f4fbf" stroke-width=".95"/><path d="M79.7 638.8h2.6l-1.3 2.4z" fill="none" stroke="#1f4fbf" stroke-width=".95"/><path d="M85.2 637.1h2.6l-1.3 2.4z" fill="none" stroke="#1f4fbf" stroke-width=".95"/><path d="M92.7 634.8h2.6l-1.3 2.4z" fill="none" stroke="#1f4fbf" stroke-width=".95"/><path d="M57.8 632.7h2.1v2.1h-2.1z" fill="none" stroke="#d9731f" stroke-width=".95"/><path d="M38.5 659.2l1.3 1.3l-1.3 1.3l-1.3 -1.3z" fill="#cc1638"/><path d="M41.5 658.7l1.3 1.3l-1.3 1.3l-1.3 -1.3z" fill="#cc1638"/><path d="M39.5 662.2l1.3 1.3l-1.3 1.3l-1.3 -1.3z" fill="#cc1638"/><path d="M37.5 665.2l1.3 1.3l-1.3 1.3l-1.3 -1.3z" fill="#cc1638"/><path d="M42 657.2l1.3 1.3l-1.3 1.3l-1.3 -1.3z" fill="#cc1638"/><path d="M34.5 668a1 1 0 1 0 2 0a1 1 0 1 0 -2 0z" fill="none" stroke="#e5334b" stroke-width=".95"/><path d="M37 662a1 1 0 1 0 2 0a1 1 0 1 0 -2 0z" fill="none" stroke="#e5334b" stroke-width=".95"/><path d="M148.9 654.8a1 1 0 1 0 2.1 0a1 1 0 1 0 -2.1 0z" fill="#1c8a2c"/><path d="M143.4 649l2.1 2.1m0 -2.1l-2.1 2.1" fill="none" stroke="#8c8c8c" stroke-width=".95"/><path d="M148.8 653.3h2.1v2.1h-2.1z" fill="#b4591a"/><path d="M122.7 635.3h2.1v2.1h-2.1z" fill="none" stroke="#d9731f" stroke-width=".95"/><path d="M139.8 646l1.3 1.3l-1.3 1.3l-1.3 -1.3z" fill="#b3a000"/><path d="M123.9 638.8h2.6l-1.3 -2.4z" fill="none" stroke="#1fc3ef" stroke-width=".95"/><path d="M128.8 640.2l2.1 2.1m0 -2.1l-2.1 2.1" fill="none" stroke="#8c8c8c" stroke-width=".95"/><path d="M139.2 648.1l2.1 2.1m0 -2.1l-2.1 2.1" fill="none" stroke="#8c8c8c" stroke-width=".95"/><path d="M125.5 635.3l1.3 1.3l-1.3 1.3l-1.3 -1.3z" fill="#b3a000"/><path d="M147.2 653.2a1 1 0 1 0 2.1 0a1 1 0 1 0 -2.1 0z" fill="#1c8a2c"/><path d="M150.7 653.5l1.3 1.3l-1.3 1.3l-1.3 -1.3z" fill="#b3a000"/><path d="M126.6 640.7a1 1 0 1 0 2.1 0a1 1 0 1 0 -2.1 0z" fill="#1c8a2c"/><path d="M126.5 639.4h2.6l-1.3 2.4z" fill="none" stroke="#1f4fbf" stroke-width=".95"/><path d="M143.3 649.3l1.3 1.3l-1.3 1.3l-1.3 -1.3z" fill="#b3a000"/><path d="M125.9 639.6h2.1v2.1h-2.1z" fill="#b4591a"/><path d="M131.2 638.7l1.3 1.3l-1.3 1.3l-1.3 -1.3z" fill="#b3a000"/><path d="M137 646.4h2.1v2.1h-2.1z" fill="#b4591a"/><path d="M127.6 639.7h2.1v2.1h-2.1z" fill="#b4591a"/><path d="M132.4 644.2h2.6l-1.3 2.4z" fill="none" stroke="#1f4fbf" stroke-width=".95"/><path d="M124 637.9h2.1v2.1h-2.1z" fill="#b4591a"/><path d="M150 652.7l1.3 1.3l-1.3 1.3l-1.3 -1.3z" fill="#b3a000"/><path d="M147.2 651.2h2.1v2.1h-2.1z" fill="#b4591a"/><path d="M125.9 640.6h2.1v2.1h-2.1z" fill="#b4591a"/><path d="M148.9 654.2h2.1v2.1h-2.1z" fill="#b4591a"/><path d="M123.8 634.6h2.1v2.1h-2.1z" fill="none" stroke="#d9731f" stroke-width=".95"/><path d="M128.4 641.9h2.6l-1.3 -2.4z" fill="none" stroke="#1fc3ef" stroke-width=".95"/><path d="M120.7 634.8h2.6l-1.3 2.4z" fill="none" stroke="#1f4fbf" stroke-width=".95"/><path d="M122.2 636.3h2.6l-1.3 2.4z" fill="none" stroke="#1f4fbf" stroke-width=".95"/><path d="M123.7 637.8h2.6l-1.3 2.4z" fill="none" stroke="#1f4fbf" stroke-width=".95"/><path d="M125.2 639.3h2.6l-1.3 2.4z" fill="none" stroke="#1f4fbf" stroke-width=".95"/><path d="M122.7 636.8h2.6l-1.3 2.4z" fill="none" stroke="#1f4fbf" stroke-width=".95"/><path d="M103.1 609.5h2.6l-1.3 -2.4z" fill="#ff78c8"/><path d="M111.7 618.5h2.6l-1.3 -2.4z" fill="#ff78c8"/><path d="M123.7 618.5h2.6l-1.3 -2.4z" fill="#ff78c8"/><path d="M143.7 634.9h2.6l-1.3 -2.4z" fill="#ff78c8"/><path d="M134.3 639.2h2.6l-1.3 -2.4z" fill="#ff78c8"/><path d="M127.5 652.9h2.6l-1.3 -2.4z" fill="#ff78c8"/><path d="M130.2 658.5h2.6l-1.3 -2.4z" fill="#ff78c8"/><path d="M125.7 655.2h2.6l-1.3 -2.4z" fill="#ff78c8"/><path d="M128.7 653.2h2.6l-1.3 -2.4z" fill="#ff78c8"/><path d="M100.2 613.4h2.6l-1.3 2.4z" fill="#62f74f"/><path d="M102.7 616.8h2.6l-1.3 2.4z" fill="#62f74f"/><path d="M106.2 616.6h2.6l-1.3 2.4z" fill="#62f74f"/><path d="M105 622.6h2.6l-1.3 2.4z" fill="#62f74f"/><path d="M107.5 625.5h2.6l-1.3 2.4z" fill="#62f74f"/><path d="M105.3 643.6h2.6l-1.3 2.4z" fill="#62f74f"/><path d="M115.2 642.8h2.6l-1.3 2.4z" fill="#62f74f"/><path d="M121.2 645.3h2.6l-1.3 2.4z" fill="#62f74f"/><path d="M138.7 637.5h2.6l-1.3 2.4z" fill="#62f74f"/><path d="M146.2 654.3h2.6l-1.3 2.4z" fill="#62f74f"/><path d="M148.2 654.8h2.6l-1.3 2.4z" fill="#62f74f"/><path d="M123.2 648.8h2.6l-1.3 2.4z" fill="#62f74f"/><path d="M122.3 632.5h2.1v2.1h-2.1z" fill="none" stroke="#d9731f" stroke-width=".95"/><path d="M141 646.5l2.1 2.1m0 -2.1l-2.1 2.1" fill="none" stroke="#8c8c8c" stroke-width=".95"/><path d="M143.5 647.5l2.1 2.1m0 -2.1l-2.1 2.1" fill="none" stroke="#8c8c8c" stroke-width=".95"/><path d="M145.5 653l2.1 2.1m0 -2.1l-2.1 2.1" fill="none" stroke="#8c8c8c" stroke-width=".95"/><path d="M148.7 648.7h2.6l-1.3 -2.4z" fill="none" stroke="#1fc3ef" stroke-width=".95"/><path d="M147.2 653.5h2.6l-1.3 -2.4z" fill="none" stroke="#1fc3ef" stroke-width=".95"/><path d="M148.2 658.2h2.6l-1.3 -2.4z" fill="none" stroke="#1fc3ef" stroke-width=".95"/><path d="M141.7 652.2h2.6l-1.3 -2.4z" fill="none" stroke="#1fc3ef" stroke-width=".95"/><path d="M139.7 654.7h2.6l-1.3 -2.4z" fill="none" stroke="#1fc3ef" stroke-width=".95"/><path d="M154.6 656l1.3 1.3l-1.3 1.3l-1.3 -1.3z" fill="#cc1638"/><path d="M157 658.7l1.3 1.3l-1.3 1.3l-1.3 -1.3z" fill="#cc1638"/><path d="M159.6 658l1.3 1.3l-1.3 1.3l-1.3 -1.3z" fill="#cc1638"/><path d="M157 660.7l1.3 1.3l-1.3 1.3l-1.3 -1.3z" fill="#cc1638"/><path d="M153 662.2l1.3 1.3l-1.3 1.3l-1.3 -1.3z" fill="#cc1638"/><path d="M160 657.2l1.3 1.3l-1.3 1.3l-1.3 -1.3z" fill="#cc1638"/><path d="M156.5 665.7l1.3 1.3l-1.3 1.3l-1.3 -1.3z" fill="#cc1638"/><path d="M163 666.9l1.3 1.3l-1.3 1.3l-1.3 -1.3z" fill="#cc1638"/><path d="M158.5 659.7l1.3 1.3l-1.3 1.3l-1.3 -1.3z" fill="#cc1638"/><path d="M154.5 661.5a1 1 0 1 0 2 0a1 1 0 1 0 -2 0z" fill="none" stroke="#e5334b" stroke-width=".95"/><path d="M162 660.7l1.3 1.3l-1.3 1.3l-1.3 -1.3z" fill="none" stroke="#8a35d2" stroke-width=".95"/><text transform="translate(190.00 600.00) scale(0.980 1)" font-size="10.26" text-anchor="start" fill="#1a1a1a" dominant-baseline="central">d)</text><rect x="210.50" y="604.80" width="135.90" height="67.60" fill="none" stroke="#cfcfcf" stroke-width="0.8"/><line x1="210.50" y1="604.80" x2="210.50" y2="672.40" stroke="#9a9a9a" stroke-width="0.7"/><line x1="278.50" y1="604.80" x2="278.50" y2="672.40" stroke="#9a9a9a" stroke-width="0.7"/><line x1="210.50" y1="672.40" x2="346.40" y2="672.40" stroke="#9a9a9a" stroke-width="0.7"/><line x1="208.90" y1="608.20" x2="210.50" y2="608.20" stroke="#9a9a9a" stroke-width="0.45"/><text transform="translate(208.10 608.30) scale(0.930 1)" font-size="3.02" text-anchor="end" fill="#555" dominant-baseline="central" class="s">0.5</text><line x1="208.90" y1="613.00" x2="210.50" y2="613.00" stroke="#9a9a9a" stroke-width="0.45"/><text transform="translate(208.10 613.10) scale(0.930 1)" font-size="3.02" text-anchor="end" fill="#555" dominant-baseline="central" class="s">0.2</text><line x1="208.90" y1="617.60" x2="210.50" y2="617.60" stroke="#9a9a9a" stroke-width="0.45"/><text transform="translate(208.10 617.70) scale(0.930 1)" font-size="3.02" text-anchor="end" fill="#555" dominant-baseline="central" class="s">0.1</text><line x1="208.90" y1="621.40" x2="210.50" y2="621.40" stroke="#9a9a9a" stroke-width="0.45"/><text transform="translate(208.10 621.50) scale(0.930 1)" font-size="3.02" text-anchor="end" fill="#555" dominant-baseline="central" class="s">0.05</text><line x1="208.90" y1="625.30" x2="210.50" y2="625.30" stroke="#9a9a9a" stroke-width="0.45"/><text transform="translate(208.10 625.40) scale(0.930 1)" font-size="3.02" text-anchor="end" fill="#555" dominant-baseline="central" class="s">0.03</text><line x1="208.90" y1="629.10" x2="210.50" y2="629.10" stroke="#9a9a9a" stroke-width="0.45"/><text transform="translate(208.10 629.20) scale(0.930 1)" font-size="3.02" text-anchor="end" fill="#555" dominant-baseline="central" class="s">0.02</text><line x1="208.90" y1="634.00" x2="210.50" y2="634.00" stroke="#9a9a9a" stroke-width="0.45"/><text transform="translate(208.10 634.10) scale(0.930 1)" font-size="3.02" text-anchor="end" fill="#555" dominant-baseline="central" class="s">0.01</text><line x1="208.90" y1="637.40" x2="210.50" y2="637.40" stroke="#9a9a9a" stroke-width="0.45"/><text transform="translate(208.10 637.50) scale(0.930 1)" font-size="3.02" text-anchor="end" fill="#555" dominant-baseline="central" class="s">0.005</text><line x1="208.90" y1="640.70" x2="210.50" y2="640.70" stroke="#9a9a9a" stroke-width="0.45"/><text transform="translate(208.10 640.80) scale(0.930 1)" font-size="3.02" text-anchor="end" fill="#555" dominant-baseline="central" class="s">0.003</text><line x1="208.90" y1="644.50" x2="210.50" y2="644.50" stroke="#9a9a9a" stroke-width="0.45"/><text transform="translate(208.10 644.60) scale(0.930 1)" font-size="3.02" text-anchor="end" fill="#555" dominant-baseline="central" class="s">0.002</text><line x1="208.90" y1="650.00" x2="210.50" y2="650.00" stroke="#9a9a9a" stroke-width="0.45"/><text transform="translate(208.10 650.10) scale(0.930 1)" font-size="3.02" text-anchor="end" fill="#555" dominant-baseline="central" class="s">0.001</text><line x1="208.90" y1="653.30" x2="210.50" y2="653.30" stroke="#9a9a9a" stroke-width="0.45"/><text transform="translate(208.10 653.40) scale(0.930 1)" font-size="3.02" text-anchor="end" fill="#555" dominant-baseline="central" class="s">0.0005</text><line x1="208.90" y1="656.60" x2="210.50" y2="656.60" stroke="#9a9a9a" stroke-width="0.45"/><text transform="translate(208.10 656.70) scale(0.930 1)" font-size="3.02" text-anchor="end" fill="#555" dominant-baseline="central" class="s">0.0003</text><line x1="208.90" y1="661.00" x2="210.50" y2="661.00" stroke="#9a9a9a" stroke-width="0.45"/><text transform="translate(208.10 661.10) scale(0.930 1)" font-size="3.02" text-anchor="end" fill="#555" dominant-baseline="central" class="s">0.0002</text><line x1="208.90" y1="666.00" x2="210.50" y2="666.00" stroke="#9a9a9a" stroke-width="0.45"/><text transform="translate(208.10 666.10) scale(0.930 1)" font-size="3.02" text-anchor="end" fill="#555" dominant-baseline="central" class="s">0.0001</text><line x1="208.90" y1="669.50" x2="210.50" y2="669.50" stroke="#9a9a9a" stroke-width="0.45"/><text transform="translate(208.10 669.60) scale(0.930 1)" font-size="3.02" text-anchor="end" fill="#555" dominant-baseline="central" class="s">0.00005</text><line x1="214.70" y1="672.40" x2="214.70" y2="674.20" stroke="#9a9a9a" stroke-width="0.5"/><text transform="translate(214.70 675.50) scale(0.930 1)" font-size="3.46" text-anchor="middle" fill="#444" dominant-baseline="central" class="s">0</text><line x1="230.70" y1="672.40" x2="230.70" y2="674.20" stroke="#9a9a9a" stroke-width="0.5"/><text transform="translate(230.70 675.50) scale(0.930 1)" font-size="3.46" text-anchor="middle" fill="#444" dominant-baseline="central" class="s">0.0005</text><line x1="246.80" y1="672.40" x2="246.80" y2="674.20" stroke="#9a9a9a" stroke-width="0.5"/><text transform="translate(246.80 675.50) scale(0.930 1)" font-size="3.46" text-anchor="middle" fill="#444" dominant-baseline="central" class="s">0.001</text><line x1="262.30" y1="672.40" x2="262.30" y2="674.20" stroke="#9a9a9a" stroke-width="0.5"/><text transform="translate(262.30 675.50) scale(0.930 1)" font-size="3.46" text-anchor="middle" fill="#444" dominant-baseline="central" class="s">0.0015</text><line x1="283.40" y1="672.40" x2="283.40" y2="674.20" stroke="#9a9a9a" stroke-width="0.5"/><text transform="translate(283.40 675.50) scale(0.930 1)" font-size="3.46" text-anchor="middle" fill="#444" dominant-baseline="central" class="s">0</text><line x1="301.00" y1="672.40" x2="301.00" y2="674.20" stroke="#9a9a9a" stroke-width="0.5"/><text transform="translate(301.00 675.50) scale(0.930 1)" font-size="3.46" text-anchor="middle" fill="#444" dominant-baseline="central" class="s">5000000</text><line x1="318.50" y1="672.40" x2="318.50" y2="674.20" stroke="#9a9a9a" stroke-width="0.5"/><text transform="translate(318.50 675.50) scale(0.930 1)" font-size="3.46" text-anchor="middle" fill="#444" dominant-baseline="central" class="s">10000000</text><line x1="336.00" y1="672.40" x2="336.00" y2="674.20" stroke="#9a9a9a" stroke-width="0.5"/><text transform="translate(336.00 675.50) scale(0.930 1)" font-size="3.46" text-anchor="middle" fill="#444" dominant-baseline="central" class="s">15000000</text><text transform="translate(195.30 638.00) rotate(-90) scale(0.930 1)" font-size="3.78" text-anchor="middle" fill="#444" dominant-baseline="central" class="s">Jmax (1/Pa)</text><text transform="translate(245.00 678.80) scale(0.930 1)" font-size="3.78" text-anchor="middle" fill="#444" dominant-baseline="central" class="s">J0 creep</text><text transform="translate(245.00 682.60) scale(0.930 1)" font-size="3.78" text-anchor="middle" fill="#444" dominant-baseline="central" class="s">(1/Pa)</text><text transform="translate(311.30 678.80) scale(0.930 1)" font-size="3.78" text-anchor="middle" fill="#444" dominant-baseline="central" class="s">η creep</text><text transform="translate(311.30 682.60) scale(0.930 1)" font-size="3.78" text-anchor="middle" fill="#444" dominant-baseline="central" class="s">(Pa*s)</text><path d="M225.8 642.3h1.8l-.9 1.8z" fill="none" stroke="#1f4fbf" stroke-width=".95"/><path d="M221.2 648h1.5v1.5h-1.5z" fill="none" stroke="#d9731f" stroke-width=".95"/><path d="M225.1 643.7h1.8l-.9 -1.8z" fill="none" stroke="#1fc3ef" stroke-width=".95"/><path d="M216.5 666.1l.9 .9l-.9 .9l-.9 -.9z" fill="#cc1638"/><path d="M226.2 642.5h1.8l-.9 1.8z" fill="#62f74f"/><path d="M218.6 653.1h1.8l-.9 1.8z" fill="none" stroke="#1f4fbf" stroke-width=".95"/><path d="M221 648.1h1.8l-.9 1.8z" fill="#62f74f"/><path d="M224 644.4h1.5v1.5h-1.5z" fill="#b4591a"/><path d="M220.8 650.3h1.8l-.9 1.8z" fill="none" stroke="#1f4fbf" stroke-width=".95"/><path d="M221.4 649.2h1.8l-.9 1.8z" fill="none" stroke="#1f4fbf" stroke-width=".95"/><path d="M216.4 661.9h1.5v1.5h-1.5z" fill="none" stroke="#d9731f" stroke-width=".95"/><path d="M214.8 664.5h1.5v1.5h-1.5z" fill="#b4591a"/><path d="M217.4 659.7l.9 .9l-.9 .9l-.9 -.9z" fill="#cc1638"/><path d="M215.6 663.8h1.5v1.5h-1.5z" fill="#b4591a"/><path d="M218.1 656.6h1.8l-.9 -1.8z" fill="none" stroke="#1fc3ef" stroke-width=".95"/><path d="M215.1 664h1.8l-.9 -1.8z" fill="none" stroke="#1fc3ef" stroke-width=".95"/><path d="M214.9 661.7h1.8l-.9 1.8z" fill="none" stroke="#1f4fbf" stroke-width=".95"/><path d="M218.1 655.3h1.8l-.9 1.8z" fill="#62f74f"/><path d="M226.3 642.2h1.5v1.5h-1.5z" fill="none" stroke="#d9731f" stroke-width=".95"/><path d="M221.8 649.8l.9 .9l-.9 .9l-.9 -.9z" fill="#cc1638"/><path d="M221.1 650.1a.8 .8 0 1 0 1.5 0a.8 .8 0 1 0 -1.5 0z" fill="#1c8a2c"/><path d="M217.7 654.3h1.8l-.9 1.8z" fill="#62f74f"/><path d="M216.9 658.4h1.5v1.5h-1.5z" fill="#b4591a"/><path d="M217.3 657.2h1.8l-.9 1.8z" fill="none" stroke="#1f4fbf" stroke-width=".95"/><path d="M214.9 664.5h1.5v1.5h-1.5z" fill="none" stroke="#d9731f" stroke-width=".95"/><path d="M224.8 642.5h1.8l-.9 1.8z" fill="#62f74f"/><path d="M215.4 665.2h1.8l-.9 1.8z" fill="none" stroke="#1f4fbf" stroke-width=".95"/><path d="M214.4 664.2h1.8l-.9 1.8z" fill="none" stroke="#1f4fbf" stroke-width=".95"/><path d="M217.1 661.1a.8 .8 0 1 0 1.5 0a.8 .8 0 1 0 -1.5 0z" fill="#1c8a2c"/><path d="M218 656.7h1.8l-.9 1.8z" fill="none" stroke="#1f4fbf" stroke-width=".95"/><path d="M217.1 660l.9 .9l-.9 .9l-.9 -.9z" fill="#cc1638"/><path d="M216.9 659.1h1.8l-.9 1.8z" fill="#62f74f"/><path d="M214.9 665h1.8l-.9 1.8z" fill="#62f74f"/><path d="M225.2 642.1h1.8l-.9 1.8z" fill="none" stroke="#1f4fbf" stroke-width=".95"/><path d="M223.3 645h1.8l-.9 1.8z" fill="none" stroke="#1f4fbf" stroke-width=".95"/><path d="M223.8 646.7h1.5v1.5h-1.5z" fill="none" stroke="#d9731f" stroke-width=".95"/><path d="M220.2 651.5a.8 .8 0 1 0 1.5 0a.8 .8 0 1 0 -1.5 0z" fill="#1c8a2c"/><path d="M222.9 646.7h1.8l-.9 1.8z" fill="none" stroke="#1f4fbf" stroke-width=".95"/><path d="M221.8 646.8h1.8l-.9 1.8z" fill="none" stroke="#1f4fbf" stroke-width=".95"/><path d="M218.2 654.2h1.8l-.9 1.8z" fill="none" stroke="#1f4fbf" stroke-width=".95"/><path d="M224.1 645h1.8l-.9 1.8z" fill="#62f74f"/><path d="M216.7 660.8h1.8l-.9 1.8z" fill="#62f74f"/><path d="M215.8 661.2h1.5v1.5h-1.5z" fill="#b4591a"/><path d="M222.5 648.1h1.8l-.9 1.8z" fill="#62f74f"/><path d="M223.4 646.2l.9 .9l-.9 .9l-.9 -.9z" fill="#cc1638"/><path d="M217.2 657.4h1.5v1.5h-1.5z" fill="#b4591a"/><path d="M224.8 645.6h2.4l-1.2 -2.3z" fill="#ff78c8"/><path d="M226.8 646.6h2.4l-1.2 -2.3z" fill="#ff78c8"/><path d="M228.8 648.6h2.4l-1.2 -2.3z" fill="#ff78c8"/><path d="M226.3 647.6h2.4l-1.2 -2.3z" fill="#ff78c8"/><path d="M222.8 640.9h2.4l-1.2 2.3z" fill="#62f74f"/><path d="M224.8 640.4h2.4l-1.2 2.3z" fill="#62f74f"/><path d="M226.3 639.9h2.4l-1.2 2.3z" fill="#62f74f"/><path d="M233.8 610.1h2.4l-1.2 -2.3z" fill="none" stroke="#1fc3ef" stroke-width=".95"/><path d="M239.8 612.6h2.4l-1.2 -2.3z" fill="none" stroke="#1fc3ef" stroke-width=".95"/><path d="M248.2 613.5h2.4l-1.2 -2.3z" fill="none" stroke="#1fc3ef" stroke-width=".95"/><path d="M236.8 624.6h2.4l-1.2 -2.3z" fill="none" stroke="#1fc3ef" stroke-width=".95"/><path d="M238.8 624.6h2.4l-1.2 -2.3z" fill="none" stroke="#1fc3ef" stroke-width=".95"/><path d="M240.6 623.1h2.4l-1.2 -2.3z" fill="none" stroke="#1fc3ef" stroke-width=".95"/><path d="M231.1 631.5h2.4l-1.2 -2.3z" fill="none" stroke="#1fc3ef" stroke-width=".95"/><path d="M227.3 635.1h2.4l-1.2 -2.3z" fill="none" stroke="#1fc3ef" stroke-width=".95"/><path d="M225.3 636.3h2.4l-1.2 -2.3z" fill="none" stroke="#1fc3ef" stroke-width=".95"/><path d="M218.8 646.1h2.4l-1.2 -2.3z" fill="none" stroke="#1fc3ef" stroke-width=".95"/><path d="M214.1 624.1h1.8v1.8h-1.8z" fill="#e0607a"/><path d="M217.1 625.6h1.8v1.8h-1.8z" fill="#e0607a"/><path d="M221.1 624.6h1.8v1.8h-1.8z" fill="#e0607a"/><path d="M224.6 623.1h1.8v1.8h-1.8z" fill="#e0607a"/><path d="M230.1 627.1h1.8v1.8h-1.8z" fill="#e0607a"/><path d="M222.6 628.4h1.8v1.8h-1.8z" fill="#e0607a"/><path d="M224.1 630.6h1.8v1.8h-1.8z" fill="#e0607a"/><path d="M223.1 632.6h1.8v1.8h-1.8z" fill="#e0607a"/><path d="M252.6 619.6h1.8v1.8h-1.8z" fill="#e0607a"/><path d="M220.6 636.6h1.8v1.8h-1.8z" fill="#e0607a"/><path d="M272 615.3l1.2 1.2l-1.2 1.2l-1.2 -1.2z" fill="#b3a000"/><path d="M273.5 617.3l1.2 1.2l-1.2 1.2l-1.2 -1.2z" fill="#b3a000"/><path d="M276.5 614.3l1.2 1.2l-1.2 1.2l-1.2 -1.2z" fill="#b3a000"/><path d="M234 636.6l1.2 1.2l-1.2 1.2l-1.2 -1.2z" fill="#b3a000"/><path d="M237.7 635.2l1.2 1.2l-1.2 1.2l-1.2 -1.2z" fill="#b3a000"/><path d="M222.5 629.3l1.2 1.2l-1.2 1.2l-1.2 -1.2z" fill="none" stroke="#8a35d2" stroke-width=".95"/><path d="M282.8 608.7h1.5l-.7 -1.4z" fill="none" stroke="#1fc3ef" stroke-width=".95"/><path d="M282.8 609.5h1.5l-.7 -1.4z" fill="none" stroke="#1fc3ef" stroke-width=".95"/><path d="M282.8 610.3h1.5l-.7 -1.4z" fill="none" stroke="#1fc3ef" stroke-width=".95"/><path d="M283.2 611.1h1.5l-.7 -1.4z" fill="none" stroke="#1fc3ef" stroke-width=".95"/><path d="M282.8 612h1.5l-.7 -1.4z" fill="none" stroke="#1fc3ef" stroke-width=".95"/><path d="M282.7 612.8h1.5l-.7 -1.4z" fill="none" stroke="#1fc3ef" stroke-width=".95"/><path d="M282.8 613.6h1.5l-.7 -1.4z" fill="none" stroke="#1fc3ef" stroke-width=".95"/><path d="M283.5 612.9l.7 .7l-.7 .7l-.7 -.7z" fill="#b3a000"/><path d="M283.8 613.8l.7 .7l-.7 .7l-.7 -.7z" fill="#b3a000"/><path d="M283.8 614.6l.7 .7l-.7 .7l-.7 -.7z" fill="#b3a000"/><path d="M282.7 616.8h1.5l-.7 -1.4z" fill="none" stroke="#1fc3ef" stroke-width=".95"/><path d="M283.9 616.2l.7 .7l-.7 .7l-.7 -.7z" fill="#b3a000"/><path d="M283.2 618.5h1.5l-.7 -1.4z" fill="none" stroke="#1fc3ef" stroke-width=".95"/><path d="M282.7 619.3h1.5l-.7 -1.4z" fill="none" stroke="#1fc3ef" stroke-width=".95"/><path d="M283.5 618.6l.7 .7l-.7 .7l-.7 -.7z" fill="#b3a000"/><path d="M283.5 619.5l.7 .7l-.7 .7l-.7 -.7z" fill="#cc1638"/><path d="M283.4 621a.6 .6 0 1 0 1.2 0a.6 .6 0 1 0 -1.2 0z" fill="none" stroke="#e5334b" stroke-width=".95"/><path d="M283.7 621.1l.7 .7l-.7 .7l-.7 -.7z" fill="#cc1638"/><path d="M283.1 622.7a.6 .6 0 1 0 1.2 0a.6 .6 0 1 0 -1.2 0z" fill="none" stroke="#e5334b" stroke-width=".95"/><path d="M283.1 624.2h1.5l-.7 -1.4z" fill="#ff78c8"/><path d="M282.9 624.3a.6 .6 0 1 0 1.2 0a.6 .6 0 1 0 -1.2 0z" fill="none" stroke="#e5334b" stroke-width=".95"/><path d="M283 625.1a.6 .6 0 1 0 1.2 0a.6 .6 0 1 0 -1.2 0z" fill="none" stroke="#e5334b" stroke-width=".95"/><path d="M282.9 626.6h1.5l-.7 -1.4z" fill="#ff78c8"/><path d="M282.9 626.7a.6 .6 0 1 0 1.2 0a.6 .6 0 1 0 -1.2 0z" fill="none" stroke="#e5334b" stroke-width=".95"/><path d="M283.4 626.8l.7 .7l-.7 .7l-.7 -.7z" fill="#cc1638"/><path d="M283.3 628.3a.6 .6 0 1 0 1.2 0a.6 .6 0 1 0 -1.2 0z" fill="none" stroke="#e5334b" stroke-width=".95"/><path d="M283.1 629.2a.6 .6 0 1 0 1.2 0a.6 .6 0 1 0 -1.2 0z" fill="none" stroke="#e5334b" stroke-width=".95"/><path d="M282.9 630a.6 .6 0 1 0 1.2 0a.6 .6 0 1 0 -1.2 0z" fill="none" stroke="#e5334b" stroke-width=".95"/><path d="M282.7 631.5h1.5l-.7 -1.4z" fill="#ff78c8"/><path d="M283.1 630.9h1.5l-.7 1.4z" fill="none" stroke="#1f4fbf" stroke-width=".95"/><path d="M282.7 633.1h1.5l-.7 -1.4z" fill="none" stroke="#1fc3ef" stroke-width=".95"/><path d="M282.7 633.9h1.5l-.7 -1.4z" fill="none" stroke="#1fc3ef" stroke-width=".95"/><path d="M282.9 634.7h1.5l-.7 -1.4z" fill="none" stroke="#1fc3ef" stroke-width=".95"/><path d="M283 635.6h1.5l-.7 -1.4z" fill="none" stroke="#1fc3ef" stroke-width=".95"/><path d="M283 636.4h1.5l-.7 -1.4z" fill="none" stroke="#1fc3ef" stroke-width=".95"/><path d="M282.7 637.2h1.5l-.7 -1.4z" fill="none" stroke="#1fc3ef" stroke-width=".95"/><path d="M283.5 636.6l.7 .7l-.7 .7l-.7 -.7z" fill="#b3a000"/><path d="M283 637.5h1.2v1.2h-1.2z" fill="none" stroke="#d9731f" stroke-width=".95"/><path d="M283.2 638.3h1.2v1.2h-1.2z" fill="none" stroke="#d9731f" stroke-width=".95"/><path d="M283.4 639.1h1.2v1.2h-1.2z" fill="none" stroke="#d9731f" stroke-width=".95"/><path d="M283.2 639.9h1.2v1.2h-1.2z" fill="none" stroke="#d9731f" stroke-width=".95"/><path d="M283 640.8h1.2v1.2h-1.2z" fill="#b4591a"/><path d="M283.3 641.6h1.2v1.2h-1.2z" fill="none" stroke="#d9731f" stroke-width=".95"/><path d="M283.2 642.4h1.2v1.2h-1.2z" fill="none" stroke="#d9731f" stroke-width=".95"/><path d="M290.4 662.8h1.8l-.9 -1.8z" fill="#ff78c8"/><path d="M286.1 655.3h1.8l-.9 1.8z" fill="none" stroke="#1f4fbf" stroke-width=".95"/><path d="M285.9 655.8h1.8l-.9 1.8z" fill="none" stroke="#1f4fbf" stroke-width=".95"/><path d="M283.6 646.8h1.8l-.9 1.8z" fill="none" stroke="#1f4fbf" stroke-width=".95"/><path d="M290.6 663.4h1.8l-.9 -1.8z" fill="#ff78c8"/><path d="M287.8 658.2a.8 .8 0 1 0 1.5 0a.8 .8 0 1 0 -1.5 0z" fill="#1c8a2c"/><path d="M291.8 662.5h1.5v1.5h-1.5z" fill="#b4591a"/><path d="M283.8 647.8a.8 .8 0 1 0 1.5 0a.8 .8 0 1 0 -1.5 0z" fill="#1c8a2c"/><path d="M285.5 652.4l.9 .9l-.9 .9l-.9 -.9z" fill="#cc1638"/><path d="M294.5 665.5h1.8l-.9 -1.8z" fill="#ff78c8"/><path d="M289.7 660.5h1.5v1.5h-1.5z" fill="none" stroke="#d9731f" stroke-width=".95"/><path d="M292.4 662.5h1.8l-.9 1.8z" fill="#62f74f"/><path d="M294.7 665.1h1.8l-.9 -1.8z" fill="#ff78c8"/><path d="M284.1 652.5h1.8l-.9 -1.8z" fill="none" stroke="#1fc3ef" stroke-width=".95"/><path d="M294.3 663.5h1.8l-.9 1.8z" fill="none" stroke="#1f4fbf" stroke-width=".95"/><path d="M283.4 646.3h1.5v1.5h-1.5z" fill="#b4591a"/><path d="M289.1 660.2h1.8l-.9 1.8z" fill="#62f74f"/><path d="M289.4 662.3h1.8l-.9 -1.8z" fill="none" stroke="#1fc3ef" stroke-width=".95"/><path d="M283.6 643.1a.8 .8 0 1 0 1.5 0a.8 .8 0 1 0 -1.5 0z" fill="#1c8a2c"/><path d="M291.8 663.8h1.8l-.9 -1.8z" fill="#ff78c8"/><path d="M292.3 662.2h1.8l-.9 1.8z" fill="none" stroke="#1f4fbf" stroke-width=".95"/><path d="M285.4 655.5h1.8l-.9 1.8z" fill="none" stroke="#1f4fbf" stroke-width=".95"/><path d="M299.8 664.4h2.4l-1.2 2.3z" fill="#62f74f"/><path d="M311.3 663.5h2.4l-1.2 2.3z" fill="#62f74f"/><path d="M318.3 666.2h2.4l-1.2 2.3z" fill="#62f74f"/><path d="M337.8 665.2h2.4l-1.2 2.3z" fill="#62f74f"/><path d="M338.8 665.9h2.4l-1.2 2.3z" fill="#62f74f"/><path d="M290.3 657.9h2.4l-1.2 2.3z" fill="#62f74f"/><path d="M291 660.1h2l-1 1.9z" fill="none" stroke="#1f4fbf" stroke-width=".95"/><path d="M293 661.6h2l-1 1.9z" fill="none" stroke="#1f4fbf" stroke-width=".95"/><path d="M295 662.6h2l-1 1.9z" fill="none" stroke="#1f4fbf" stroke-width=".95"/><path d="M296.5 663.6h2l-1 1.9z" fill="none" stroke="#1f4fbf" stroke-width=".95"/></svg></body></html>
